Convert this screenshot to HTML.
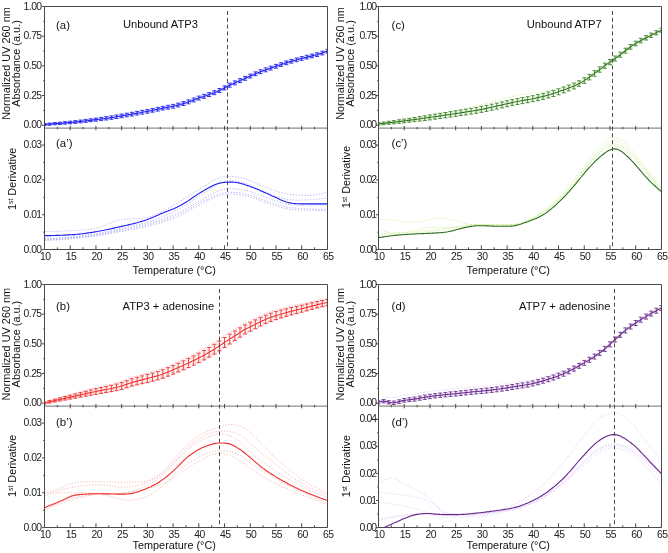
<!DOCTYPE html><html><head><meta charset="utf-8"><style>html,body{margin:0;padding:0;background:#fff;width:668px;height:553px;overflow:hidden}svg{display:block;will-change:transform}</style></head><body>
<svg width="668" height="553" viewBox="0 0 668 553" font-family='"Liberation Sans", sans-serif'>
<rect width="668" height="553" fill="#fff"/>
<clipPath id="cua"><rect x="44.50" y="6.50" width="283.00" height="121.60"/></clipPath>
<clipPath id="cla"><rect x="44.50" y="128.10" width="283.00" height="121.40"/></clipPath>
<g clip-path="url(#cua)"><path d="M44.5 123.7L45.8 123.6L47.1 123.5L48.4 123.4L49.6 123.3L50.9 123.2L52.2 123.1L53.5 123.0L54.8 122.8L56.1 122.7L57.4 122.6L58.6 122.5L59.9 122.4L61.2 122.3L62.5 122.2L63.8 122.1L65.1 122.0L66.4 121.8L67.6 121.7L68.9 121.6L70.2 121.5L71.5 121.3L72.8 121.2L74.1 121.1L75.4 120.9L76.7 120.8L77.9 120.6L79.2 120.5L80.5 120.3L81.8 120.2L83.1 120.0L84.4 119.9L85.7 119.7L86.9 119.6L88.2 119.4L89.5 119.2L90.8 119.1L92.1 118.9L93.4 118.7L94.7 118.6L95.9 118.4L97.2 118.2L98.5 118.1L99.8 117.9L101.1 117.7L102.4 117.6L103.7 117.4L104.9 117.2L106.2 117.0L107.5 116.8L108.8 116.6L110.1 116.4L111.4 116.2L112.7 116.0L113.9 115.8L115.2 115.6L116.5 115.3L117.8 115.1L119.1 114.9L120.4 114.6L121.7 114.4L122.9 114.2L124.2 114.0L125.5 113.8L126.8 113.6L128.1 113.4L129.4 113.1L130.7 112.9L131.9 112.7L133.2 112.5L134.5 112.2L135.8 112.0L137.1 111.7L138.4 111.5L139.7 111.3L140.9 111.0L142.2 110.8L143.5 110.5L144.8 110.3L146.1 110.1L147.4 109.8L148.7 109.6L150.0 109.3L151.2 109.1L152.5 108.8L153.8 108.6L155.1 108.3L156.4 108.0L157.7 107.7L159.0 107.4L160.2 107.2L161.5 106.9L162.8 106.6L164.1 106.4L165.4 106.1L166.7 105.9L168.0 105.7L169.2 105.5L170.5 105.2L171.8 105.0L173.1 104.7L174.4 104.5L175.7 104.2L177.0 103.8L178.2 103.5L179.5 103.2L180.8 102.8L182.1 102.4L183.4 102.0L184.7 101.6L186.0 101.2L187.2 100.7L188.5 100.3L189.8 99.8L191.1 99.4L192.4 98.9L193.7 98.4L195.0 97.9L196.2 97.4L197.5 97.0L198.8 96.5L200.1 96.0L201.4 95.6L202.7 95.2L204.0 94.7L205.2 94.3L206.5 93.9L207.8 93.4L209.1 93.0L210.4 92.5L211.7 92.1L213.0 91.6L214.3 91.1L215.5 90.6L216.8 90.1L218.1 89.5L219.4 88.9L220.7 88.3L222.0 87.7L223.3 87.0L224.5 86.3L225.8 85.6L227.1 84.9L228.4 84.2L229.7 83.6L231.0 83.0L232.3 82.4L233.5 81.8L234.8 81.3L236.1 80.7L237.4 80.2L238.7 79.6L240.0 79.1L241.3 78.5L242.5 77.9L243.8 77.3L245.1 76.8L246.4 76.2L247.7 75.6L249.0 75.0L250.3 74.5L251.5 73.9L252.8 73.3L254.1 72.8L255.4 72.3L256.7 71.7L258.0 71.2L259.3 70.7L260.5 70.2L261.8 69.7L263.1 69.2L264.4 68.8L265.7 68.3L267.0 67.9L268.3 67.4L269.6 67.0L270.8 66.5L272.1 66.1L273.4 65.7L274.7 65.2L276.0 64.8L277.3 64.4L278.6 63.9L279.8 63.5L281.1 63.0L282.4 62.6L283.7 62.2L285.0 61.8L286.3 61.3L287.6 60.9L288.8 60.5L290.1 60.1L291.4 59.8L292.7 59.4L294.0 59.0L295.3 58.7L296.6 58.3L297.8 58.0L299.1 57.7L300.4 57.3L301.7 57.0L303.0 56.7L304.3 56.3L305.6 56.0L306.8 55.7L308.1 55.4L309.4 55.1L310.7 54.8L312.0 54.5L313.3 54.2L314.6 53.9L315.8 53.5L317.1 53.2L318.4 52.8L319.7 52.4L321.0 52.0L322.3 51.6L323.6 51.1L324.8 50.7L326.1 50.2L327.4 49.7" fill="none" stroke="#9a9af5" stroke-width="0.7" stroke-dasharray="1.3 1.6"/><path d="M44.5 125.2L45.8 125.1L47.1 125.0L48.4 124.9L49.6 124.9L50.9 124.8L52.2 124.7L53.5 124.6L54.8 124.5L56.1 124.4L57.4 124.3L58.6 124.2L59.9 124.2L61.2 124.1L62.5 124.0L63.8 123.9L65.1 123.8L66.4 123.7L67.6 123.6L68.9 123.5L70.2 123.4L71.5 123.3L72.8 123.1L74.1 123.0L75.4 122.9L76.7 122.8L77.9 122.7L79.2 122.5L80.5 122.4L81.8 122.3L83.1 122.1L84.4 122.0L85.7 121.9L86.9 121.7L88.2 121.6L89.5 121.4L90.8 121.3L92.1 121.1L93.4 121.0L94.7 120.8L95.9 120.7L97.2 120.5L98.5 120.4L99.8 120.3L101.1 120.1L102.4 120.0L103.7 119.8L104.9 119.7L106.2 119.5L107.5 119.3L108.8 119.1L110.1 119.0L111.4 118.8L112.7 118.6L113.9 118.4L115.2 118.2L116.5 118.0L117.8 117.7L119.1 117.5L120.4 117.3L121.7 117.1L122.9 116.9L124.2 116.7L125.5 116.5L126.8 116.3L128.1 116.1L129.4 115.9L130.7 115.6L131.9 115.4L133.2 115.2L134.5 115.0L135.8 114.7L137.1 114.5L138.4 114.3L139.7 114.0L140.9 113.8L142.2 113.5L143.5 113.3L144.8 113.1L146.1 112.8L147.4 112.6L148.7 112.4L150.0 112.1L151.2 111.9L152.5 111.6L153.8 111.4L155.1 111.1L156.4 110.8L157.7 110.5L159.0 110.3L160.2 110.0L161.5 109.7L162.8 109.5L164.1 109.2L165.4 109.0L166.7 108.7L168.0 108.5L169.2 108.3L170.5 108.1L171.8 107.8L173.1 107.6L174.4 107.3L175.7 107.0L177.0 106.7L178.2 106.4L179.5 106.0L180.8 105.7L182.1 105.3L183.4 104.9L184.7 104.5L186.0 104.1L187.2 103.6L188.5 103.2L189.8 102.7L191.1 102.3L192.4 101.8L193.7 101.3L195.0 100.8L196.2 100.4L197.5 99.9L198.8 99.4L200.1 99.0L201.4 98.5L202.7 98.1L204.0 97.7L205.2 97.2L206.5 96.8L207.8 96.4L209.1 95.9L210.4 95.5L211.7 95.0L213.0 94.6L214.3 94.1L215.5 93.6L216.8 93.1L218.1 92.5L219.4 91.9L220.7 91.3L222.0 90.7L223.3 90.0L224.5 89.3L225.8 88.6L227.1 87.9L228.4 87.2L229.7 86.6L231.0 86.0L232.3 85.4L233.5 84.8L234.8 84.2L236.1 83.7L237.4 83.1L238.7 82.6L240.0 82.0L241.3 81.4L242.5 80.9L243.8 80.3L245.1 79.7L246.4 79.1L247.7 78.5L249.0 78.0L250.3 77.4L251.5 76.8L252.8 76.3L254.1 75.7L255.4 75.2L256.7 74.6L258.0 74.1L259.3 73.6L260.5 73.1L261.8 72.6L263.1 72.1L264.4 71.7L265.7 71.2L267.0 70.7L268.3 70.3L269.6 69.9L270.8 69.4L272.1 69.0L273.4 68.5L274.7 68.1L276.0 67.7L277.3 67.2L278.6 66.8L279.8 66.3L281.1 65.9L282.4 65.4L283.7 65.0L285.0 64.6L286.3 64.2L287.6 63.8L288.8 63.4L290.1 63.0L291.4 62.6L292.7 62.2L294.0 61.8L295.3 61.5L296.6 61.1L297.8 60.8L299.1 60.4L300.4 60.1L301.7 59.8L303.0 59.4L304.3 59.1L305.6 58.8L306.8 58.5L308.1 58.1L309.4 57.8L310.7 57.5L312.0 57.2L313.3 56.9L314.6 56.6L315.8 56.3L317.1 55.9L318.4 55.6L319.7 55.2L321.0 54.8L322.3 54.3L323.6 53.9L324.8 53.4L326.1 52.9L327.4 52.4" fill="none" stroke="#9a9af5" stroke-width="0.7" stroke-dasharray="1.3 1.6"/><path d="M44.5 124.9L45.8 124.8L47.1 124.7L48.4 124.6L49.6 124.5L50.9 124.4L52.2 124.4L53.5 124.3L54.8 124.2L56.1 124.1L57.4 124.0L58.6 123.9L59.9 123.8L61.2 123.7L62.5 123.6L63.8 123.5L65.1 123.4L66.4 123.3L67.6 123.2L68.9 123.1L70.2 123.0L71.5 122.9L72.8 122.8L74.1 122.6L75.4 122.5L76.7 122.4L77.9 122.3L79.2 122.1L80.5 122.0L81.8 121.9L83.1 121.7L84.4 121.6L85.7 121.4L86.9 121.3L88.2 121.1L89.5 121.0L90.8 120.8L92.1 120.7L93.4 120.5L94.7 120.4L95.9 120.2L97.2 120.1L98.5 119.9L99.8 119.8L101.1 119.6L102.4 119.5L103.7 119.3L104.9 119.2L106.2 119.0L107.5 118.8L108.8 118.6L110.1 118.5L111.4 118.3L112.7 118.1L113.9 117.9L115.2 117.6L116.5 117.4L117.8 117.2L119.1 117.0L120.4 116.8L121.7 116.6L122.9 116.4L124.2 116.2L125.5 116.0L126.8 115.7L128.1 115.5L129.4 115.3L130.7 115.1L131.9 114.9L133.2 114.6L134.5 114.4L135.8 114.2L137.1 113.9L138.4 113.7L139.7 113.5L140.9 113.2L142.2 113.0L143.5 112.7L144.8 112.5L146.1 112.3L147.4 112.0L148.7 111.8L150.0 111.6L151.2 111.3L152.5 111.1L153.8 110.8L155.1 110.5L156.4 110.3L157.7 110.0L159.0 109.7L160.2 109.4L161.5 109.1L162.8 108.9L164.1 108.6L165.4 108.4L166.7 108.2L168.0 108.0L169.2 107.7L170.5 107.5L171.8 107.3L173.1 107.0L174.4 106.7L175.7 106.4L177.0 106.1L178.2 105.8L179.5 105.5L180.8 105.1L182.1 104.7L183.4 104.3L184.7 103.9L186.0 103.5L187.2 103.0L188.5 102.6L189.8 102.1L191.1 101.7L192.4 101.2L193.7 100.7L195.0 100.3L196.2 99.8L197.5 99.3L198.8 98.8L200.1 98.4L201.4 97.9L202.7 97.5L204.0 97.1L205.2 96.6L206.5 96.2L207.8 95.8L209.1 95.3L210.4 94.9L211.7 94.4L213.0 94.0L214.3 93.5L215.5 93.0L216.8 92.5L218.1 91.9L219.4 91.3L220.7 90.7L222.0 90.1L223.3 89.4L224.5 88.7L225.8 88.0L227.1 87.3L228.4 86.6L229.7 86.0L231.0 85.4L232.3 84.8L233.5 84.2L234.8 83.6L236.1 83.1L237.4 82.5L238.7 82.0L240.0 81.4L241.3 80.9L242.5 80.3L243.8 79.7L245.1 79.1L246.4 78.5L247.7 78.0L249.0 77.4L250.3 76.8L251.5 76.2L252.8 75.7L254.1 75.1L255.4 74.6L256.7 74.0L258.0 73.5L259.3 73.0L260.5 72.5L261.8 72.0L263.1 71.5L264.4 71.1L265.7 70.6L267.0 70.2L268.3 69.7L269.6 69.3L270.8 68.8L272.1 68.4L273.4 68.0L274.7 67.5L276.0 67.1L277.3 66.6L278.6 66.2L279.8 65.8L281.1 65.3L282.4 64.9L283.7 64.4L285.0 64.0L286.3 63.6L287.6 63.2L288.8 62.8L290.1 62.4L291.4 62.0L292.7 61.6L294.0 61.3L295.3 60.9L296.6 60.6L297.8 60.2L299.1 59.9L300.4 59.5L301.7 59.2L303.0 58.9L304.3 58.5L305.6 58.2L306.8 57.9L308.1 57.6L309.4 57.3L310.7 57.0L312.0 56.7L313.3 56.4L314.6 56.1L315.8 55.7L317.1 55.4L318.4 55.0L319.7 54.6L321.0 54.2L322.3 53.8L323.6 53.3L324.8 52.8L326.1 52.3L327.4 51.8" fill="none" stroke="#9a9af5" stroke-width="0.7" stroke-dasharray="1.3 1.6"/><path d="M44.5 124.2L45.8 124.1L47.1 124.0L48.4 123.9L49.6 123.8L50.9 123.7L52.2 123.6L53.5 123.5L54.8 123.4L56.1 123.3L57.4 123.2L58.6 123.1L59.9 123.0L61.2 122.9L62.5 122.8L63.8 122.7L65.1 122.6L66.4 122.5L67.6 122.3L68.9 122.2L70.2 122.1L71.5 122.0L72.8 121.9L74.1 121.7L75.4 121.6L76.7 121.5L77.9 121.3L79.2 121.2L80.5 121.0L81.8 120.9L83.1 120.7L84.4 120.6L85.7 120.4L86.9 120.3L88.2 120.1L89.5 120.0L90.8 119.8L92.1 119.6L93.4 119.5L94.7 119.3L95.9 119.2L97.2 119.0L98.5 118.8L99.8 118.7L101.1 118.5L102.4 118.4L103.7 118.2L104.9 118.0L106.2 117.8L107.5 117.7L108.8 117.5L110.1 117.3L111.4 117.1L112.7 116.9L113.9 116.7L115.2 116.4L116.5 116.2L117.8 116.0L119.1 115.8L120.4 115.5L121.7 115.3L122.9 115.1L124.2 114.9L125.5 114.7L126.8 114.5L128.1 114.3L129.4 114.0L130.7 113.8L131.9 113.6L133.2 113.4L134.5 113.1L135.8 112.9L137.1 112.7L138.4 112.4L139.7 112.2L140.9 111.9L142.2 111.7L143.5 111.5L144.8 111.2L146.1 111.0L147.4 110.7L148.7 110.5L150.0 110.3L151.2 110.0L152.5 109.8L153.8 109.5L155.1 109.2L156.4 108.9L157.7 108.7L159.0 108.4L160.2 108.1L161.5 107.8L162.8 107.6L164.1 107.3L165.4 107.1L166.7 106.9L168.0 106.6L169.2 106.4L170.5 106.2L171.8 105.9L173.1 105.7L174.4 105.4L175.7 105.1L177.0 104.8L178.2 104.5L179.5 104.1L180.8 103.8L182.1 103.4L183.4 103.0L184.7 102.6L186.0 102.1L187.2 101.7L188.5 101.2L189.8 100.8L191.1 100.3L192.4 99.8L193.7 99.4L195.0 98.9L196.2 98.4L197.5 97.9L198.8 97.5L200.1 97.0L201.4 96.6L202.7 96.1L204.0 95.7L205.2 95.3L206.5 94.8L207.8 94.4L209.1 94.0L210.4 93.5L211.7 93.0L213.0 92.6L214.3 92.1L215.5 91.6L216.8 91.1L218.1 90.5L219.4 89.9L220.7 89.3L222.0 88.7L223.3 88.0L224.5 87.3L225.8 86.6L227.1 85.9L228.4 85.2L229.7 84.6L231.0 84.0L232.3 83.4L233.5 82.8L234.8 82.3L236.1 81.7L237.4 81.2L238.7 80.6L240.0 80.1L241.3 79.5L242.5 78.9L243.8 78.3L245.1 77.7L246.4 77.2L247.7 76.6L249.0 76.0L250.3 75.4L251.5 74.9L252.8 74.3L254.1 73.8L255.4 73.2L256.7 72.7L258.0 72.2L259.3 71.7L260.5 71.2L261.8 70.7L263.1 70.2L264.4 69.7L265.7 69.3L267.0 68.8L268.3 68.4L269.6 67.9L270.8 67.5L272.1 67.1L273.4 66.6L274.7 66.2L276.0 65.8L277.3 65.3L278.6 64.9L279.8 64.4L281.1 64.0L282.4 63.6L283.7 63.1L285.0 62.7L286.3 62.3L287.6 61.9L288.8 61.5L290.1 61.1L291.4 60.7L292.7 60.3L294.0 60.0L295.3 59.6L296.6 59.3L297.8 58.9L299.1 58.6L300.4 58.2L301.7 57.9L303.0 57.6L304.3 57.3L305.6 56.9L306.8 56.6L308.1 56.3L309.4 56.0L310.7 55.7L312.0 55.4L313.3 55.1L314.6 54.8L315.8 54.4L317.1 54.1L318.4 53.7L319.7 53.4L321.0 52.9L322.3 52.5L323.6 52.1L324.8 51.6L326.1 51.1L327.4 50.6" fill="none" stroke="#9a9af5" stroke-width="0.7" stroke-dasharray="1.3 1.6"/></g>
<g clip-path="url(#cua)">
<path d="M44.5 124.5L45.8 124.4L47.1 124.3L48.4 124.2L49.6 124.1L50.9 124.0L52.2 123.9L53.5 123.8L54.8 123.7L56.1 123.6L57.4 123.5L58.6 123.4L59.9 123.3L61.2 123.2L62.5 123.1L63.8 123.0L65.1 122.9L66.4 122.8L67.6 122.7L68.9 122.6L70.2 122.5L71.5 122.4L72.8 122.2L74.1 122.1L75.4 122.0L76.7 121.9L77.9 121.7L79.2 121.6L80.5 121.4L81.8 121.3L83.1 121.2L84.4 121.0L85.7 120.9L86.9 120.7L88.2 120.6L89.5 120.4L90.8 120.2L92.1 120.1L93.4 119.9L94.7 119.8L95.9 119.6L97.2 119.5L98.5 119.3L99.8 119.2L101.1 119.0L102.4 118.8L103.7 118.7L104.9 118.5L106.2 118.3L107.5 118.2L108.8 118.0L110.1 117.8L111.4 117.6L112.7 117.4L113.9 117.2L115.2 117.0L116.5 116.7L117.8 116.5L119.1 116.3L120.4 116.1L121.7 115.9L122.9 115.7L124.2 115.4L125.5 115.2L126.8 115.0L128.1 114.8L129.4 114.6L130.7 114.4L131.9 114.1L133.2 113.9L134.5 113.7L135.8 113.4L137.1 113.2L138.4 113.0L139.7 112.7L140.9 112.5L142.2 112.2L143.5 112.0L144.8 111.8L146.1 111.5L147.4 111.3L148.7 111.1L150.0 110.8L151.2 110.6L152.5 110.3L153.8 110.1L155.1 109.8L156.4 109.5L157.7 109.2L159.0 108.9L160.2 108.7L161.5 108.4L162.8 108.1L164.1 107.9L165.4 107.7L166.7 107.4L168.0 107.2L169.2 107.0L170.5 106.7L171.8 106.5L173.1 106.3L174.4 106.0L175.7 105.7L177.0 105.4L178.2 105.0L179.5 104.7L180.8 104.3L182.1 103.9L183.4 103.6L184.7 103.1L186.0 102.7L187.2 102.3L188.5 101.8L189.8 101.4L191.1 100.9L192.4 100.4L193.7 100.0L195.0 99.5L196.2 99.0L197.5 98.5L198.8 98.1L200.1 97.6L201.4 97.2L202.7 96.7L204.0 96.3L205.2 95.9L206.5 95.4L207.8 95.0L209.1 94.6L210.4 94.1L211.7 93.6L213.0 93.2L214.3 92.7L215.5 92.2L216.8 91.7L218.1 91.1L219.4 90.5L220.7 89.9L222.0 89.3L223.3 88.6L224.5 87.9L225.8 87.2L227.1 86.5L228.4 85.8L229.7 85.2L231.0 84.6L232.3 84.0L233.5 83.4L234.8 82.9L236.1 82.3L237.4 81.8L238.7 81.2L240.0 80.6L241.3 80.1L242.5 79.5L243.8 78.9L245.1 78.3L246.4 77.7L247.7 77.2L249.0 76.6L250.3 76.0L251.5 75.5L252.8 74.9L254.1 74.4L255.4 73.8L256.7 73.3L258.0 72.8L259.3 72.2L260.5 71.7L261.8 71.3L263.1 70.8L264.4 70.3L265.7 69.9L267.0 69.4L268.3 69.0L269.6 68.5L270.8 68.1L272.1 67.6L273.4 67.2L274.7 66.8L276.0 66.3L277.3 65.9L278.6 65.4L279.8 65.0L281.1 64.6L282.4 64.1L283.7 63.7L285.0 63.3L286.3 62.8L287.6 62.4L288.8 62.0L290.1 61.6L291.4 61.3L292.7 60.9L294.0 60.5L295.3 60.2L296.6 59.8L297.8 59.5L299.1 59.1L300.4 58.8L301.7 58.5L303.0 58.1L304.3 57.8L305.6 57.5L306.8 57.2L308.1 56.9L309.4 56.6L310.7 56.3L312.0 55.9L313.3 55.6L314.6 55.3L315.8 55.0L317.1 54.7L318.4 54.3L319.7 53.9L321.0 53.5L322.3 53.1L323.6 52.6L324.8 52.1L326.1 51.6L327.4 51.1" fill="none" stroke="#1c1cf4" stroke-width="1.1"/>
<path d="M44.5 123.5V125.5M42.5 123.5H46.5M42.5 125.5H46.5M49.6 123.1V125.2M47.6 123.1H51.6M47.6 125.2H51.6M54.8 122.6V124.8M52.8 122.6H56.8M52.8 124.8H56.8M59.9 122.2V124.5M57.9 122.2H61.9M57.9 124.5H61.9M65.1 121.7V124.1M63.1 121.7H67.1M63.1 124.1H67.1M70.2 121.2V123.8M68.2 121.2H72.2M68.2 123.8H72.2M75.4 120.7V123.3M73.4 120.7H77.4M73.4 123.3H77.4M80.5 120.1V122.8M78.5 120.1H82.5M78.5 122.8H82.5M85.7 119.4V122.3M83.7 119.4H87.7M83.7 122.3H87.7M90.8 118.8V121.7M88.8 118.8H92.8M88.8 121.7H92.8M95.9 118.1V121.2M93.9 118.1H97.9M93.9 121.2H97.9M101.1 117.4V120.6M99.1 117.4H103.1M99.1 120.6H103.1M106.2 116.7V120.0M104.2 116.7H108.2M104.2 120.0H108.2M111.4 115.9V119.3M109.4 115.9H113.4M109.4 119.3H113.4M116.5 115.0V118.5M114.5 115.0H118.5M114.5 118.5H118.5M121.7 114.1V117.7M119.7 114.1H123.7M119.7 117.7H123.7M126.8 113.2V116.8M124.8 113.2H128.8M124.8 116.8H128.8M131.9 112.3V116.0M129.9 112.3H133.9M129.9 116.0H133.9M137.1 111.4V115.0M135.1 111.4H139.1M135.1 115.0H139.1M142.2 110.4V114.1M140.2 110.4H144.2M140.2 114.1H144.2M147.4 109.5V113.2M145.4 109.5H149.4M145.4 113.2H149.4M152.5 108.5V112.2M150.5 108.5H154.5M150.5 112.2H154.5M157.7 107.4V111.1M155.7 107.4H159.7M155.7 111.1H159.7M162.8 106.3V110.0M160.8 106.3H164.8M160.8 110.0H164.8M168.0 105.3V109.1M166.0 105.3H170.0M166.0 109.1H170.0M173.1 104.4V108.2M171.1 104.4H175.1M171.1 108.2H175.1M178.2 103.1V106.9M176.2 103.1H180.2M176.2 106.9H180.2M183.4 101.6V105.5M181.4 101.6H185.4M181.4 105.5H185.4M188.5 99.9V103.8M186.5 99.9H190.5M186.5 103.8H190.5M193.7 98.0V101.9M191.7 98.0H195.7M191.7 101.9H195.7M198.8 96.1V100.0M196.8 96.1H200.8M196.8 100.0H200.8M204.0 94.3V98.3M202.0 94.3H206.0M202.0 98.3H206.0M209.1 92.6V96.5M207.1 92.6H211.1M207.1 96.5H211.1M214.3 90.7V94.7M212.3 90.7H216.3M212.3 94.7H216.3M219.4 88.5V92.5M217.4 88.5H221.4M217.4 92.5H221.4M224.5 85.9V89.9M222.5 85.9H226.5M222.5 89.9H226.5M229.7 83.2V87.2M227.7 83.2H231.7M227.7 87.2H231.7M234.8 80.9V84.8M232.8 80.9H236.8M232.8 84.8H236.8M240.0 78.7V82.6M238.0 78.7H242.0M238.0 82.6H242.0M245.1 76.4V80.3M243.1 76.4H247.1M243.1 80.3H247.1M250.3 74.1V78.0M248.3 74.1H252.3M248.3 78.0H252.3M255.4 71.9V75.7M253.4 71.9H257.4M253.4 75.7H257.4M260.5 69.8V73.7M258.5 69.8H262.5M258.5 73.7H262.5M265.7 67.9V71.8M263.7 67.9H267.7M263.7 71.8H267.7M270.8 66.2V70.0M268.8 66.2H272.8M268.8 70.0H272.8M276.0 64.4V68.2M274.0 64.4H278.0M274.0 68.2H278.0M281.1 62.7V66.4M279.1 62.7H283.1M279.1 66.4H283.1M286.3 61.0V64.7M284.3 61.0H288.3M284.3 64.7H288.3M291.4 59.4V63.1M289.4 59.4H293.4M289.4 63.1H293.4M296.6 58.0V61.7M294.6 58.0H298.6M294.6 61.7H298.6M301.7 56.6V60.3M299.7 56.6H303.7M299.7 60.3H303.7M306.8 55.3V59.0M304.8 55.3H308.8M304.8 59.0H308.8M312.0 54.1V57.8M310.0 54.1H314.0M310.0 57.8H314.0M317.1 52.8V56.5M315.1 52.8H319.1M315.1 56.5H319.1M322.3 51.2V54.9M320.3 51.2H324.3M320.3 54.9H324.3M327.4 49.3V52.9M325.4 49.3H329.4M325.4 52.9H329.4" fill="none" stroke="#2525f2" stroke-width="0.9"/>
</g>
<g clip-path="url(#cla)"><path d="M44.5 231.5L45.8 231.5L47.1 231.5L48.4 231.4L49.6 231.4L50.9 231.4L52.2 231.4L53.5 231.4L54.8 231.3L56.1 231.3L57.4 231.3L58.6 231.2L59.9 231.2L61.2 231.2L62.5 231.1L63.8 231.1L65.1 231.0L66.4 230.9L67.6 230.9L68.9 230.8L70.2 230.7L71.5 230.7L72.8 230.6L74.1 230.5L75.4 230.4L76.7 230.4L77.9 230.3L79.2 230.2L80.5 230.1L81.8 230.0L83.1 229.9L84.4 229.8L85.7 229.7L86.9 229.6L88.2 229.5L89.5 229.3L90.8 229.2L92.1 229.0L93.4 228.8L94.7 228.6L95.9 228.3L97.2 228.0L98.5 227.7L99.8 227.2L101.1 226.8L102.4 226.3L103.7 225.8L104.9 225.2L106.2 224.7L107.5 224.1L108.8 223.5L110.1 223.0L111.4 222.5L112.7 221.9L113.9 221.5L115.2 221.0L116.5 220.6L117.8 220.3L119.1 220.0L120.4 219.7L121.7 219.5L122.9 219.3L124.2 219.2L125.5 219.1L126.8 219.0L128.1 219.0L129.4 218.9L130.7 218.9L131.9 218.8L133.2 218.8L134.5 218.7L135.8 218.7L137.1 218.6L138.4 218.5L139.7 218.5L140.9 218.4L142.2 218.3L143.5 218.1L144.8 217.9L146.1 217.7L147.4 217.4L148.7 217.1L150.0 216.7L151.2 216.3L152.5 215.8L153.8 215.3L155.1 214.8L156.4 214.2L157.7 213.7L159.0 213.1L160.2 212.5L161.5 211.8L162.8 211.2L164.1 210.6L165.4 209.9L166.7 209.3L168.0 208.6L169.2 207.9L170.5 207.2L171.8 206.4L173.1 205.7L174.4 204.9L175.7 204.1L177.0 203.3L178.2 202.5L179.5 201.7L180.8 200.9L182.1 200.1L183.4 199.2L184.7 198.4L186.0 197.6L187.2 196.7L188.5 195.9L189.8 195.1L191.1 194.3L192.4 193.5L193.7 192.7L195.0 191.9L196.2 191.2L197.5 190.4L198.8 189.6L200.1 188.8L201.4 188.0L202.7 187.2L204.0 186.4L205.2 185.5L206.5 184.7L207.8 183.9L209.1 183.0L210.4 182.2L211.7 181.4L213.0 180.7L214.3 180.0L215.5 179.3L216.8 178.7L218.1 178.2L219.4 177.8L220.7 177.4L222.0 177.1L223.3 176.9L224.5 176.7L225.8 176.6L227.1 176.5L228.4 176.5L229.7 176.5L231.0 176.5L232.3 176.5L233.5 176.5L234.8 176.6L236.1 176.7L237.4 176.9L238.7 177.1L240.0 177.3L241.3 177.6L242.5 178.0L243.8 178.4L245.1 178.8L246.4 179.3L247.7 179.8L249.0 180.3L250.3 180.9L251.5 181.4L252.8 181.9L254.1 182.5L255.4 183.0L256.7 183.6L258.0 184.1L259.3 184.6L260.5 185.1L261.8 185.6L263.1 186.1L264.4 186.6L265.7 187.1L267.0 187.6L268.3 188.1L269.6 188.6L270.8 189.1L272.1 189.6L273.4 190.1L274.7 190.6L276.0 191.0L277.3 191.4L278.6 191.9L279.8 192.2L281.1 192.6L282.4 192.9L283.7 193.2L285.0 193.5L286.3 193.7L287.6 193.9L288.8 194.1L290.1 194.3L291.4 194.5L292.7 194.6L294.0 194.7L295.3 194.9L296.6 195.0L297.8 195.1L299.1 195.2L300.4 195.3L301.7 195.4L303.0 195.4L304.3 195.4L305.6 195.5L306.8 195.5L308.1 195.4L309.4 195.4L310.7 195.3L312.0 195.2L313.3 195.0L314.6 194.9L315.8 194.7L317.1 194.5L318.4 194.2L319.7 194.0L321.0 193.7L322.3 193.4L323.6 193.1L324.8 192.7L326.1 192.4L327.4 192.0" fill="none" stroke="#9a9af5" stroke-width="0.7" stroke-dasharray="1.3 1.6"/><path d="M44.5 238.4L45.8 238.4L47.1 238.4L48.4 238.4L49.6 238.3L50.9 238.3L52.2 238.3L53.5 238.2L54.8 238.2L56.1 238.1L57.4 238.0L58.6 237.9L59.9 237.9L61.2 237.8L62.5 237.7L63.8 237.6L65.1 237.5L66.4 237.4L67.6 237.2L68.9 237.1L70.2 237.0L71.5 236.9L72.8 236.7L74.1 236.6L75.4 236.5L76.7 236.3L77.9 236.2L79.2 236.0L80.5 235.9L81.8 235.7L83.1 235.6L84.4 235.4L85.7 235.2L86.9 235.1L88.2 234.9L89.5 234.7L90.8 234.6L92.1 234.4L93.4 234.2L94.7 234.0L95.9 233.8L97.2 233.6L98.5 233.4L99.8 233.1L101.1 232.9L102.4 232.6L103.7 232.3L104.9 232.0L106.2 231.7L107.5 231.4L108.8 231.1L110.1 230.8L111.4 230.5L112.7 230.2L113.9 229.9L115.2 229.6L116.5 229.3L117.8 229.0L119.1 228.7L120.4 228.4L121.7 228.2L122.9 227.9L124.2 227.6L125.5 227.4L126.8 227.1L128.1 226.8L129.4 226.6L130.7 226.3L131.9 226.0L133.2 225.7L134.5 225.5L135.8 225.2L137.1 224.9L138.4 224.6L139.7 224.3L140.9 223.9L142.2 223.6L143.5 223.3L144.8 222.9L146.1 222.5L147.4 222.1L148.7 221.7L150.0 221.3L151.2 220.9L152.5 220.5L153.8 220.0L155.1 219.6L156.4 219.1L157.7 218.6L159.0 218.1L160.2 217.6L161.5 217.1L162.8 216.5L164.1 216.0L165.4 215.5L166.7 214.9L168.0 214.3L169.2 213.8L170.5 213.2L171.8 212.6L173.1 212.0L174.4 211.4L175.7 210.7L177.0 210.1L178.2 209.4L179.5 208.7L180.8 208.0L182.1 207.3L183.4 206.5L184.7 205.8L186.0 205.0L187.2 204.1L188.5 203.3L189.8 202.5L191.1 201.6L192.4 200.7L193.7 199.9L195.0 199.0L196.2 198.2L197.5 197.3L198.8 196.4L200.1 195.6L201.4 194.8L202.7 193.9L204.0 193.1L205.2 192.2L206.5 191.4L207.8 190.5L209.1 189.6L210.4 188.7L211.7 187.8L213.0 186.9L214.3 186.0L215.5 185.2L216.8 184.4L218.1 183.7L219.4 183.0L220.7 182.4L222.0 181.9L223.3 181.4L224.5 181.1L225.8 180.8L227.1 180.7L228.4 180.6L229.7 180.6L231.0 180.6L232.3 180.7L233.5 180.8L234.8 181.0L236.1 181.1L237.4 181.3L238.7 181.6L240.0 181.8L241.3 182.1L242.5 182.4L243.8 182.8L245.1 183.2L246.4 183.6L247.7 184.1L249.0 184.6L250.3 185.2L251.5 185.7L252.8 186.3L254.1 186.9L255.4 187.5L256.7 188.1L258.0 188.7L259.3 189.3L260.5 189.9L261.8 190.4L263.1 191.0L264.4 191.5L265.7 192.1L267.0 192.6L268.3 193.1L269.6 193.6L270.8 194.1L272.1 194.6L273.4 195.2L274.7 195.7L276.0 196.2L277.3 196.7L278.6 197.1L279.8 197.6L281.1 198.0L282.4 198.4L283.7 198.7L285.0 199.0L286.3 199.3L287.6 199.5L288.8 199.7L290.1 199.8L291.4 199.9L292.7 200.0L294.0 200.0L295.3 200.1L296.6 200.1L297.8 200.1L299.1 200.1L300.4 200.1L301.7 200.0L303.0 200.0L304.3 200.0L305.6 200.0L306.8 199.9L308.1 199.9L309.4 199.8L310.7 199.7L312.0 199.7L313.3 199.6L314.6 199.5L315.8 199.4L317.1 199.3L318.4 199.2L319.7 199.0L321.0 198.9L322.3 198.7L323.6 198.6L324.8 198.4L326.1 198.2L327.4 197.9" fill="none" stroke="#9a9af5" stroke-width="0.7" stroke-dasharray="1.3 1.6"/><path d="M44.5 239.1L45.8 239.1L47.1 239.1L48.4 239.0L49.6 239.0L50.9 239.0L52.2 238.9L53.5 238.9L54.8 238.8L56.1 238.7L57.4 238.7L58.6 238.6L59.9 238.5L61.2 238.4L62.5 238.3L63.8 238.2L65.1 238.1L66.4 238.0L67.6 237.9L68.9 237.7L70.2 237.6L71.5 237.5L72.8 237.4L74.1 237.2L75.4 237.1L76.7 237.0L77.9 236.8L79.2 236.7L80.5 236.5L81.8 236.4L83.1 236.2L84.4 236.1L85.7 235.9L86.9 235.8L88.2 235.6L89.5 235.4L90.8 235.3L92.1 235.1L93.4 234.9L94.7 234.7L95.9 234.5L97.2 234.3L98.5 234.1L99.8 233.9L101.1 233.6L102.4 233.4L103.7 233.1L104.9 232.9L106.2 232.6L107.5 232.3L108.8 232.0L110.1 231.7L111.4 231.4L112.7 231.2L113.9 230.9L115.2 230.6L116.5 230.3L117.8 230.0L119.1 229.8L120.4 229.5L121.7 229.2L122.9 229.0L124.2 228.7L125.5 228.5L126.8 228.2L128.1 228.0L129.4 227.7L130.7 227.5L131.9 227.2L133.2 226.9L134.5 226.7L135.8 226.4L137.1 226.1L138.4 225.9L139.7 225.6L140.9 225.3L142.2 225.0L143.5 224.7L144.8 224.3L146.1 224.0L147.4 223.7L148.7 223.3L150.0 223.0L151.2 222.6L152.5 222.2L153.8 221.8L155.1 221.4L156.4 221.0L157.7 220.6L159.0 220.2L160.2 219.8L161.5 219.4L162.8 218.9L164.1 218.5L165.4 218.0L166.7 217.6L168.0 217.1L169.2 216.6L170.5 216.1L171.8 215.6L173.1 215.1L174.4 214.6L175.7 214.0L177.0 213.5L178.2 212.9L179.5 212.3L180.8 211.7L182.1 211.0L183.4 210.3L184.7 209.6L186.0 208.9L187.2 208.2L188.5 207.4L189.8 206.6L191.1 205.8L192.4 205.1L193.7 204.3L195.0 203.5L196.2 202.7L197.5 202.0L198.8 201.2L200.1 200.5L201.4 199.8L202.7 199.1L204.0 198.4L205.2 197.7L206.5 197.0L207.8 196.3L209.1 195.6L210.4 194.9L211.7 194.2L213.0 193.6L214.3 192.9L215.5 192.3L216.8 191.7L218.1 191.1L219.4 190.6L220.7 190.2L222.0 189.8L223.3 189.5L224.5 189.2L225.8 189.0L227.1 188.9L228.4 188.8L229.7 188.8L231.0 188.8L232.3 188.8L233.5 188.9L234.8 189.0L236.1 189.1L237.4 189.2L238.7 189.3L240.0 189.5L241.3 189.6L242.5 189.8L243.8 190.1L245.1 190.4L246.4 190.7L247.7 191.0L249.0 191.4L250.3 191.8L251.5 192.2L252.8 192.7L254.1 193.1L255.4 193.6L256.7 194.1L258.0 194.6L259.3 195.0L260.5 195.5L261.8 196.0L263.1 196.4L264.4 196.9L265.7 197.3L267.0 197.8L268.3 198.2L269.6 198.7L270.8 199.2L272.1 199.7L273.4 200.1L274.7 200.6L276.0 201.1L277.3 201.6L278.6 202.0L279.8 202.5L281.1 202.9L282.4 203.3L283.7 203.6L285.0 203.9L286.3 204.2L287.6 204.4L288.8 204.6L290.1 204.7L291.4 204.8L292.7 204.9L294.0 204.9L295.3 205.0L296.6 205.0L297.8 205.0L299.1 205.0L300.4 205.0L301.7 205.0L303.0 205.0L304.3 205.0L305.6 205.0L306.8 205.0L308.1 205.0L309.4 205.0L310.7 205.0L312.0 205.0L313.3 205.0L314.6 205.0L315.8 205.0L317.1 205.0L318.4 205.0L319.7 205.0L321.0 205.0L322.3 205.0L323.6 205.0L324.8 205.0L326.1 205.0L327.4 205.0" fill="none" stroke="#9a9af5" stroke-width="0.7" stroke-dasharray="1.3 1.6"/><path d="M44.5 239.8L45.8 239.8L47.1 239.8L48.4 239.7L49.6 239.7L50.9 239.6L52.2 239.6L53.5 239.5L54.8 239.4L56.1 239.4L57.4 239.3L58.6 239.2L59.9 239.1L61.2 239.0L62.5 238.9L63.8 238.8L65.1 238.7L66.4 238.6L67.6 238.5L68.9 238.4L70.2 238.3L71.5 238.1L72.8 238.0L74.1 237.9L75.4 237.7L76.7 237.6L77.9 237.5L79.2 237.3L80.5 237.2L81.8 237.0L83.1 236.9L84.4 236.7L85.7 236.6L86.9 236.4L88.2 236.3L89.5 236.1L90.8 236.0L92.1 235.8L93.4 235.6L94.7 235.4L95.9 235.3L97.2 235.1L98.5 234.8L99.8 234.6L101.1 234.4L102.4 234.2L103.7 233.9L104.9 233.7L106.2 233.4L107.5 233.2L108.8 232.9L110.1 232.6L111.4 232.4L112.7 232.1L113.9 231.8L115.2 231.6L116.5 231.3L117.8 231.1L119.1 230.8L120.4 230.6L121.7 230.3L122.9 230.1L124.2 229.8L125.5 229.6L126.8 229.4L128.1 229.1L129.4 228.9L130.7 228.7L131.9 228.4L133.2 228.2L134.5 227.9L135.8 227.7L137.1 227.4L138.4 227.2L139.7 226.9L140.9 226.6L142.2 226.3L143.5 226.0L144.8 225.7L146.1 225.4L147.4 225.1L148.7 224.8L150.0 224.4L151.2 224.1L152.5 223.7L153.8 223.3L155.1 223.0L156.4 222.6L157.7 222.2L159.0 221.8L160.2 221.4L161.5 220.9L162.8 220.5L164.1 220.1L165.4 219.6L166.7 219.2L168.0 218.7L169.2 218.2L170.5 217.8L171.8 217.3L173.1 216.8L174.4 216.3L175.7 215.7L177.0 215.2L178.2 214.6L179.5 214.1L180.8 213.4L182.1 212.8L183.4 212.2L184.7 211.5L186.0 210.8L187.2 210.1L188.5 209.4L189.8 208.6L191.1 207.9L192.4 207.1L193.7 206.4L195.0 205.6L196.2 204.9L197.5 204.2L198.8 203.5L200.1 202.8L201.4 202.1L202.7 201.5L204.0 200.8L205.2 200.2L206.5 199.6L207.8 198.9L209.1 198.3L210.4 197.7L211.7 197.1L213.0 196.5L214.3 195.9L215.5 195.3L216.8 194.8L218.1 194.3L219.4 193.9L220.7 193.5L222.0 193.1L223.3 192.9L224.5 192.6L225.8 192.5L227.1 192.4L228.4 192.3L229.7 192.3L231.0 192.3L232.3 192.3L233.5 192.4L234.8 192.5L236.1 192.5L237.4 192.7L238.7 192.8L240.0 192.9L241.3 193.1L242.5 193.3L243.8 193.6L245.1 193.9L246.4 194.2L247.7 194.5L249.0 194.9L250.3 195.3L251.5 195.8L252.8 196.2L254.1 196.7L255.4 197.1L256.7 197.6L258.0 198.1L259.3 198.6L260.5 199.0L261.8 199.5L263.1 199.9L264.4 200.4L265.7 200.8L267.0 201.2L268.3 201.6L269.6 202.0L270.8 202.4L272.1 202.9L273.4 203.3L274.7 203.7L276.0 204.1L277.3 204.5L278.6 204.9L279.8 205.3L281.1 205.6L282.4 206.0L283.7 206.3L285.0 206.6L286.3 206.9L287.6 207.1L288.8 207.3L290.1 207.5L291.4 207.7L292.7 207.8L294.0 207.9L295.3 208.1L296.6 208.2L297.8 208.3L299.1 208.4L300.4 208.5L301.7 208.6L303.0 208.6L304.3 208.7L305.6 208.8L306.8 208.9L308.1 208.9L309.4 209.0L310.7 209.1L312.0 209.1L313.3 209.2L314.6 209.2L315.8 209.3L317.1 209.3L318.4 209.4L319.7 209.4L321.0 209.4L322.3 209.5L323.6 209.5L324.8 209.5L326.1 209.5L327.4 209.5" fill="none" stroke="#9a9af5" stroke-width="0.7" stroke-dasharray="1.3 1.6"/><path d="M44.5 240.5L45.8 240.5L47.1 240.4L48.4 240.4L49.6 240.3L50.9 240.3L52.2 240.2L53.5 240.1L54.8 240.1L56.1 240.0L57.4 239.9L58.6 239.8L59.9 239.7L61.2 239.6L62.5 239.5L63.8 239.4L65.1 239.3L66.4 239.2L67.6 239.1L68.9 239.0L70.2 238.9L71.5 238.8L72.8 238.6L74.1 238.5L75.4 238.4L76.7 238.2L77.9 238.1L79.2 238.0L80.5 237.8L81.8 237.7L83.1 237.5L84.4 237.4L85.7 237.3L86.9 237.1L88.2 237.0L89.5 236.8L90.8 236.6L92.1 236.5L93.4 236.3L94.7 236.2L95.9 236.0L97.2 235.8L98.5 235.6L99.8 235.4L101.1 235.2L102.4 235.0L103.7 234.7L104.9 234.5L106.2 234.3L107.5 234.0L108.8 233.8L110.1 233.5L111.4 233.3L112.7 233.0L113.9 232.8L115.2 232.6L116.5 232.3L117.8 232.1L119.1 231.8L120.4 231.6L121.7 231.4L122.9 231.2L124.2 231.0L125.5 230.7L126.8 230.5L128.1 230.3L129.4 230.1L130.7 229.9L131.9 229.7L133.2 229.4L134.5 229.2L135.8 229.0L137.1 228.7L138.4 228.5L139.7 228.2L140.9 228.0L142.2 227.7L143.5 227.4L144.8 227.1L146.1 226.8L147.4 226.5L148.7 226.2L150.0 225.9L151.2 225.5L152.5 225.2L153.8 224.8L155.1 224.5L156.4 224.1L157.7 223.7L159.0 223.3L160.2 222.9L161.5 222.5L162.8 222.1L164.1 221.7L165.4 221.3L166.7 220.8L168.0 220.4L169.2 219.9L170.5 219.4L171.8 219.0L173.1 218.5L174.4 218.0L175.7 217.4L177.0 216.9L178.2 216.4L179.5 215.8L180.8 215.2L182.1 214.6L183.4 213.9L184.7 213.3L186.0 212.6L187.2 211.8L188.5 211.1L189.8 210.4L191.1 209.6L192.4 208.9L193.7 208.1L195.0 207.4L196.2 206.7L197.5 205.9L198.8 205.2L200.1 204.6L201.4 203.9L202.7 203.2L204.0 202.6L205.2 202.0L206.5 201.3L207.8 200.7L209.1 200.1L210.4 199.4L211.7 198.8L213.0 198.2L214.3 197.6L215.5 197.1L216.8 196.5L218.1 196.1L219.4 195.6L220.7 195.2L222.0 194.9L223.3 194.6L224.5 194.4L225.8 194.2L227.1 194.1L228.4 194.0L229.7 194.0L231.0 194.0L232.3 194.1L233.5 194.1L234.8 194.2L236.1 194.3L237.4 194.4L238.7 194.5L240.0 194.7L241.3 194.9L242.5 195.1L243.8 195.3L245.1 195.6L246.4 195.9L247.7 196.3L249.0 196.7L250.3 197.1L251.5 197.5L252.8 198.0L254.1 198.4L255.4 198.9L256.7 199.4L258.0 199.8L259.3 200.3L260.5 200.8L261.8 201.2L263.1 201.7L264.4 202.1L265.7 202.5L267.0 202.9L268.3 203.4L269.6 203.8L270.8 204.2L272.1 204.6L273.4 205.1L274.7 205.5L276.0 205.9L277.3 206.3L278.6 206.7L279.8 207.1L281.1 207.5L282.4 207.8L283.7 208.1L285.0 208.4L286.3 208.7L287.6 208.9L288.8 209.1L290.1 209.3L291.4 209.4L292.7 209.5L294.0 209.6L295.3 209.7L296.6 209.8L297.8 209.8L299.1 209.9L300.4 210.0L301.7 210.0L303.0 210.1L304.3 210.1L305.6 210.2L306.8 210.2L308.1 210.2L309.4 210.3L310.7 210.3L312.0 210.4L313.3 210.4L314.6 210.4L315.8 210.4L317.1 210.5L318.4 210.5L319.7 210.5L321.0 210.5L322.3 210.5L323.6 210.5L324.8 210.5L326.1 210.6L327.4 210.6" fill="none" stroke="#9a9af5" stroke-width="0.7" stroke-dasharray="1.3 1.6"/></g>
<g clip-path="url(#cla)"><path d="M44.5 235.6L45.8 235.6L47.1 235.6L48.4 235.6L49.6 235.6L50.9 235.6L52.2 235.5L53.5 235.5L54.8 235.5L56.1 235.4L57.4 235.4L58.6 235.4L59.9 235.3L61.2 235.2L62.5 235.2L63.8 235.1L65.1 235.1L66.4 235.0L67.6 234.9L68.9 234.9L70.2 234.8L71.5 234.7L72.8 234.6L74.1 234.6L75.4 234.5L76.7 234.3L77.9 234.2L79.2 234.1L80.5 234.0L81.8 233.8L83.1 233.7L84.4 233.5L85.7 233.3L86.9 233.1L88.2 232.9L89.5 232.8L90.8 232.6L92.1 232.4L93.4 232.2L94.7 231.9L95.9 231.7L97.2 231.5L98.5 231.3L99.8 231.0L101.1 230.8L102.4 230.5L103.7 230.3L104.9 230.0L106.2 229.8L107.5 229.5L108.8 229.2L110.1 228.9L111.4 228.7L112.7 228.4L113.9 228.1L115.2 227.8L116.5 227.5L117.8 227.2L119.1 226.9L120.4 226.7L121.7 226.4L122.9 226.1L124.2 225.8L125.5 225.5L126.8 225.2L128.1 224.9L129.4 224.6L130.7 224.3L131.9 224.0L133.2 223.7L134.5 223.4L135.8 223.0L137.1 222.7L138.4 222.3L139.7 222.0L140.9 221.6L142.2 221.2L143.5 220.8L144.8 220.4L146.1 220.0L147.4 219.5L148.7 219.0L150.0 218.5L151.2 218.0L152.5 217.5L153.8 216.9L155.1 216.4L156.4 215.8L157.7 215.2L159.0 214.7L160.2 214.1L161.5 213.6L162.8 213.1L164.1 212.5L165.4 212.0L166.7 211.5L168.0 211.0L169.2 210.5L170.5 210.0L171.8 209.5L173.1 208.9L174.4 208.4L175.7 207.8L177.0 207.2L178.2 206.6L179.5 206.0L180.8 205.3L182.1 204.6L183.4 203.8L184.7 203.1L186.0 202.2L187.2 201.4L188.5 200.6L189.8 199.7L191.1 198.8L192.4 197.9L193.7 197.0L195.0 196.1L196.2 195.3L197.5 194.4L198.8 193.6L200.1 192.8L201.4 192.0L202.7 191.2L204.0 190.5L205.2 189.7L206.5 189.0L207.8 188.3L209.1 187.6L210.4 186.9L211.7 186.2L213.0 185.6L214.3 185.0L215.5 184.5L216.8 184.0L218.1 183.6L219.4 183.2L220.7 182.9L222.0 182.7L223.3 182.5L224.5 182.4L225.8 182.3L227.1 182.2L228.4 182.2L229.7 182.1L231.0 182.1L232.3 182.1L233.5 182.2L234.8 182.3L236.1 182.5L237.4 182.7L238.7 182.9L240.0 183.2L241.3 183.5L242.5 183.9L243.8 184.3L245.1 184.7L246.4 185.2L247.7 185.6L249.0 186.1L250.3 186.5L251.5 187.0L252.8 187.5L254.1 188.0L255.4 188.5L256.7 189.0L258.0 189.6L259.3 190.1L260.5 190.7L261.8 191.2L263.1 191.8L264.4 192.4L265.7 193.0L267.0 193.6L268.3 194.1L269.6 194.7L270.8 195.3L272.1 195.9L273.4 196.4L274.7 197.0L276.0 197.6L277.3 198.2L278.6 198.8L279.8 199.4L281.1 200.0L282.4 200.5L283.7 201.1L285.0 201.5L286.3 202.0L287.6 202.3L288.8 202.7L290.1 202.9L291.4 203.2L292.7 203.3L294.0 203.5L295.3 203.6L296.6 203.7L297.8 203.8L299.1 203.8L300.4 203.9L301.7 203.9L303.0 203.9L304.3 203.9L305.6 203.9L306.8 203.9L308.1 203.9L309.4 203.9L310.7 203.9L312.0 203.9L313.3 203.9L314.6 203.9L315.8 203.9L317.1 203.9L318.4 203.9L319.7 203.9L321.0 203.9L322.3 203.9L323.6 203.9L324.8 203.9L326.1 203.9L327.4 203.9" fill="none" stroke="#1c1cf4" stroke-width="1.1"/></g>
<path d="M44.50 6.50H327.50V249.50H44.50Z" fill="none" stroke="#4a4a4a" stroke-width="1"/>
<path d="M44.50 128.10H327.50" fill="none" stroke="#8c8c8c" stroke-width="1.4"/>
<path d="M227.50 11.00V249.50" stroke="#4a4a4a" stroke-width="1.0" stroke-dasharray="4 2.8"/>
<path d="M44.50 249.50V245.30M44.50 125.90V130.30M57.36 249.50V247.30M57.36 126.90V129.30M70.22 249.50V245.30M70.22 125.90V130.30M83.08 249.50V247.30M83.08 126.90V129.30M95.94 249.50V245.30M95.94 125.90V130.30M108.80 249.50V247.30M108.80 126.90V129.30M121.66 249.50V245.30M121.66 125.90V130.30M134.52 249.50V247.30M134.52 126.90V129.30M147.38 249.50V245.30M147.38 125.90V130.30M160.24 249.50V247.30M160.24 126.90V129.30M173.10 249.50V245.30M173.10 125.90V130.30M185.96 249.50V247.30M185.96 126.90V129.30M198.82 249.50V245.30M198.82 125.90V130.30M211.68 249.50V247.30M211.68 126.90V129.30M224.54 249.50V245.30M224.54 125.90V130.30M237.40 249.50V247.30M237.40 126.90V129.30M250.26 249.50V245.30M250.26 125.90V130.30M263.12 249.50V247.30M263.12 126.90V129.30M275.98 249.50V245.30M275.98 125.90V130.30M288.84 249.50V247.30M288.84 126.90V129.30M301.70 249.50V245.30M301.70 125.90V130.30M314.56 249.50V247.30M314.56 126.90V129.30M327.42 249.50V245.30M327.42 125.90V130.30M44.50 125.20H42.00M44.50 110.36H43.20M44.50 95.53H42.00M44.50 80.69H43.20M44.50 65.85H42.00M44.50 51.01H43.20M44.50 36.17H42.00M44.50 21.34H43.20M44.50 6.50H42.00M44.50 249.60H42.00M44.50 232.17H43.20M44.50 214.75H42.00M44.50 197.32H43.20M44.50 179.90H42.00M44.50 162.47H43.20M44.50 145.05H42.00" stroke="#4a4a4a" stroke-width="1"/>
<text x="41.60" y="9.60" text-anchor="end" font-size="10.4" fill="#222" letter-spacing="-0.55">1.00</text>
<text x="41.60" y="39.27" text-anchor="end" font-size="10.4" fill="#222" letter-spacing="-0.55">0.75</text>
<text x="41.60" y="68.95" text-anchor="end" font-size="10.4" fill="#222" letter-spacing="-0.55">0.50</text>
<text x="41.60" y="98.62" text-anchor="end" font-size="10.4" fill="#222" letter-spacing="-0.55">0.25</text>
<text x="41.60" y="128.30" text-anchor="end" font-size="10.4" fill="#222" letter-spacing="-0.55">0.00</text>
<text x="41.60" y="148.15" text-anchor="end" font-size="10.4" fill="#222" letter-spacing="-0.55">0.03</text>
<text x="41.60" y="183.00" text-anchor="end" font-size="10.4" fill="#222" letter-spacing="-0.55">0.02</text>
<text x="41.60" y="217.85" text-anchor="end" font-size="10.4" fill="#222" letter-spacing="-0.55">0.01</text>
<text x="41.60" y="252.70" text-anchor="end" font-size="10.4" fill="#222" letter-spacing="-0.55">0.00</text>
<text x="45.30" y="259.90" text-anchor="middle" font-size="10.4" fill="#222" letter-spacing="-0.45">10</text>
<text x="71.02" y="259.90" text-anchor="middle" font-size="10.4" fill="#222" letter-spacing="-0.45">15</text>
<text x="96.74" y="259.90" text-anchor="middle" font-size="10.4" fill="#222" letter-spacing="-0.45">20</text>
<text x="122.46" y="259.90" text-anchor="middle" font-size="10.4" fill="#222" letter-spacing="-0.45">25</text>
<text x="148.18" y="259.90" text-anchor="middle" font-size="10.4" fill="#222" letter-spacing="-0.45">30</text>
<text x="173.90" y="259.90" text-anchor="middle" font-size="10.4" fill="#222" letter-spacing="-0.45">35</text>
<text x="199.62" y="259.90" text-anchor="middle" font-size="10.4" fill="#222" letter-spacing="-0.45">40</text>
<text x="225.34" y="259.90" text-anchor="middle" font-size="10.4" fill="#222" letter-spacing="-0.45">45</text>
<text x="251.06" y="259.90" text-anchor="middle" font-size="10.4" fill="#222" letter-spacing="-0.45">50</text>
<text x="276.78" y="259.90" text-anchor="middle" font-size="10.4" fill="#222" letter-spacing="-0.45">55</text>
<text x="302.50" y="259.90" text-anchor="middle" font-size="10.4" fill="#222" letter-spacing="-0.45">60</text>
<text x="328.22" y="259.90" text-anchor="middle" font-size="10.4" fill="#222" letter-spacing="-0.45">65</text>
<text x="56.00" y="28.60" font-size="11.4" fill="#111">(a)</text>
<text x="56.00" y="147.30" font-size="11.4" fill="#111">(a’)</text>
<text x="122.90" y="27.60" font-size="11.2" fill="#111">Unbound ATP3</text>
<text x="132.60" y="273.50" font-size="10.85" fill="#111">Temperature (°C)</text>
<text transform="translate(9.70 63.50) rotate(-90)" text-anchor="middle" font-size="10.9" fill="#111">Normalized UV 260 nm</text>
<text transform="translate(20.30 63.50) rotate(-90)" text-anchor="middle" font-size="10.9" fill="#111">Absorbance (a.u.)</text>
<text transform="translate(16.20 178.80) rotate(-90)" text-anchor="middle" font-size="10.8" fill="#111">1<tspan font-size="6.8" dy="-3.6">st</tspan><tspan dy="3.6"> Derivative</tspan></text>
<clipPath id="cuc"><rect x="378.50" y="6.50" width="283.00" height="121.60"/></clipPath>
<clipPath id="clc"><rect x="378.50" y="128.10" width="283.00" height="121.40"/></clipPath>
<g clip-path="url(#cuc)"><path d="M378.5 123.8L379.8 123.6L381.1 123.5L382.4 123.3L383.6 123.2L384.9 123.0L386.2 122.9L387.5 122.7L388.8 122.6L390.1 122.4L391.4 122.2L392.6 122.1L393.9 121.9L395.2 121.7L396.5 121.6L397.8 121.4L399.1 121.2L400.4 121.0L401.6 120.8L402.9 120.7L404.2 120.5L405.5 120.3L406.8 120.1L408.1 119.9L409.4 119.7L410.6 119.5L411.9 119.3L413.2 119.1L414.5 118.9L415.8 118.6L417.1 118.4L418.4 118.2L419.7 118.0L420.9 117.7L422.2 117.5L423.5 117.3L424.8 117.1L426.1 116.8L427.4 116.6L428.7 116.3L429.9 116.1L431.2 115.8L432.5 115.6L433.8 115.3L435.1 115.1L436.4 114.8L437.7 114.6L438.9 114.3L440.2 114.0L441.5 113.8L442.8 113.5L444.1 113.2L445.4 112.9L446.7 112.7L447.9 112.4L449.2 112.1L450.5 111.8L451.8 111.5L453.1 111.2L454.4 110.9L455.7 110.6L456.9 110.3L458.2 110.1L459.5 109.8L460.8 109.5L462.1 109.2L463.4 108.9L464.7 108.6L465.9 108.3L467.2 108.0L468.5 107.7L469.8 107.4L471.1 107.1L472.4 106.8L473.7 106.5L474.9 106.2L476.2 105.9L477.5 105.5L478.8 105.2L480.1 104.9L481.4 104.6L482.7 104.2L484.0 103.9L485.2 103.5L486.5 103.2L487.8 102.9L489.1 102.5L490.4 102.1L491.7 101.8L493.0 101.4L494.2 101.1L495.5 100.7L496.8 100.4L498.1 100.0L499.4 99.7L500.7 99.4L502.0 99.0L503.2 98.7L504.5 98.4L505.8 98.1L507.1 97.8L508.4 97.5L509.7 97.2L511.0 96.9L512.2 96.6L513.5 96.3L514.8 96.0L516.1 95.8L517.4 95.6L518.7 95.3L520.0 95.1L521.2 94.9L522.5 94.7L523.8 94.5L525.1 94.4L526.4 94.2L527.7 94.0L529.0 93.8L530.2 93.6L531.5 93.5L532.8 93.3L534.1 93.1L535.4 92.9L536.7 92.7L538.0 92.4L539.2 92.2L540.5 92.0L541.8 91.8L543.1 91.5L544.4 91.3L545.7 91.1L547.0 90.8L548.3 90.5L549.5 90.3L550.8 90.0L552.1 89.7L553.4 89.4L554.7 89.1L556.0 88.7L557.3 88.4L558.5 88.0L559.8 87.7L561.1 87.3L562.4 87.0L563.7 86.6L565.0 86.2L566.3 85.9L567.5 85.5L568.8 85.1L570.1 84.7L571.4 84.3L572.7 83.9L574.0 83.5L575.3 83.0L576.5 82.5L577.8 82.0L579.1 81.4L580.4 80.8L581.7 80.1L583.0 79.4L584.3 78.7L585.5 77.9L586.8 77.2L588.1 76.4L589.4 75.5L590.7 74.7L592.0 73.9L593.3 73.0L594.5 72.1L595.8 71.2L597.1 70.3L598.4 69.4L599.7 68.4L601.0 67.5L602.3 66.6L603.5 65.7L604.8 64.8L606.1 63.9L607.4 63.1L608.7 62.3L610.0 61.4L611.3 60.6L612.6 59.7L613.8 58.9L615.1 58.0L616.4 57.1L617.7 56.2L619.0 55.2L620.3 54.3L621.6 53.3L622.8 52.3L624.1 51.3L625.4 50.3L626.7 49.3L628.0 48.4L629.3 47.5L630.6 46.6L631.8 45.7L633.1 44.9L634.4 44.1L635.7 43.3L637.0 42.6L638.3 41.9L639.6 41.1L640.8 40.4L642.1 39.7L643.4 39.0L644.7 38.4L646.0 37.7L647.3 37.1L648.6 36.4L649.8 35.8L651.1 35.2L652.4 34.5L653.7 33.9L655.0 33.3L656.3 32.7L657.6 32.1L658.8 31.4L660.1 30.8L661.4 30.2" fill="none" stroke="#c5ea7e" stroke-width="0.7" stroke-dasharray="1.3 1.6"/><path d="M378.5 123.3L379.8 123.1L381.1 123.0L382.4 122.8L383.6 122.7L384.9 122.5L386.2 122.4L387.5 122.2L388.8 122.0L390.1 121.9L391.4 121.7L392.6 121.5L393.9 121.4L395.2 121.2L396.5 121.0L397.8 120.9L399.1 120.7L400.4 120.5L401.6 120.3L402.9 120.2L404.2 120.0L405.5 119.8L406.8 119.6L408.1 119.4L409.4 119.3L410.6 119.1L411.9 118.9L413.2 118.7L414.5 118.5L415.8 118.3L417.1 118.1L418.4 117.9L419.7 117.7L420.9 117.5L422.2 117.3L423.5 117.2L424.8 117.0L426.1 116.8L427.4 116.6L428.7 116.4L429.9 116.2L431.2 116.0L432.5 115.8L433.8 115.6L435.1 115.4L436.4 115.2L437.7 115.0L438.9 114.8L440.2 114.6L441.5 114.4L442.8 114.2L444.1 114.0L445.4 113.8L446.7 113.6L447.9 113.4L449.2 113.2L450.5 113.0L451.8 112.8L453.1 112.6L454.4 112.4L455.7 112.2L456.9 112.0L458.2 111.8L459.5 111.6L460.8 111.4L462.1 111.2L463.4 111.0L464.7 110.8L465.9 110.6L467.2 110.4L468.5 110.2L469.8 110.0L471.1 109.7L472.4 109.5L473.7 109.3L474.9 109.1L476.2 108.9L477.5 108.6L478.8 108.4L480.1 108.2L481.4 107.9L482.7 107.7L484.0 107.4L485.2 107.1L486.5 106.9L487.8 106.6L489.1 106.3L490.4 106.0L491.7 105.7L493.0 105.5L494.2 105.2L495.5 104.9L496.8 104.6L498.1 104.3L499.4 104.0L500.7 103.7L502.0 103.4L503.2 103.1L504.5 102.8L505.8 102.5L507.1 102.2L508.4 101.9L509.7 101.7L511.0 101.4L512.2 101.1L513.5 100.8L514.8 100.5L516.1 100.3L517.4 100.0L518.7 99.8L520.0 99.5L521.2 99.3L522.5 99.1L523.8 98.9L525.1 98.6L526.4 98.4L527.7 98.2L529.0 98.0L530.2 97.7L531.5 97.5L532.8 97.2L534.1 97.0L535.4 96.7L536.7 96.4L538.0 96.1L539.2 95.8L540.5 95.5L541.8 95.2L543.1 94.9L544.4 94.6L545.7 94.2L547.0 93.9L548.3 93.5L549.5 93.2L550.8 92.8L552.1 92.4L553.4 92.0L554.7 91.6L556.0 91.1L557.3 90.7L558.5 90.3L559.8 89.8L561.1 89.4L562.4 88.9L563.7 88.4L565.0 88.0L566.3 87.5L567.5 87.0L568.8 86.6L570.1 86.1L571.4 85.6L572.7 85.1L574.0 84.6L575.3 84.0L576.5 83.4L577.8 82.8L579.1 82.2L580.4 81.5L581.7 80.8L583.0 80.0L584.3 79.2L585.5 78.4L586.8 77.5L588.1 76.6L589.4 75.7L590.7 74.8L592.0 73.9L593.3 73.0L594.5 72.1L595.8 71.1L597.1 70.1L598.4 69.2L599.7 68.2L601.0 67.2L602.3 66.3L603.5 65.3L604.8 64.4L606.1 63.5L607.4 62.6L608.7 61.7L610.0 60.8L611.3 59.9L612.6 59.1L613.8 58.2L615.1 57.3L616.4 56.4L617.7 55.4L619.0 54.5L620.3 53.5L621.6 52.5L622.8 51.5L624.1 50.5L625.4 49.5L626.7 48.5L628.0 47.5L629.3 46.6L630.6 45.7L631.8 44.8L633.1 44.0L634.4 43.2L635.7 42.4L637.0 41.6L638.3 40.9L639.6 40.2L640.8 39.5L642.1 38.8L643.4 38.1L644.7 37.4L646.0 36.7L647.3 36.1L648.6 35.4L649.8 34.8L651.1 34.2L652.4 33.6L653.7 32.9L655.0 32.3L656.3 31.7L657.6 31.1L658.8 30.5L660.1 29.9L661.4 29.2" fill="none" stroke="#c5ea7e" stroke-width="0.7" stroke-dasharray="1.3 1.6"/><path d="M378.5 124.6L379.8 124.5L381.1 124.4L382.4 124.3L383.6 124.1L384.9 124.0L386.2 123.9L387.5 123.8L388.8 123.6L390.1 123.5L391.4 123.4L392.6 123.3L393.9 123.1L395.2 123.0L396.5 122.9L397.8 122.7L399.1 122.6L400.4 122.4L401.6 122.3L402.9 122.2L404.2 122.0L405.5 121.9L406.8 121.7L408.1 121.6L409.4 121.4L410.6 121.3L411.9 121.1L413.2 121.0L414.5 120.8L415.8 120.7L417.1 120.5L418.4 120.4L419.7 120.2L420.9 120.0L422.2 119.9L423.5 119.7L424.8 119.6L426.1 119.4L427.4 119.2L428.7 119.1L429.9 118.9L431.2 118.7L432.5 118.6L433.8 118.4L435.1 118.2L436.4 118.0L437.7 117.8L438.9 117.7L440.2 117.5L441.5 117.3L442.8 117.1L444.1 116.9L445.4 116.7L446.7 116.5L447.9 116.4L449.2 116.2L450.5 116.0L451.8 115.8L453.1 115.6L454.4 115.4L455.7 115.2L456.9 115.0L458.2 114.8L459.5 114.7L460.8 114.5L462.1 114.3L463.4 114.1L464.7 113.9L465.9 113.7L467.2 113.5L468.5 113.3L469.8 113.1L471.1 112.9L472.4 112.7L473.7 112.5L474.9 112.3L476.2 112.1L477.5 111.9L478.8 111.7L480.1 111.4L481.4 111.2L482.7 111.0L484.0 110.7L485.2 110.4L486.5 110.2L487.8 109.9L489.1 109.6L490.4 109.3L491.7 109.0L493.0 108.8L494.2 108.5L495.5 108.2L496.8 107.9L498.1 107.6L499.4 107.3L500.7 107.0L502.0 106.7L503.2 106.4L504.5 106.1L505.8 105.8L507.1 105.5L508.4 105.2L509.7 105.0L511.0 104.7L512.2 104.4L513.5 104.1L514.8 103.8L516.1 103.6L517.4 103.3L518.7 103.1L520.0 102.8L521.2 102.6L522.5 102.4L523.8 102.2L525.1 101.9L526.4 101.7L527.7 101.5L529.0 101.3L530.2 101.0L531.5 100.8L532.8 100.5L534.1 100.3L535.4 100.0L536.7 99.7L538.0 99.4L539.2 99.1L540.5 98.8L541.8 98.5L543.1 98.2L544.4 97.9L545.7 97.5L547.0 97.2L548.3 96.8L549.5 96.5L550.8 96.1L552.1 95.7L553.4 95.3L554.7 94.9L556.0 94.4L557.3 94.0L558.5 93.6L559.8 93.1L561.1 92.6L562.4 92.2L563.7 91.7L565.0 91.2L566.3 90.7L567.5 90.3L568.8 89.8L570.1 89.3L571.4 88.8L572.7 88.3L574.0 87.7L575.3 87.2L576.5 86.6L577.8 86.0L579.1 85.3L580.4 84.6L581.7 83.9L583.0 83.1L584.3 82.3L585.5 81.4L586.8 80.6L588.1 79.7L589.4 78.8L590.7 77.9L592.0 76.9L593.3 76.0L594.5 75.1L595.8 74.1L597.1 73.1L598.4 72.1L599.7 71.1L601.0 70.2L602.3 69.2L603.5 68.2L604.8 67.3L606.1 66.4L607.4 65.5L608.7 64.6L610.0 63.7L611.3 62.8L612.6 61.9L613.8 61.0L615.1 60.1L616.4 59.1L617.7 58.2L619.0 57.2L620.3 56.2L621.6 55.2L622.8 54.2L624.1 53.1L625.4 52.1L626.7 51.1L628.0 50.1L629.3 49.2L630.6 48.3L631.8 47.4L633.1 46.5L634.4 45.7L635.7 44.9L637.0 44.1L638.3 43.4L639.6 42.7L640.8 41.9L642.1 41.2L643.4 40.5L644.7 39.8L646.0 39.1L647.3 38.5L648.6 37.8L649.8 37.2L651.1 36.5L652.4 35.9L653.7 35.2L655.0 34.6L656.3 34.0L657.6 33.3L658.8 32.7L660.1 32.1L661.4 31.4" fill="none" stroke="#c5ea7e" stroke-width="0.7" stroke-dasharray="1.3 1.6"/></g>
<g clip-path="url(#cuc)">
<path d="M378.5 123.9L379.8 123.8L381.1 123.6L382.4 123.5L383.6 123.3L384.9 123.2L386.2 123.1L387.5 122.9L388.8 122.8L390.1 122.6L391.4 122.5L392.6 122.3L393.9 122.2L395.2 122.0L396.5 121.9L397.8 121.7L399.1 121.5L400.4 121.4L401.6 121.2L402.9 121.1L404.2 120.9L405.5 120.7L406.8 120.6L408.1 120.4L409.4 120.3L410.6 120.1L411.9 119.9L413.2 119.7L414.5 119.6L415.8 119.4L417.1 119.2L418.4 119.0L419.7 118.9L420.9 118.7L422.2 118.5L423.5 118.3L424.8 118.1L426.1 118.0L427.4 117.8L428.7 117.6L429.9 117.4L431.2 117.2L432.5 117.0L433.8 116.9L435.1 116.7L436.4 116.5L437.7 116.3L438.9 116.1L440.2 115.9L441.5 115.7L442.8 115.5L444.1 115.3L445.4 115.1L446.7 114.9L447.9 114.7L449.2 114.6L450.5 114.4L451.8 114.2L453.1 114.0L454.4 113.8L455.7 113.6L456.9 113.4L458.2 113.2L459.5 113.0L460.8 112.8L462.1 112.6L463.4 112.4L464.7 112.2L465.9 112.0L467.2 111.8L468.5 111.6L469.8 111.4L471.1 111.2L472.4 111.0L473.7 110.8L474.9 110.6L476.2 110.3L477.5 110.1L478.8 109.9L480.1 109.7L481.4 109.4L482.7 109.2L484.0 108.9L485.2 108.6L486.5 108.4L487.8 108.1L489.1 107.8L490.4 107.5L491.7 107.2L493.0 107.0L494.2 106.7L495.5 106.4L496.8 106.1L498.1 105.8L499.4 105.5L500.7 105.2L502.0 104.9L503.2 104.6L504.5 104.3L505.8 104.0L507.1 103.7L508.4 103.4L509.7 103.2L511.0 102.9L512.2 102.6L513.5 102.3L514.8 102.0L516.1 101.8L517.4 101.5L518.7 101.3L520.0 101.0L521.2 100.8L522.5 100.6L523.8 100.4L525.1 100.1L526.4 99.9L527.7 99.7L529.0 99.5L530.2 99.2L531.5 99.0L532.8 98.7L534.1 98.5L535.4 98.2L536.7 97.9L538.0 97.6L539.2 97.3L540.5 97.0L541.8 96.7L543.1 96.4L544.4 96.1L545.7 95.7L547.0 95.4L548.3 95.0L549.5 94.7L550.8 94.3L552.1 93.9L553.4 93.5L554.7 93.1L556.0 92.6L557.3 92.2L558.5 91.8L559.8 91.3L561.1 90.8L562.4 90.4L563.7 89.9L565.0 89.4L566.3 89.0L567.5 88.5L568.8 88.0L570.1 87.5L571.4 87.1L572.7 86.5L574.0 86.0L575.3 85.5L576.5 84.9L577.8 84.3L579.1 83.6L580.4 82.9L581.7 82.2L583.0 81.4L584.3 80.6L585.5 79.7L586.8 78.9L588.1 78.0L589.4 77.1L590.7 76.2L592.0 75.3L593.3 74.4L594.5 73.4L595.8 72.5L597.1 71.5L598.4 70.5L599.7 69.5L601.0 68.6L602.3 67.6L603.5 66.6L604.8 65.7L606.1 64.8L607.4 63.9L608.7 63.0L610.0 62.1L611.3 61.2L612.6 60.4L613.8 59.5L615.1 58.5L616.4 57.6L617.7 56.7L619.0 55.7L620.3 54.7L621.6 53.7L622.8 52.7L624.1 51.7L625.4 50.7L626.7 49.7L628.0 48.7L629.3 47.8L630.6 46.9L631.8 46.0L633.1 45.1L634.4 44.3L635.7 43.5L637.0 42.8L638.3 42.0L639.6 41.3L640.8 40.6L642.1 39.9L643.4 39.2L644.7 38.5L646.0 37.8L647.3 37.2L648.6 36.5L649.8 35.9L651.1 35.2L652.4 34.6L653.7 34.0L655.0 33.4L656.3 32.7L657.6 32.1L658.8 31.5L660.1 30.9L661.4 30.2" fill="none" stroke="#2b6f1f" stroke-width="1.1"/>
<path d="M378.5 122.7V125.1M376.5 122.7H380.5M376.5 125.1H380.5M383.6 122.0V124.7M381.6 122.0H385.6M381.6 124.7H385.6M388.8 121.3V124.2M386.8 121.3H390.8M386.8 124.2H390.8M393.9 120.6V123.8M391.9 120.6H395.9M391.9 123.8H395.9M399.1 119.8V123.3M397.1 119.8H401.1M397.1 123.3H401.1M404.2 119.1V122.8M402.2 119.1H406.2M402.2 122.8H406.2M409.4 118.3V122.2M407.4 118.3H411.4M407.4 122.2H411.4M414.5 117.5V121.7M412.5 117.5H416.5M412.5 121.7H416.5M419.7 116.6V121.1M417.7 116.6H421.7M417.7 121.1H421.7M424.8 115.8V120.5M422.8 115.8H426.8M422.8 120.5H426.8M429.9 114.9V119.9M427.9 114.9H431.9M427.9 119.9H431.9M435.1 114.1V119.2M433.1 114.1H437.1M433.1 119.2H437.1M440.2 113.3V118.5M438.2 113.3H442.2M438.2 118.5H442.2M445.4 112.5V117.8M443.4 112.5H447.4M443.4 117.8H447.4M450.5 111.7V117.1M448.5 111.7H452.5M448.5 117.1H452.5M455.7 110.8V116.3M453.7 110.8H457.7M453.7 116.3H457.7M460.8 110.0V115.6M458.8 110.0H462.8M458.8 115.6H462.8M465.9 109.2V114.9M463.9 109.2H467.9M463.9 114.9H467.9M471.1 108.3V114.1M469.1 108.3H473.1M469.1 114.1H473.1M476.2 107.4V113.3M474.2 107.4H478.2M474.2 113.3H478.2M481.4 106.4V112.4M479.4 106.4H483.4M479.4 112.4H483.4M486.5 105.4V111.4M484.5 105.4H488.5M484.5 111.4H488.5M491.7 104.2V110.2M489.7 104.2H493.7M489.7 110.2H493.7M496.8 103.1V109.1M494.8 103.1H498.8M494.8 109.1H498.8M502.0 101.9V107.9M500.0 101.9H504.0M500.0 107.9H504.0M507.1 100.7V106.7M505.1 100.7H509.1M505.1 106.7H509.1M512.2 99.6V105.6M510.2 99.6H514.2M510.2 105.6H514.2M517.4 98.5V104.5M515.4 98.5H519.4M515.4 104.5H519.4M522.5 97.6V103.6M520.5 97.6H524.5M520.5 103.6H524.5M527.7 96.7V102.7M525.7 96.7H529.7M525.7 102.7H529.7M532.8 95.7V101.7M530.8 95.7H534.8M530.8 101.7H534.8M538.0 94.6V100.6M536.0 94.6H540.0M536.0 100.6H540.0M543.1 93.4V99.4M541.1 93.4H545.1M541.1 99.4H545.1M548.3 92.0V98.0M546.3 92.0H550.3M546.3 98.0H550.3M553.4 90.5V96.5M551.4 90.5H555.4M551.4 96.5H555.4M558.5 88.8V94.8M556.5 88.8H560.5M556.5 94.8H560.5M563.7 87.0V92.9M561.7 87.0H565.7M561.7 92.9H565.7M568.8 85.1V90.9M566.8 85.1H570.8M566.8 90.9H570.8M574.0 83.1V88.9M572.0 83.1H576.0M572.0 88.9H576.0M579.1 80.8V86.4M577.1 80.8H581.1M577.1 86.4H581.1M584.3 77.8V83.4M582.3 77.8H586.3M582.3 83.4H586.3M589.4 74.4V79.9M587.4 74.4H591.4M587.4 79.9H591.4M594.5 70.7V76.2M592.5 70.7H596.5M592.5 76.2H596.5M599.7 66.9V72.2M597.7 66.9H601.7M597.7 72.2H601.7M604.8 63.1V68.3M602.8 63.1H606.8M602.8 68.3H606.8M610.0 59.5V64.7M608.0 59.5H612.0M608.0 64.7H612.0M615.1 56.0V61.1M613.1 56.0H617.1M613.1 61.1H617.1M620.3 52.2V57.2M618.3 52.2H622.3M618.3 57.2H622.3M625.4 48.2V53.1M623.4 48.2H627.4M623.4 53.1H627.4M630.6 44.5V49.2M628.6 44.5H632.6M628.6 49.2H632.6M635.7 41.2V45.8M633.7 41.2H637.7M633.7 45.8H637.7M640.8 38.3V42.8M638.8 38.3H642.8M638.8 42.8H642.8M646.0 35.6V40.0M644.0 35.6H648.0M644.0 40.0H648.0M651.1 33.1V37.4M649.1 33.1H653.1M649.1 37.4H653.1M656.3 30.7V34.8M654.3 30.7H658.3M654.3 34.8H658.3M661.4 28.2V32.2M659.4 28.2H663.4M659.4 32.2H663.4" fill="none" stroke="#3d8530" stroke-width="0.9"/>
</g>
<g clip-path="url(#clc)"><path d="M378.5 219.4L379.8 219.4L381.1 219.4L382.4 219.4L383.6 219.4L384.9 219.5L386.2 219.6L387.5 219.6L388.8 219.7L390.1 219.8L391.4 219.9L392.6 220.0L393.9 220.2L395.2 220.3L396.5 220.5L397.8 220.7L399.1 221.0L400.4 221.2L401.6 221.4L402.9 221.6L404.2 221.8L405.5 222.0L406.8 222.1L408.1 222.2L409.4 222.2L410.6 222.3L411.9 222.2L413.2 222.2L414.5 222.1L415.8 222.1L417.1 221.9L418.4 221.8L419.7 221.6L420.9 221.4L422.2 221.1L423.5 220.8L424.8 220.5L426.1 220.2L427.4 219.9L428.7 219.6L429.9 219.3L431.2 219.1L432.5 218.9L433.8 218.7L435.1 218.5L436.4 218.4L437.7 218.4L438.9 218.4L440.2 218.4L441.5 218.4L442.8 218.5L444.1 218.5L445.4 218.6L446.7 218.8L447.9 218.9L449.2 219.1L450.5 219.4L451.8 219.6L453.1 220.0L454.4 220.3L455.7 220.6L456.9 221.0L458.2 221.4L459.5 221.8L460.8 222.2L462.1 222.5L463.4 222.9L464.7 223.2L465.9 223.5L467.2 223.8L468.5 224.0L469.8 224.2L471.1 224.4L472.4 224.5L473.7 224.6L474.9 224.7L476.2 224.7L477.5 224.8L478.8 224.8L480.1 224.8L481.4 224.8L482.7 224.8L484.0 224.9L485.2 224.9L486.5 224.9L487.8 224.9L489.1 224.9L490.4 224.9L491.7 224.9L493.0 224.9L494.2 224.9L495.5 224.8L496.8 224.8L498.1 224.8L499.4 224.8L500.7 224.8L502.0 224.8L503.2 224.8L504.5 224.8L505.8 224.7L507.1 224.7L508.4 224.7L509.7 224.6L511.0 224.5L512.2 224.4L513.5 224.3L514.8 224.2L516.1 224.0L517.4 223.7L518.7 223.4L520.0 223.1L521.2 222.6L522.5 222.2L523.8 221.7L525.1 221.2L526.4 220.6L527.7 220.0L529.0 219.4L530.2 218.8L531.5 218.1L532.8 217.4L534.1 216.7L535.4 216.0L536.7 215.2L538.0 214.4L539.2 213.5L540.5 212.7L541.8 211.7L543.1 210.8L544.4 209.8L545.7 208.8L547.0 207.7L548.3 206.6L549.5 205.5L550.8 204.4L552.1 203.2L553.4 202.1L554.7 200.9L556.0 199.7L557.3 198.4L558.5 197.1L559.8 195.8L561.1 194.5L562.4 193.1L563.7 191.7L565.0 190.2L566.3 188.7L567.5 187.2L568.8 185.6L570.1 184.0L571.4 182.5L572.7 180.9L574.0 179.2L575.3 177.6L576.5 176.0L577.8 174.3L579.1 172.7L580.4 171.0L581.7 169.3L583.0 167.6L584.3 165.8L585.5 164.1L586.8 162.3L588.1 160.5L589.4 158.8L590.7 157.0L592.0 155.3L593.3 153.6L594.5 151.9L595.8 150.3L597.1 148.8L598.4 147.4L599.7 146.0L601.0 144.7L602.3 143.4L603.5 142.2L604.8 141.1L606.1 140.1L607.4 139.2L608.7 138.5L610.0 138.0L611.3 137.6L612.6 137.4L613.8 137.4L615.1 137.5L616.4 137.9L617.7 138.3L619.0 138.9L620.3 139.6L621.6 140.4L622.8 141.3L624.1 142.2L625.4 143.2L626.7 144.3L628.0 145.5L629.3 146.7L630.6 148.0L631.8 149.4L633.1 151.0L634.4 152.5L635.7 154.2L637.0 155.9L638.3 157.7L639.6 159.5L640.8 161.2L642.1 163.0L643.4 164.8L644.7 166.5L646.0 168.2L647.3 169.8L648.6 171.4L649.8 173.0L651.1 174.6L652.4 176.2L653.7 177.7L655.0 179.3L656.3 180.8L657.6 182.3L658.8 183.8L660.1 185.3L661.4 186.8" fill="none" stroke="#c5ea7e" stroke-width="0.7" stroke-dasharray="1.3 1.6"/><path d="M378.5 229.3L379.8 229.8L381.1 230.3L382.4 230.8L383.6 231.2L384.9 231.6L386.2 231.9L387.5 232.2L388.8 232.5L390.1 232.7L391.4 232.8L392.6 233.0L393.9 233.0L395.2 233.0L396.5 233.0L397.8 233.0L399.1 232.9L400.4 232.9L401.6 232.8L402.9 232.7L404.2 232.5L405.5 232.4L406.8 232.2L408.1 232.0L409.4 231.8L410.6 231.6L411.9 231.3L413.2 230.9L414.5 230.6L415.8 230.2L417.1 229.8L418.4 229.4L419.7 229.1L420.9 228.7L422.2 228.4L423.5 228.1L424.8 227.9L426.1 227.7L427.4 227.6L428.7 227.5L429.9 227.4L431.2 227.4L432.5 227.4L433.8 227.4L435.1 227.4L436.4 227.5L437.7 227.5L438.9 227.5L440.2 227.5L441.5 227.6L442.8 227.6L444.1 227.6L445.4 227.6L446.7 227.6L447.9 227.6L449.2 227.5L450.5 227.5L451.8 227.4L453.1 227.4L454.4 227.3L455.7 227.2L456.9 227.1L458.2 227.1L459.5 227.0L460.8 226.9L462.1 226.8L463.4 226.6L464.7 226.5L465.9 226.4L467.2 226.2L468.5 226.1L469.8 225.9L471.1 225.8L472.4 225.6L473.7 225.4L474.9 225.3L476.2 225.2L477.5 225.1L478.8 225.0L480.1 225.0L481.4 225.0L482.7 225.0L484.0 225.0L485.2 225.0L486.5 225.0L487.8 225.0L489.1 225.1L490.4 225.1L491.7 225.1L493.0 225.1L494.2 225.2L495.5 225.2L496.8 225.2L498.1 225.2L499.4 225.2L500.7 225.2L502.0 225.2L503.2 225.2L504.5 225.2L505.8 225.2L507.1 225.2L508.4 225.2L509.7 225.2L511.0 225.1L512.2 225.1L513.5 225.0L514.8 224.9L516.1 224.7L517.4 224.5L518.7 224.2L520.0 223.8L521.2 223.4L522.5 223.0L523.8 222.4L525.1 221.9L526.4 221.3L527.7 220.7L529.0 220.1L530.2 219.5L531.5 218.8L532.8 218.1L534.1 217.4L535.4 216.7L536.7 216.0L538.0 215.2L539.2 214.4L540.5 213.6L541.8 212.7L543.1 211.8L544.4 210.8L545.7 209.9L547.0 208.9L548.3 207.8L549.5 206.8L550.8 205.7L552.1 204.6L553.4 203.5L554.7 202.4L556.0 201.3L557.3 200.1L558.5 198.9L559.8 197.7L561.1 196.4L562.4 195.1L563.7 193.8L565.0 192.4L566.3 191.0L567.5 189.6L568.8 188.1L570.1 186.6L571.4 185.1L572.7 183.6L574.0 182.0L575.3 180.4L576.5 178.8L577.8 177.1L579.1 175.5L580.4 173.8L581.7 172.1L583.0 170.4L584.3 168.7L585.5 167.0L586.8 165.2L588.1 163.5L589.4 161.8L590.7 160.1L592.0 158.4L593.3 156.8L594.5 155.2L595.8 153.7L597.1 152.2L598.4 150.8L599.7 149.4L601.0 148.1L602.3 146.9L603.5 145.7L604.8 144.6L606.1 143.6L607.4 142.7L608.7 142.0L610.0 141.4L611.3 141.1L612.6 140.8L613.8 140.8L615.1 140.9L616.4 141.2L617.7 141.7L619.0 142.2L620.3 142.8L621.6 143.6L622.8 144.4L624.1 145.2L625.4 146.2L626.7 147.2L628.0 148.3L629.3 149.5L630.6 150.7L631.8 152.1L633.1 153.6L634.4 155.1L635.7 156.8L637.0 158.5L638.3 160.2L639.6 161.9L640.8 163.7L642.1 165.5L643.4 167.2L644.7 168.9L646.0 170.6L647.3 172.3L648.6 173.9L649.8 175.5L651.1 177.1L652.4 178.7L653.7 180.3L655.0 181.9L656.3 183.4L657.6 185.0L658.8 186.5L660.1 188.1L661.4 189.6" fill="none" stroke="#c5ea7e" stroke-width="0.7" stroke-dasharray="1.3 1.6"/><path d="M378.5 235.3L379.8 235.2L381.1 235.2L382.4 235.1L383.6 235.1L384.9 235.0L386.2 234.9L387.5 234.9L388.8 234.8L390.1 234.7L391.4 234.7L392.6 234.6L393.9 234.5L395.2 234.4L396.5 234.4L397.8 234.3L399.1 234.2L400.4 234.1L401.6 234.0L402.9 233.9L404.2 233.9L405.5 233.8L406.8 233.7L408.1 233.6L409.4 233.5L410.6 233.4L411.9 233.3L413.2 233.2L414.5 233.1L415.8 233.0L417.1 232.9L418.4 232.8L419.7 232.6L420.9 232.5L422.2 232.4L423.5 232.3L424.8 232.2L426.1 232.0L427.4 231.9L428.7 231.8L429.9 231.6L431.2 231.5L432.5 231.4L433.8 231.2L435.1 231.1L436.4 230.9L437.7 230.7L438.9 230.6L440.2 230.4L441.5 230.2L442.8 230.0L444.1 229.7L445.4 229.5L446.7 229.3L447.9 229.0L449.2 228.7L450.5 228.5L451.8 228.2L453.1 227.9L454.4 227.7L455.7 227.4L456.9 227.1L458.2 226.8L459.5 226.6L460.8 226.3L462.1 226.1L463.4 225.8L464.7 225.6L465.9 225.4L467.2 225.2L468.5 225.0L469.8 224.8L471.1 224.7L472.4 224.6L473.7 224.5L474.9 224.4L476.2 224.3L477.5 224.3L478.8 224.3L480.1 224.3L481.4 224.3L482.7 224.4L484.0 224.4L485.2 224.5L486.5 224.6L487.8 224.6L489.1 224.7L490.4 224.8L491.7 224.9L493.0 225.0L494.2 225.0L495.5 225.1L496.8 225.2L498.1 225.2L499.4 225.3L500.7 225.3L502.0 225.3L503.2 225.4L504.5 225.4L505.8 225.4L507.1 225.5L508.4 225.5L509.7 225.5L511.0 225.5L512.2 225.4L513.5 225.3L514.8 225.2L516.1 225.1L517.4 224.8L518.7 224.6L520.0 224.2L521.2 223.9L522.5 223.4L523.8 222.9L525.1 222.4L526.4 221.9L527.7 221.3L529.0 220.7L530.2 220.1L531.5 219.5L532.8 218.8L534.1 218.2L535.4 217.5L536.7 216.7L538.0 216.0L539.2 215.2L540.5 214.4L541.8 213.5L543.1 212.6L544.4 211.7L545.7 210.7L547.0 209.8L548.3 208.7L549.5 207.7L550.8 206.7L552.1 205.6L553.4 204.5L554.7 203.4L556.0 202.3L557.3 201.1L558.5 200.0L559.8 198.8L561.1 197.5L562.4 196.3L563.7 195.0L565.0 193.6L566.3 192.2L567.5 190.8L568.8 189.4L570.1 187.9L571.4 186.4L572.7 184.9L574.0 183.3L575.3 181.8L576.5 180.1L577.8 178.5L579.1 176.8L580.4 175.2L581.7 173.5L583.0 171.8L584.3 170.2L585.5 168.5L586.8 166.8L588.1 165.2L589.4 163.5L590.7 161.9L592.0 160.3L593.3 158.8L594.5 157.3L595.8 155.9L597.1 154.5L598.4 153.2L599.7 152.0L601.0 150.8L602.3 149.7L603.5 148.6L604.8 147.6L606.1 146.7L607.4 145.9L608.7 145.3L610.0 144.7L611.3 144.4L612.6 144.2L613.8 144.2L615.1 144.3L616.4 144.5L617.7 144.9L619.0 145.3L620.3 145.9L621.6 146.5L622.8 147.2L624.1 148.0L625.4 148.9L626.7 149.8L628.0 150.8L629.3 151.9L630.6 153.1L631.8 154.4L633.1 155.8L634.4 157.4L635.7 159.0L637.0 160.6L638.3 162.4L639.6 164.1L640.8 165.9L642.1 167.6L643.4 169.3L644.7 171.0L646.0 172.7L647.3 174.3L648.6 175.9L649.8 177.4L651.1 179.0L652.4 180.5L653.7 182.0L655.0 183.6L656.3 185.1L657.6 186.6L658.8 188.1L660.1 189.5L661.4 191.0" fill="none" stroke="#c5ea7e" stroke-width="0.7" stroke-dasharray="1.3 1.6"/><path d="M378.5 233.9L379.8 233.9L381.1 233.8L382.4 233.7L383.6 233.7L384.9 233.6L386.2 233.6L387.5 233.5L388.8 233.4L390.1 233.4L391.4 233.3L392.6 233.2L393.9 233.1L395.2 233.0L396.5 233.0L397.8 232.9L399.1 232.8L400.4 232.7L401.6 232.6L402.9 232.5L404.2 232.5L405.5 232.4L406.8 232.3L408.1 232.2L409.4 232.1L410.6 232.0L411.9 231.9L413.2 231.8L414.5 231.7L415.8 231.6L417.1 231.4L418.4 231.3L419.7 231.2L420.9 231.1L422.2 231.0L423.5 230.8L424.8 230.7L426.1 230.6L427.4 230.5L428.7 230.3L429.9 230.2L431.2 230.1L432.5 229.9L433.8 229.8L435.1 229.6L436.4 229.5L437.7 229.4L438.9 229.2L440.2 229.1L441.5 228.9L442.8 228.7L444.1 228.5L445.4 228.4L446.7 228.2L447.9 228.0L449.2 227.8L450.5 227.6L451.8 227.4L453.1 227.2L454.4 227.0L455.7 226.8L456.9 226.6L458.2 226.4L459.5 226.2L460.8 226.0L462.1 225.8L463.4 225.7L464.7 225.5L465.9 225.4L467.2 225.2L468.5 225.1L469.8 225.0L471.1 224.9L472.4 224.8L473.7 224.7L474.9 224.7L476.2 224.6L477.5 224.6L478.8 224.6L480.1 224.6L481.4 224.6L482.7 224.6L484.0 224.6L485.2 224.6L486.5 224.7L487.8 224.7L489.1 224.7L490.4 224.7L491.7 224.8L493.0 224.8L494.2 224.8L495.5 224.8L496.8 224.8L498.1 224.8L499.4 224.8L500.7 224.9L502.0 224.9L503.2 224.9L504.5 224.9L505.8 224.9L507.1 224.8L508.4 224.8L509.7 224.8L511.0 224.8L512.2 224.7L513.5 224.7L514.8 224.6L516.1 224.4L517.4 224.2L518.7 223.9L520.0 223.6L521.2 223.2L522.5 222.8L523.8 222.4L525.1 221.9L526.4 221.4L527.7 220.8L529.0 220.3L530.2 219.7L531.5 219.1L532.8 218.5L534.1 217.9L535.4 217.2L536.7 216.5L538.0 215.8L539.2 215.1L540.5 214.3L541.8 213.5L543.1 212.7L544.4 211.8L545.7 210.9L547.0 210.0L548.3 209.0L549.5 208.1L550.8 207.1L552.1 206.1L553.4 205.0L554.7 204.0L556.0 202.9L557.3 201.8L558.5 200.6L559.8 199.4L561.1 198.2L562.4 197.0L563.7 195.7L565.0 194.3L566.3 193.0L567.5 191.6L568.8 190.1L570.1 188.6L571.4 187.1L572.7 185.6L574.0 184.0L575.3 182.5L576.5 180.8L577.8 179.2L579.1 177.5L580.4 175.9L581.7 174.2L583.0 172.5L584.3 170.9L585.5 169.2L586.8 167.6L588.1 165.9L589.4 164.3L590.7 162.7L592.0 161.2L593.3 159.7L594.5 158.2L595.8 156.9L597.1 155.5L598.4 154.3L599.7 153.1L601.0 152.0L602.3 150.9L603.5 149.9L604.8 149.0L606.1 148.2L607.4 147.4L608.7 146.8L610.0 146.4L611.3 146.1L612.6 145.9L613.8 145.9L615.1 146.0L616.4 146.3L617.7 146.6L619.0 147.1L620.3 147.7L621.6 148.3L622.8 149.0L624.1 149.8L625.4 150.6L626.7 151.4L628.0 152.4L629.3 153.4L630.6 154.5L631.8 155.6L633.1 156.8L634.4 158.1L635.7 159.5L637.0 160.9L638.3 162.4L639.6 163.9L640.8 165.4L642.1 166.9L643.4 168.4L644.7 169.8L646.0 171.3L647.3 172.8L648.6 174.2L649.8 175.7L651.1 177.1L652.4 178.5L653.7 180.0L655.0 181.4L656.3 182.8L657.6 184.3L658.8 185.7L660.1 187.2L661.4 188.6" fill="none" stroke="#c5ea7e" stroke-width="0.7" stroke-dasharray="1.3 1.6"/></g>
<g clip-path="url(#clc)"><path d="M378.5 237.6L379.8 237.4L381.1 237.2L382.4 237.1L383.6 236.9L384.9 236.7L386.2 236.5L387.5 236.3L388.8 236.2L390.1 236.0L391.4 235.8L392.6 235.7L393.9 235.5L395.2 235.4L396.5 235.3L397.8 235.1L399.1 235.0L400.4 234.9L401.6 234.8L402.9 234.7L404.2 234.6L405.5 234.5L406.8 234.4L408.1 234.3L409.4 234.2L410.6 234.2L411.9 234.1L413.2 234.0L414.5 234.0L415.8 233.9L417.1 233.8L418.4 233.8L419.7 233.7L420.9 233.7L422.2 233.6L423.5 233.6L424.8 233.5L426.1 233.5L427.4 233.4L428.7 233.3L429.9 233.3L431.2 233.2L432.5 233.1L433.8 233.1L435.1 233.0L436.4 232.9L437.7 232.9L438.9 232.8L440.2 232.7L441.5 232.6L442.8 232.5L444.1 232.3L445.4 232.2L446.7 232.0L447.9 231.8L449.2 231.5L450.5 231.2L451.8 230.9L453.1 230.6L454.4 230.2L455.7 229.9L456.9 229.5L458.2 229.2L459.5 228.9L460.8 228.6L462.1 228.2L463.4 227.9L464.7 227.6L465.9 227.4L467.2 227.1L468.5 226.8L469.8 226.6L471.1 226.4L472.4 226.2L473.7 226.0L474.9 225.9L476.2 225.8L477.5 225.7L478.8 225.7L480.1 225.7L481.4 225.7L482.7 225.7L484.0 225.8L485.2 225.8L486.5 225.9L487.8 225.9L489.1 226.0L490.4 226.0L491.7 226.1L493.0 226.1L494.2 226.2L495.5 226.2L496.8 226.2L498.1 226.2L499.4 226.2L500.7 226.2L502.0 226.2L503.2 226.2L504.5 226.2L505.8 226.2L507.1 226.2L508.4 226.2L509.7 226.2L511.0 226.1L512.2 226.0L513.5 225.9L514.8 225.7L516.1 225.4L517.4 225.1L518.7 224.7L520.0 224.3L521.2 223.9L522.5 223.4L523.8 223.0L525.1 222.5L526.4 222.1L527.7 221.7L529.0 221.2L530.2 220.8L531.5 220.3L532.8 219.8L534.1 219.3L535.4 218.8L536.7 218.2L538.0 217.6L539.2 216.9L540.5 216.2L541.8 215.5L543.1 214.8L544.4 214.0L545.7 213.1L547.0 212.2L548.3 211.3L549.5 210.3L550.8 209.3L552.1 208.2L553.4 207.1L554.7 206.0L556.0 204.8L557.3 203.6L558.5 202.4L559.8 201.2L561.1 199.9L562.4 198.6L563.7 197.3L565.0 196.0L566.3 194.6L567.5 193.2L568.8 191.8L570.1 190.3L571.4 188.9L572.7 187.4L574.0 185.9L575.3 184.3L576.5 182.8L577.8 181.2L579.1 179.6L580.4 178.0L581.7 176.5L583.0 174.9L584.3 173.4L585.5 171.9L586.8 170.4L588.1 168.9L589.4 167.4L590.7 166.0L592.0 164.6L593.3 163.3L594.5 162.0L595.8 160.7L597.1 159.5L598.4 158.3L599.7 157.2L601.0 156.1L602.3 155.0L603.5 154.0L604.8 153.0L606.1 152.1L607.4 151.2L608.7 150.5L610.0 149.9L611.3 149.4L612.6 149.0L613.8 148.9L615.1 148.9L616.4 149.1L617.7 149.4L619.0 150.0L620.3 150.7L621.6 151.5L622.8 152.4L624.1 153.5L625.4 154.6L626.7 155.8L628.0 157.0L629.3 158.2L630.6 159.5L631.8 160.9L633.1 162.2L634.4 163.6L635.7 165.1L637.0 166.6L638.3 168.1L639.6 169.6L640.8 171.2L642.1 172.7L643.4 174.2L644.7 175.6L646.0 177.1L647.3 178.4L648.6 179.8L649.8 181.1L651.1 182.4L652.4 183.6L653.7 184.8L655.0 186.0L656.3 187.2L657.6 188.3L658.8 189.5L660.1 190.5L661.4 191.6" fill="none" stroke="#2b6f1f" stroke-width="1.1"/></g>
<path d="M378.50 6.50H661.50V249.50H378.50Z" fill="none" stroke="#4a4a4a" stroke-width="1"/>
<path d="M378.50 128.10H661.50" fill="none" stroke="#8c8c8c" stroke-width="1.4"/>
<path d="M612.50 11.00V249.50" stroke="#4a4a4a" stroke-width="1.0" stroke-dasharray="4 2.8"/>
<path d="M378.50 249.50V245.30M378.50 125.90V130.30M391.36 249.50V247.30M391.36 126.90V129.30M404.22 249.50V245.30M404.22 125.90V130.30M417.08 249.50V247.30M417.08 126.90V129.30M429.94 249.50V245.30M429.94 125.90V130.30M442.80 249.50V247.30M442.80 126.90V129.30M455.66 249.50V245.30M455.66 125.90V130.30M468.52 249.50V247.30M468.52 126.90V129.30M481.38 249.50V245.30M481.38 125.90V130.30M494.24 249.50V247.30M494.24 126.90V129.30M507.10 249.50V245.30M507.10 125.90V130.30M519.96 249.50V247.30M519.96 126.90V129.30M532.82 249.50V245.30M532.82 125.90V130.30M545.68 249.50V247.30M545.68 126.90V129.30M558.54 249.50V245.30M558.54 125.90V130.30M571.40 249.50V247.30M571.40 126.90V129.30M584.26 249.50V245.30M584.26 125.90V130.30M597.12 249.50V247.30M597.12 126.90V129.30M609.98 249.50V245.30M609.98 125.90V130.30M622.84 249.50V247.30M622.84 126.90V129.30M635.70 249.50V245.30M635.70 125.90V130.30M648.56 249.50V247.30M648.56 126.90V129.30M661.42 249.50V245.30M661.42 125.90V130.30M378.50 125.20H376.00M378.50 110.36H377.20M378.50 95.53H376.00M378.50 80.69H377.20M378.50 65.85H376.00M378.50 51.01H377.20M378.50 36.17H376.00M378.50 21.34H377.20M378.50 6.50H376.00M378.50 249.60H376.00M378.50 232.17H377.20M378.50 214.75H376.00M378.50 197.32H377.20M378.50 179.90H376.00M378.50 162.47H377.20M378.50 145.05H376.00" stroke="#4a4a4a" stroke-width="1"/>
<text x="376.30" y="9.60" text-anchor="end" font-size="10.4" fill="#222" letter-spacing="-0.85">1.00</text>
<text x="376.30" y="39.27" text-anchor="end" font-size="10.4" fill="#222" letter-spacing="-0.85">0.75</text>
<text x="376.30" y="68.95" text-anchor="end" font-size="10.4" fill="#222" letter-spacing="-0.85">0.50</text>
<text x="376.30" y="98.62" text-anchor="end" font-size="10.4" fill="#222" letter-spacing="-0.85">0.25</text>
<text x="376.30" y="128.30" text-anchor="end" font-size="10.4" fill="#222" letter-spacing="-0.85">0.00</text>
<text x="376.30" y="148.15" text-anchor="end" font-size="10.4" fill="#222" letter-spacing="-0.85">0.03</text>
<text x="376.30" y="183.00" text-anchor="end" font-size="10.4" fill="#222" letter-spacing="-0.85">0.02</text>
<text x="376.30" y="217.85" text-anchor="end" font-size="10.4" fill="#222" letter-spacing="-0.85">0.01</text>
<text x="376.30" y="252.70" text-anchor="end" font-size="10.4" fill="#222" letter-spacing="-0.85">0.00</text>
<text x="379.30" y="259.90" text-anchor="middle" font-size="10.4" fill="#222" letter-spacing="-0.45">10</text>
<text x="405.02" y="259.90" text-anchor="middle" font-size="10.4" fill="#222" letter-spacing="-0.45">15</text>
<text x="430.74" y="259.90" text-anchor="middle" font-size="10.4" fill="#222" letter-spacing="-0.45">20</text>
<text x="456.46" y="259.90" text-anchor="middle" font-size="10.4" fill="#222" letter-spacing="-0.45">25</text>
<text x="482.18" y="259.90" text-anchor="middle" font-size="10.4" fill="#222" letter-spacing="-0.45">30</text>
<text x="507.90" y="259.90" text-anchor="middle" font-size="10.4" fill="#222" letter-spacing="-0.45">35</text>
<text x="533.62" y="259.90" text-anchor="middle" font-size="10.4" fill="#222" letter-spacing="-0.45">40</text>
<text x="559.34" y="259.90" text-anchor="middle" font-size="10.4" fill="#222" letter-spacing="-0.45">45</text>
<text x="585.06" y="259.90" text-anchor="middle" font-size="10.4" fill="#222" letter-spacing="-0.45">50</text>
<text x="610.78" y="259.90" text-anchor="middle" font-size="10.4" fill="#222" letter-spacing="-0.45">55</text>
<text x="636.50" y="259.90" text-anchor="middle" font-size="10.4" fill="#222" letter-spacing="-0.45">60</text>
<text x="662.22" y="259.90" text-anchor="middle" font-size="10.4" fill="#222" letter-spacing="-0.45">65</text>
<text x="391.60" y="28.60" font-size="11.4" fill="#111">(c)</text>
<text x="391.60" y="147.30" font-size="11.4" fill="#111">(c’)</text>
<text x="526.70" y="27.60" font-size="11.2" fill="#111">Unbound ATP7</text>
<text x="466.60" y="273.50" font-size="10.85" fill="#111">Temperature (°C)</text>
<text transform="translate(343.70 63.50) rotate(-90)" text-anchor="middle" font-size="10.9" fill="#111">Normalized UV 260 nm</text>
<text transform="translate(354.30 63.50) rotate(-90)" text-anchor="middle" font-size="10.9" fill="#111">Absorbance (a.u.)</text>
<text transform="translate(350.20 177.00) rotate(-90)" text-anchor="middle" font-size="10.8" fill="#111">1<tspan font-size="6.8" dy="-3.6">st</tspan><tspan dy="3.6"> Derivative</tspan></text>
<clipPath id="cub"><rect x="44.50" y="284.50" width="283.00" height="121.60"/></clipPath>
<clipPath id="clb"><rect x="44.50" y="406.10" width="283.00" height="121.40"/></clipPath>
<g clip-path="url(#cub)"><path d="M44.5 402.0L45.8 401.6L47.1 401.3L48.4 400.9L49.6 400.5L50.9 400.2L52.2 399.8L53.5 399.5L54.8 399.1L56.1 398.8L57.4 398.4L58.6 398.1L59.9 397.7L61.2 397.4L62.5 397.1L63.8 396.7L65.1 396.4L66.4 396.1L67.6 395.7L68.9 395.4L70.2 395.1L71.5 394.7L72.8 394.4L74.1 394.0L75.4 393.7L76.7 393.4L77.9 393.0L79.2 392.7L80.5 392.4L81.8 392.0L83.1 391.7L84.4 391.4L85.7 391.0L86.9 390.7L88.2 390.3L89.5 390.0L90.8 389.7L92.1 389.4L93.4 389.0L94.7 388.7L95.9 388.4L97.2 388.1L98.5 387.8L99.8 387.5L101.1 387.2L102.4 386.9L103.7 386.7L104.9 386.4L106.2 386.1L107.5 385.8L108.8 385.6L110.1 385.3L111.4 385.0L112.7 384.7L113.9 384.4L115.2 384.1L116.5 383.7L117.8 383.4L119.1 383.0L120.4 382.6L121.7 382.2L122.9 381.8L124.2 381.3L125.5 380.8L126.8 380.3L128.1 379.8L129.4 379.3L130.7 378.9L131.9 378.5L133.2 378.1L134.5 377.7L135.8 377.3L137.1 376.9L138.4 376.6L139.7 376.2L140.9 375.8L142.2 375.5L143.5 375.1L144.8 374.8L146.1 374.4L147.4 374.0L148.7 373.7L150.0 373.3L151.2 373.0L152.5 372.6L153.8 372.3L155.1 371.9L156.4 371.5L157.7 371.1L159.0 370.7L160.2 370.3L161.5 369.8L162.8 369.4L164.1 368.9L165.4 368.4L166.7 367.8L168.0 367.3L169.2 366.7L170.5 366.2L171.8 365.6L173.1 365.0L174.4 364.4L175.7 363.9L177.0 363.3L178.2 362.7L179.5 362.1L180.8 361.6L182.1 361.0L183.4 360.4L184.7 359.8L186.0 359.2L187.2 358.6L188.5 358.0L189.8 357.3L191.1 356.7L192.4 356.1L193.7 355.4L195.0 354.8L196.2 354.1L197.5 353.5L198.8 352.8L200.1 352.1L201.4 351.4L202.7 350.7L204.0 350.0L205.2 349.3L206.5 348.5L207.8 347.8L209.1 347.0L210.4 346.2L211.7 345.4L213.0 344.6L214.3 343.8L215.5 343.0L216.8 342.2L218.1 341.3L219.4 340.5L220.7 339.6L222.0 338.7L223.3 337.8L224.5 337.0L225.8 336.1L227.1 335.3L228.4 334.5L229.7 333.7L231.0 332.9L232.3 332.1L233.5 331.4L234.8 330.6L236.1 329.8L237.4 329.0L238.7 328.2L240.0 327.4L241.3 326.6L242.5 325.8L243.8 325.1L245.1 324.3L246.4 323.7L247.7 323.0L249.0 322.4L250.3 321.8L251.5 321.2L252.8 320.6L254.1 320.0L255.4 319.4L256.7 318.8L258.0 318.2L259.3 317.6L260.5 317.0L261.8 316.4L263.1 315.8L264.4 315.3L265.7 314.7L267.0 314.2L268.3 313.7L269.6 313.3L270.8 312.8L272.1 312.4L273.4 312.0L274.7 311.6L276.0 311.2L277.3 310.8L278.6 310.5L279.8 310.1L281.1 309.7L282.4 309.4L283.7 309.1L285.0 308.7L286.3 308.4L287.6 308.1L288.8 307.8L290.1 307.5L291.4 307.2L292.7 306.9L294.0 306.6L295.3 306.3L296.6 306.0L297.8 305.7L299.1 305.4L300.4 305.1L301.7 304.8L303.0 304.5L304.3 304.3L305.6 304.0L306.8 303.7L308.1 303.4L309.4 303.1L310.7 302.8L312.0 302.5L313.3 302.1L314.6 301.8L315.8 301.5L317.1 301.2L318.4 300.9L319.7 300.7L321.0 300.4L322.3 300.2L323.6 299.9L324.8 299.7L326.1 299.5L327.4 299.3" fill="none" stroke="#f7a0a0" stroke-width="0.7" stroke-dasharray="1.3 1.6"/><path d="M44.5 404.0L45.8 403.7L47.1 403.4L48.4 403.2L49.6 402.9L50.9 402.6L52.2 402.4L53.5 402.1L54.8 401.8L56.1 401.6L57.4 401.3L58.6 401.1L59.9 400.8L61.2 400.6L62.5 400.3L63.8 400.1L65.1 399.8L66.4 399.6L67.6 399.3L68.9 399.1L70.2 398.9L71.5 398.6L72.8 398.4L74.1 398.1L75.4 397.9L76.7 397.6L77.9 397.4L79.2 397.1L80.5 396.9L81.8 396.6L83.1 396.4L84.4 396.1L85.7 395.9L86.9 395.7L88.2 395.4L89.5 395.2L90.8 394.9L92.1 394.7L93.4 394.4L94.7 394.2L95.9 394.0L97.2 393.7L98.5 393.5L99.8 393.3L101.1 393.1L102.4 392.8L103.7 392.6L104.9 392.4L106.2 392.2L107.5 392.0L108.8 391.8L110.1 391.5L111.4 391.3L112.7 391.1L113.9 390.8L115.2 390.6L116.5 390.3L117.8 390.0L119.1 389.7L120.4 389.4L121.7 389.0L122.9 388.6L124.2 388.2L125.5 387.8L126.8 387.3L128.1 386.9L129.4 386.5L130.7 386.1L131.9 385.7L133.2 385.4L134.5 385.1L135.8 384.8L137.1 384.4L138.4 384.1L139.7 383.8L140.9 383.5L142.2 383.2L143.5 382.9L144.8 382.6L146.1 382.3L147.4 382.0L148.7 381.7L150.0 381.4L151.2 381.1L152.5 380.8L153.8 380.5L155.1 380.1L156.4 379.8L157.7 379.4L159.0 379.0L160.2 378.6L161.5 378.2L162.8 377.8L164.1 377.3L165.4 376.8L166.7 376.3L168.0 375.8L169.2 375.3L170.5 374.8L171.8 374.2L173.1 373.7L174.4 373.1L175.7 372.6L177.0 372.1L178.2 371.5L179.5 371.0L180.8 370.4L182.1 369.9L183.4 369.3L184.7 368.8L186.0 368.2L187.2 367.6L188.5 367.0L189.8 366.4L191.1 365.8L192.4 365.2L193.7 364.6L195.0 364.0L196.2 363.4L197.5 362.8L198.8 362.1L200.1 361.5L201.4 360.8L202.7 360.1L204.0 359.4L205.2 358.8L206.5 358.0L207.8 357.3L209.1 356.6L210.4 355.9L211.7 355.1L213.0 354.3L214.3 353.6L215.5 352.8L216.8 352.0L218.1 351.2L219.4 350.4L220.7 349.5L222.0 348.7L223.3 347.8L224.5 347.0L225.8 346.1L227.1 345.2L228.4 344.4L229.7 343.5L231.0 342.7L232.3 341.8L233.5 341.0L234.8 340.2L236.1 339.3L237.4 338.5L238.7 337.6L240.0 336.8L241.3 335.9L242.5 335.1L243.8 334.3L245.1 333.5L246.4 332.8L247.7 332.1L249.0 331.4L250.3 330.8L251.5 330.1L252.8 329.5L254.1 328.8L255.4 328.2L256.7 327.6L258.0 326.9L259.3 326.3L260.5 325.6L261.8 325.0L263.1 324.3L264.4 323.7L265.7 323.1L267.0 322.6L268.3 322.0L269.6 321.5L270.8 321.0L272.1 320.5L273.4 320.1L274.7 319.6L276.0 319.2L277.3 318.8L278.6 318.4L279.8 317.9L281.1 317.5L282.4 317.2L283.7 316.8L285.0 316.4L286.3 316.0L287.6 315.7L288.8 315.3L290.1 314.9L291.4 314.6L292.7 314.2L294.0 313.9L295.3 313.5L296.6 313.2L297.8 312.8L299.1 312.5L300.4 312.2L301.7 311.8L303.0 311.5L304.3 311.2L305.6 310.8L306.8 310.5L308.1 310.1L309.4 309.8L310.7 309.4L312.0 309.1L313.3 308.7L314.6 308.3L315.8 308.0L317.1 307.6L318.4 307.3L319.7 307.0L321.0 306.7L322.3 306.4L323.6 306.1L324.8 305.8L326.1 305.5L327.4 305.3" fill="none" stroke="#f7a0a0" stroke-width="0.7" stroke-dasharray="1.3 1.6"/><path d="M44.5 402.5L45.8 402.1L47.1 401.8L48.4 401.5L49.6 401.1L50.9 400.8L52.2 400.4L53.5 400.1L54.8 399.8L56.1 399.5L57.4 399.1L58.6 398.8L59.9 398.5L61.2 398.2L62.5 397.9L63.8 397.6L65.1 397.2L66.4 396.9L67.6 396.6L68.9 396.3L70.2 396.0L71.5 395.7L72.8 395.4L74.1 395.1L75.4 394.8L76.7 394.4L77.9 394.1L79.2 393.8L80.5 393.5L81.8 393.2L83.1 392.9L84.4 392.6L85.7 392.2L86.9 391.9L88.2 391.6L89.5 391.3L90.8 391.0L92.1 390.7L93.4 390.4L94.7 390.1L95.9 389.8L97.2 389.5L98.5 389.2L99.8 388.9L101.1 388.7L102.4 388.4L103.7 388.2L104.9 387.9L106.2 387.6L107.5 387.4L108.8 387.1L110.1 386.8L111.4 386.6L112.7 386.3L113.9 386.0L115.2 385.7L116.5 385.4L117.8 385.1L119.1 384.7L120.4 384.3L121.7 383.9L122.9 383.5L124.2 383.0L125.5 382.5L126.8 382.1L128.1 381.6L129.4 381.1L130.7 380.7L131.9 380.3L133.2 379.9L134.5 379.5L135.8 379.2L137.1 378.8L138.4 378.5L139.7 378.1L140.9 377.8L142.2 377.4L143.5 377.1L144.8 376.7L146.1 376.4L147.4 376.0L148.7 375.7L150.0 375.4L151.2 375.0L152.5 374.7L153.8 374.3L155.1 374.0L156.4 373.6L157.7 373.2L159.0 372.8L160.2 372.4L161.5 371.9L162.8 371.5L164.1 371.0L165.4 370.5L166.7 369.9L168.0 369.4L169.2 368.9L170.5 368.3L171.8 367.7L173.1 367.2L174.4 366.6L175.7 366.1L177.0 365.5L178.2 364.9L179.5 364.4L180.8 363.8L182.1 363.2L183.4 362.6L184.7 362.0L186.0 361.4L187.2 360.8L188.5 360.2L189.8 359.6L191.1 359.0L192.4 358.4L193.7 357.7L195.0 357.1L196.2 356.4L197.5 355.8L198.8 355.1L200.1 354.4L201.4 353.7L202.7 353.1L204.0 352.3L205.2 351.6L206.5 350.9L207.8 350.2L209.1 349.4L210.4 348.6L211.7 347.9L213.0 347.1L214.3 346.3L215.5 345.5L216.8 344.6L218.1 343.8L219.4 343.0L220.7 342.1L222.0 341.2L223.3 340.3L224.5 339.5L225.8 338.6L227.1 337.8L228.4 337.0L229.7 336.2L231.0 335.4L232.3 334.6L233.5 333.8L234.8 333.0L236.1 332.2L237.4 331.3L238.7 330.5L240.0 329.7L241.3 328.9L242.5 328.1L243.8 327.4L245.1 326.6L246.4 325.9L247.7 325.3L249.0 324.6L250.3 324.0L251.5 323.4L252.8 322.8L254.1 322.2L255.4 321.6L256.7 321.0L258.0 320.4L259.3 319.8L260.5 319.2L261.8 318.5L263.1 318.0L264.4 317.4L265.7 316.8L267.0 316.3L268.3 315.8L269.6 315.3L270.8 314.9L272.1 314.4L273.4 314.0L274.7 313.6L276.0 313.2L277.3 312.8L278.6 312.4L279.8 312.1L281.1 311.7L282.4 311.3L283.7 311.0L285.0 310.7L286.3 310.3L287.6 310.0L288.8 309.7L290.1 309.3L291.4 309.0L292.7 308.7L294.0 308.4L295.3 308.1L296.6 307.8L297.8 307.5L299.1 307.2L300.4 306.9L301.7 306.6L303.0 306.3L304.3 306.0L305.6 305.7L306.8 305.4L308.1 305.1L309.4 304.8L310.7 304.4L312.0 304.1L313.3 303.8L314.6 303.5L315.8 303.1L317.1 302.8L318.4 302.5L319.7 302.2L321.0 302.0L322.3 301.7L323.6 301.5L324.8 301.2L326.1 301.0L327.4 300.8" fill="none" stroke="#f7a0a0" stroke-width="0.7" stroke-dasharray="1.3 1.6"/><path d="M44.5 403.6L45.8 403.3L47.1 403.0L48.4 402.7L49.6 402.4L50.9 402.1L52.2 401.8L53.5 401.6L54.8 401.3L56.1 401.0L57.4 400.7L58.6 400.5L59.9 400.2L61.2 399.9L62.5 399.7L63.8 399.4L65.1 399.1L66.4 398.9L67.6 398.6L68.9 398.4L70.2 398.1L71.5 397.8L72.8 397.6L74.1 397.3L75.4 397.0L76.7 396.8L77.9 396.5L79.2 396.2L80.5 396.0L81.8 395.7L83.1 395.4L84.4 395.2L85.7 394.9L86.9 394.7L88.2 394.4L89.5 394.1L90.8 393.9L92.1 393.6L93.4 393.4L94.7 393.1L95.9 392.9L97.2 392.6L98.5 392.4L99.8 392.1L101.1 391.9L102.4 391.7L103.7 391.4L104.9 391.2L106.2 391.0L107.5 390.8L108.8 390.5L110.1 390.3L111.4 390.0L112.7 389.8L113.9 389.5L115.2 389.3L116.5 389.0L117.8 388.7L119.1 388.4L120.4 388.0L121.7 387.7L122.9 387.3L124.2 386.8L125.5 386.4L126.8 385.9L128.1 385.5L129.4 385.1L130.7 384.7L131.9 384.3L133.2 383.9L134.5 383.6L135.8 383.3L137.1 382.9L138.4 382.6L139.7 382.3L140.9 382.0L142.2 381.7L143.5 381.4L144.8 381.1L146.1 380.8L147.4 380.4L148.7 380.1L150.0 379.8L151.2 379.5L152.5 379.2L153.8 378.8L155.1 378.5L156.4 378.1L157.7 377.8L159.0 377.4L160.2 377.0L161.5 376.5L162.8 376.1L164.1 375.6L165.4 375.1L166.7 374.6L168.0 374.1L169.2 373.6L170.5 373.0L171.8 372.5L173.1 372.0L174.4 371.4L175.7 370.9L177.0 370.3L178.2 369.8L179.5 369.2L180.8 368.7L182.1 368.1L183.4 367.5L184.7 367.0L186.0 366.4L187.2 365.8L188.5 365.2L189.8 364.6L191.1 364.0L192.4 363.4L193.7 362.8L195.0 362.2L196.2 361.5L197.5 360.9L198.8 360.2L200.1 359.6L201.4 358.9L202.7 358.2L204.0 357.6L205.2 356.9L206.5 356.1L207.8 355.4L209.1 354.7L210.4 353.9L211.7 353.2L213.0 352.4L214.3 351.6L215.5 350.8L216.8 350.0L218.1 349.2L219.4 348.4L220.7 347.5L222.0 346.7L223.3 345.8L224.5 345.0L225.8 344.1L227.1 343.2L228.4 342.4L229.7 341.6L231.0 340.7L232.3 339.9L233.5 339.1L234.8 338.2L236.1 337.4L237.4 336.6L238.7 335.7L240.0 334.9L241.3 334.1L242.5 333.2L243.8 332.5L245.1 331.7L246.4 331.0L247.7 330.3L249.0 329.6L250.3 329.0L251.5 328.3L252.8 327.7L254.1 327.1L255.4 326.5L256.7 325.8L258.0 325.2L259.3 324.5L260.5 323.9L261.8 323.2L263.1 322.6L264.4 322.0L265.7 321.4L267.0 320.9L268.3 320.4L269.6 319.9L270.8 319.4L272.1 318.9L273.4 318.5L274.7 318.0L276.0 317.6L277.3 317.2L278.6 316.8L279.8 316.4L281.1 316.0L282.4 315.6L283.7 315.2L285.0 314.9L286.3 314.5L287.6 314.1L288.8 313.8L290.1 313.4L291.4 313.1L292.7 312.7L294.0 312.4L295.3 312.1L296.6 311.7L297.8 311.4L299.1 311.1L300.4 310.7L301.7 310.4L303.0 310.1L304.3 309.8L305.6 309.4L306.8 309.1L308.1 308.8L309.4 308.4L310.7 308.1L312.0 307.7L313.3 307.4L314.6 307.0L315.8 306.7L317.1 306.3L318.4 306.0L319.7 305.7L321.0 305.4L322.3 305.1L323.6 304.8L324.8 304.6L326.1 304.3L327.4 304.1" fill="none" stroke="#f7a0a0" stroke-width="0.7" stroke-dasharray="1.3 1.6"/><path d="M44.5 401.6L45.8 401.3L47.1 400.9L48.4 400.5L49.6 400.1L50.9 399.7L52.2 399.4L53.5 399.0L54.8 398.6L56.1 398.3L57.4 397.9L58.6 397.5L59.9 397.2L61.2 396.8L62.5 396.5L63.8 396.1L65.1 395.8L66.4 395.4L67.6 395.1L68.9 394.7L70.2 394.4L71.5 394.0L72.8 393.7L74.1 393.3L75.4 393.0L76.7 392.6L77.9 392.3L79.2 391.9L80.5 391.6L81.8 391.2L83.1 390.9L84.4 390.5L85.7 390.2L86.9 389.8L88.2 389.5L89.5 389.1L90.8 388.8L92.1 388.4L93.4 388.1L94.7 387.7L95.9 387.4L97.2 387.1L98.5 386.8L99.8 386.5L101.1 386.2L102.4 385.9L103.7 385.6L104.9 385.3L106.2 385.1L107.5 384.8L108.8 384.5L110.1 384.2L111.4 383.9L112.7 383.6L113.9 383.3L115.2 382.9L116.5 382.6L117.8 382.2L119.1 381.9L120.4 381.5L121.7 381.0L122.9 380.6L124.2 380.1L125.5 379.6L126.8 379.1L128.1 378.6L129.4 378.1L130.7 377.6L131.9 377.2L133.2 376.8L134.5 376.4L135.8 376.0L137.1 375.6L138.4 375.2L139.7 374.9L140.9 374.5L142.2 374.1L143.5 373.8L144.8 373.4L146.1 373.0L147.4 372.6L148.7 372.3L150.0 371.9L151.2 371.6L152.5 371.2L153.8 370.9L155.1 370.5L156.4 370.1L157.7 369.7L159.0 369.3L160.2 368.8L161.5 368.4L162.8 367.9L164.1 367.4L165.4 366.9L166.7 366.3L168.0 365.8L169.2 365.2L170.5 364.7L171.8 364.1L173.1 363.5L174.4 362.9L175.7 362.3L177.0 361.8L178.2 361.2L179.5 360.6L180.8 360.0L182.1 359.4L183.4 358.8L184.7 358.2L186.0 357.6L187.2 357.0L188.5 356.4L189.8 355.8L191.1 355.1L192.4 354.5L193.7 353.8L195.0 353.2L196.2 352.5L197.5 351.8L198.8 351.1L200.1 350.5L201.4 349.8L202.7 349.0L204.0 348.3L205.2 347.6L206.5 346.8L207.8 346.1L209.1 345.3L210.4 344.5L211.7 343.8L213.0 343.0L214.3 342.1L215.5 341.3L216.8 340.5L218.1 339.6L219.4 338.8L220.7 337.9L222.0 337.0L223.3 336.1L224.5 335.2L225.8 334.4L227.1 333.6L228.4 332.8L229.7 332.0L231.0 331.2L232.3 330.4L233.5 329.7L234.8 328.9L236.1 328.1L237.4 327.3L238.7 326.5L240.0 325.7L241.3 324.9L242.5 324.2L243.8 323.4L245.1 322.7L246.4 322.1L247.7 321.4L249.0 320.8L250.3 320.2L251.5 319.6L252.8 319.0L254.1 318.5L255.4 317.9L256.7 317.3L258.0 316.7L259.3 316.1L260.5 315.5L261.8 314.9L263.1 314.3L264.4 313.8L265.7 313.3L267.0 312.8L268.3 312.3L269.6 311.8L270.8 311.4L272.1 311.0L273.4 310.6L274.7 310.2L276.0 309.8L277.3 309.4L278.6 309.1L279.8 308.7L281.1 308.4L282.4 308.0L283.7 307.7L285.0 307.4L286.3 307.1L287.6 306.8L288.8 306.5L290.1 306.2L291.4 305.9L292.7 305.6L294.0 305.3L295.3 305.0L296.6 304.7L297.8 304.4L299.1 304.1L300.4 303.9L301.7 303.6L303.0 303.3L304.3 303.0L305.6 302.8L306.8 302.5L308.1 302.2L309.4 301.9L310.7 301.6L312.0 301.3L313.3 301.0L314.6 300.7L315.8 300.4L317.1 300.1L318.4 299.8L319.7 299.6L321.0 299.3L322.3 299.1L323.6 298.8L324.8 298.6L326.1 298.4L327.4 298.2" fill="none" stroke="#f7a0a0" stroke-width="0.7" stroke-dasharray="1.3 1.6"/><path d="M44.5 404.2L45.8 403.9L47.1 403.7L48.4 403.4L49.6 403.1L50.9 402.9L52.2 402.6L53.5 402.3L54.8 402.1L56.1 401.8L57.4 401.6L58.6 401.4L59.9 401.1L61.2 400.9L62.5 400.6L63.8 400.4L65.1 400.2L66.4 399.9L67.6 399.7L68.9 399.5L70.2 399.2L71.5 399.0L72.8 398.8L74.1 398.5L75.4 398.3L76.7 398.0L77.9 397.8L79.2 397.6L80.5 397.3L81.8 397.1L83.1 396.9L84.4 396.6L85.7 396.4L86.9 396.2L88.2 395.9L89.5 395.7L90.8 395.4L92.1 395.2L93.4 395.0L94.7 394.8L95.9 394.5L97.2 394.3L98.5 394.1L99.8 393.9L101.1 393.6L102.4 393.4L103.7 393.2L104.9 393.0L106.2 392.8L107.5 392.6L108.8 392.4L110.1 392.2L111.4 391.9L112.7 391.7L113.9 391.5L115.2 391.2L116.5 391.0L117.8 390.7L119.1 390.4L120.4 390.1L121.7 389.7L122.9 389.3L124.2 388.9L125.5 388.5L126.8 388.1L128.1 387.6L129.4 387.2L130.7 386.8L131.9 386.5L133.2 386.1L134.5 385.8L135.8 385.5L137.1 385.2L138.4 384.9L139.7 384.6L140.9 384.3L142.2 384.0L143.5 383.7L144.8 383.4L146.1 383.1L147.4 382.8L148.7 382.5L150.0 382.2L151.2 381.9L152.5 381.6L153.8 381.3L155.1 380.9L156.4 380.6L157.7 380.2L159.0 379.9L160.2 379.5L161.5 379.0L162.8 378.6L164.1 378.2L165.4 377.7L166.7 377.2L168.0 376.7L169.2 376.1L170.5 375.6L171.8 375.1L173.1 374.6L174.4 374.0L175.7 373.5L177.0 372.9L178.2 372.4L179.5 371.9L180.8 371.3L182.1 370.8L183.4 370.2L184.7 369.7L186.0 369.1L187.2 368.5L188.5 367.9L189.8 367.4L191.1 366.8L192.4 366.2L193.7 365.6L195.0 364.9L196.2 364.3L197.5 363.7L198.8 363.0L200.1 362.4L201.4 361.7L202.7 361.1L204.0 360.4L205.2 359.7L206.5 359.0L207.8 358.3L209.1 357.6L210.4 356.8L211.7 356.1L213.0 355.3L214.3 354.5L215.5 353.8L216.8 353.0L218.1 352.2L219.4 351.3L220.7 350.5L222.0 349.7L223.3 348.8L224.5 348.0L225.8 347.1L227.1 346.2L228.4 345.3L229.7 344.5L231.0 343.7L232.3 342.8L233.5 342.0L234.8 341.1L236.1 340.3L237.4 339.4L238.7 338.6L240.0 337.7L241.3 336.9L242.5 336.0L243.8 335.2L245.1 334.5L246.4 333.7L247.7 333.0L249.0 332.3L250.3 331.7L251.5 331.0L252.8 330.4L254.1 329.7L255.4 329.1L256.7 328.4L258.0 327.8L259.3 327.1L260.5 326.5L261.8 325.8L263.1 325.2L264.4 324.6L265.7 324.0L267.0 323.4L268.3 322.9L269.6 322.3L270.8 321.8L272.1 321.4L273.4 320.9L274.7 320.4L276.0 320.0L277.3 319.6L278.6 319.1L279.8 318.7L281.1 318.3L282.4 317.9L283.7 317.5L285.0 317.2L286.3 316.8L287.6 316.4L288.8 316.0L290.1 315.7L291.4 315.3L292.7 314.9L294.0 314.6L295.3 314.2L296.6 313.9L297.8 313.5L299.1 313.2L300.4 312.9L301.7 312.5L303.0 312.2L304.3 311.8L305.6 311.5L306.8 311.2L308.1 310.8L309.4 310.4L310.7 310.1L312.0 309.7L313.3 309.3L314.6 309.0L315.8 308.6L317.1 308.3L318.4 307.9L319.7 307.6L321.0 307.3L322.3 307.0L323.6 306.7L324.8 306.4L326.1 306.1L327.4 305.9" fill="none" stroke="#f7a0a0" stroke-width="0.7" stroke-dasharray="1.3 1.6"/></g>
<g clip-path="url(#cub)">
<path d="M44.5 403.1L45.8 402.8L47.1 402.5L48.4 402.1L49.6 401.8L50.9 401.5L52.2 401.2L53.5 400.9L54.8 400.6L56.1 400.3L57.4 400.0L58.6 399.7L59.9 399.4L61.2 399.1L62.5 398.8L63.8 398.6L65.1 398.3L66.4 398.0L67.6 397.7L68.9 397.4L70.2 397.1L71.5 396.9L72.8 396.6L74.1 396.3L75.4 396.0L76.7 395.7L77.9 395.4L79.2 395.1L80.5 394.8L81.8 394.6L83.1 394.3L84.4 394.0L85.7 393.7L86.9 393.4L88.2 393.1L89.5 392.8L90.8 392.6L92.1 392.3L93.4 392.0L94.7 391.7L95.9 391.5L97.2 391.2L98.5 390.9L99.8 390.7L101.1 390.4L102.4 390.2L103.7 389.9L104.9 389.7L106.2 389.5L107.5 389.2L108.8 389.0L110.1 388.7L111.4 388.5L112.7 388.2L113.9 387.9L115.2 387.7L116.5 387.4L117.8 387.0L119.1 386.7L120.4 386.3L121.7 386.0L122.9 385.5L124.2 385.1L125.5 384.6L126.8 384.2L128.1 383.7L129.4 383.3L130.7 382.9L131.9 382.5L133.2 382.1L134.5 381.7L135.8 381.4L137.1 381.1L138.4 380.7L139.7 380.4L140.9 380.1L142.2 379.8L143.5 379.4L144.8 379.1L146.1 378.8L147.4 378.4L148.7 378.1L150.0 377.8L151.2 377.5L152.5 377.1L153.8 376.8L155.1 376.4L156.4 376.1L157.7 375.7L159.0 375.3L160.2 374.9L161.5 374.4L162.8 374.0L164.1 373.5L165.4 373.0L166.7 372.5L168.0 372.0L169.2 371.4L170.5 370.9L171.8 370.3L173.1 369.8L174.4 369.2L175.7 368.7L177.0 368.1L178.2 367.6L179.5 367.0L180.8 366.4L182.1 365.9L183.4 365.3L184.7 364.7L186.0 364.1L187.2 363.6L188.5 363.0L189.8 362.4L191.1 361.7L192.4 361.1L193.7 360.5L195.0 359.9L196.2 359.2L197.5 358.6L198.8 357.9L200.1 357.2L201.4 356.6L202.7 355.9L204.0 355.2L205.2 354.5L206.5 353.8L207.8 353.0L209.1 352.3L210.4 351.5L211.7 350.8L213.0 350.0L214.3 349.2L215.5 348.4L216.8 347.6L218.1 346.8L219.4 345.9L220.7 345.1L222.0 344.2L223.3 343.3L224.5 342.5L225.8 341.6L227.1 340.8L228.4 339.9L229.7 339.1L231.0 338.3L232.3 337.5L233.5 336.7L234.8 335.8L236.1 335.0L237.4 334.2L238.7 333.4L240.0 332.5L241.3 331.7L242.5 330.9L243.8 330.1L245.1 329.4L246.4 328.7L247.7 328.0L249.0 327.4L250.3 326.7L251.5 326.1L252.8 325.5L254.1 324.9L255.4 324.3L256.7 323.6L258.0 323.0L259.3 322.4L260.5 321.7L261.8 321.1L263.1 320.5L264.4 319.9L265.7 319.3L267.0 318.8L268.3 318.3L269.6 317.8L270.8 317.3L272.1 316.9L273.4 316.4L274.7 316.0L276.0 315.6L277.3 315.2L278.6 314.8L279.8 314.4L281.1 314.0L282.4 313.7L283.7 313.3L285.0 313.0L286.3 312.6L287.6 312.3L288.8 311.9L290.1 311.6L291.4 311.2L292.7 310.9L294.0 310.6L295.3 310.3L296.6 309.9L297.8 309.6L299.1 309.3L300.4 309.0L301.7 308.7L303.0 308.4L304.3 308.0L305.6 307.7L306.8 307.4L308.1 307.1L309.4 306.8L310.7 306.4L312.0 306.1L313.3 305.7L314.6 305.4L315.8 305.1L317.1 304.7L318.4 304.4L319.7 304.1L321.0 303.8L322.3 303.6L323.6 303.3L324.8 303.0L326.1 302.8L327.4 302.6" fill="none" stroke="#f22a2a" stroke-width="1.1"/>
<path d="M44.5 402.1V404.1M42.5 402.1H46.5M42.5 404.1H46.5M49.6 400.6V403.0M47.6 400.6H51.6M47.6 403.0H51.6M54.8 399.2V402.0M52.8 399.2H56.8M52.8 402.0H56.8M59.9 397.9V401.0M57.9 397.9H61.9M57.9 401.0H61.9M65.1 396.6V400.0M63.1 396.6H67.1M63.1 400.0H67.1M70.2 395.2V399.0M68.2 395.2H72.2M68.2 399.0H72.2M75.4 393.9V398.1M73.4 393.9H77.4M73.4 398.1H77.4M80.5 392.6V397.1M78.5 392.6H82.5M78.5 397.1H82.5M85.7 391.3V396.1M83.7 391.3H87.7M83.7 396.1H87.7M90.8 389.9V395.2M88.8 389.9H92.8M88.8 395.2H92.8M95.9 388.7V394.3M93.9 388.7H97.9M93.9 394.3H97.9M101.1 387.5V393.4M99.1 387.5H103.1M99.1 393.4H103.1M106.2 386.4V392.5M104.2 386.4H108.2M104.2 392.5H108.2M111.4 385.3V391.6M109.4 385.3H113.4M109.4 391.6H113.4M116.5 384.1V390.6M114.5 384.1H118.5M114.5 390.6H118.5M121.7 382.6V389.4M119.7 382.6H123.7M119.7 389.4H123.7M126.8 380.7V387.7M124.8 380.7H128.8M124.8 387.7H128.8M131.9 378.8V386.1M129.9 378.8H133.9M129.9 386.1H133.9M137.1 377.3V384.8M135.1 377.3H139.1M135.1 384.8H139.1M142.2 375.9V383.6M140.2 375.9H144.2M140.2 383.6H144.2M147.4 374.4V382.4M145.4 374.4H149.4M145.4 382.4H149.4M152.5 373.1V381.2M150.5 373.1H154.5M150.5 381.2H154.5M157.7 371.6V379.8M155.7 371.6H159.7M155.7 379.8H159.7M162.8 369.8V378.2M160.8 369.8H164.8M160.8 378.2H164.8M168.0 367.7V376.2M166.0 367.7H170.0M166.0 376.2H170.0M173.1 365.5V374.1M171.1 365.5H175.1M171.1 374.1H175.1M178.2 363.2V372.0M176.2 363.2H180.2M176.2 372.0H180.2M183.4 360.8V369.8M181.4 360.8H185.4M181.4 369.8H185.4M188.5 358.4V367.5M186.5 358.4H190.5M186.5 367.5H190.5M193.7 355.9V365.1M191.7 355.9H195.7M191.7 365.1H195.7M198.8 353.2V362.6M196.8 353.2H200.8M196.8 362.6H200.8M204.0 350.5V359.9M202.0 350.5H206.0M202.0 359.9H206.0M209.1 347.5V357.1M207.1 347.5H211.1M207.1 357.1H211.1M214.3 344.3V354.1M212.3 344.3H216.3M212.3 354.1H216.3M219.4 341.0V350.8M217.4 341.0H221.4M217.4 350.8H221.4M224.5 337.5V347.5M222.5 337.5H226.5M222.5 347.5H226.5M229.7 334.2V344.0M227.7 334.2H231.7M227.7 344.0H231.7M234.8 331.0V340.6M232.8 331.0H236.8M232.8 340.6H236.8M240.0 327.8V337.2M238.0 327.8H242.0M238.0 337.2H242.0M245.1 324.8V334.0M243.1 324.8H247.1M243.1 334.0H247.1M250.3 322.2V331.2M248.3 322.2H252.3M248.3 331.2H252.3M255.4 319.9V328.7M253.4 319.9H257.4M253.4 328.7H257.4M260.5 317.4V326.0M258.5 317.4H262.5M258.5 326.0H262.5M265.7 315.1V323.5M263.7 315.1H267.7M263.7 323.5H267.7M270.8 313.2V321.4M268.8 313.2H272.8M268.8 321.4H272.8M276.0 311.6V319.6M274.0 311.6H278.0M274.0 319.6H278.0M281.1 310.1V317.9M279.1 310.1H283.1M279.1 317.9H283.1M286.3 308.8V316.4M284.3 308.8H288.3M284.3 316.4H288.3M291.4 307.5V314.9M289.4 307.5H293.4M289.4 314.9H293.4M296.6 306.3V313.5M294.6 306.3H298.6M294.6 313.5H298.6M301.7 305.2V312.2M299.7 305.2H303.7M299.7 312.2H303.7M306.8 304.0V310.8M304.8 304.0H308.8M304.8 310.8H308.8M312.0 302.8V309.4M310.0 302.8H314.0M310.0 309.4H314.0M317.1 301.5V307.9M315.1 301.5H319.1M315.1 307.9H319.1M322.3 300.5V306.7M320.3 300.5H324.3M320.3 306.7H324.3M327.4 299.6V305.6M325.4 299.6H329.4M325.4 305.6H329.4" fill="none" stroke="#f03535" stroke-width="0.9"/>
</g>
<g clip-path="url(#clb)"><path d="M44.5 493.8L45.8 493.3L47.1 492.8L48.4 492.3L49.6 491.9L50.9 491.4L52.2 490.9L53.5 490.4L54.8 489.9L56.1 489.5L57.4 489.0L58.6 488.5L59.9 488.0L61.2 487.5L62.5 487.0L63.8 486.4L65.1 485.9L66.4 485.3L67.6 484.8L68.9 484.3L70.2 483.8L71.5 483.4L72.8 483.0L74.1 482.6L75.4 482.3L76.7 482.1L77.9 481.9L79.2 481.8L80.5 481.7L81.8 481.7L83.1 481.6L84.4 481.6L85.7 481.6L86.9 481.6L88.2 481.6L89.5 481.6L90.8 481.6L92.1 481.6L93.4 481.6L94.7 481.6L95.9 481.6L97.2 481.6L98.5 481.6L99.8 481.7L101.1 481.7L102.4 481.7L103.7 481.8L104.9 481.8L106.2 481.8L107.5 481.9L108.8 482.0L110.1 482.0L111.4 482.1L112.7 482.1L113.9 482.2L115.2 482.2L116.5 482.2L117.8 482.2L119.1 482.3L120.4 482.3L121.7 482.3L122.9 482.3L124.2 482.3L125.5 482.3L126.8 482.2L128.1 482.2L129.4 482.2L130.7 482.2L131.9 482.2L133.2 482.2L134.5 482.1L135.8 482.1L137.1 482.1L138.4 482.0L139.7 482.0L140.9 481.9L142.2 481.8L143.5 481.7L144.8 481.5L146.1 481.2L147.4 480.8L148.7 480.4L150.0 479.9L151.2 479.3L152.5 478.7L153.8 478.0L155.1 477.2L156.4 476.3L157.7 475.5L159.0 474.5L160.2 473.6L161.5 472.5L162.8 471.5L164.1 470.3L165.4 469.1L166.7 467.8L168.0 466.4L169.2 464.9L170.5 463.4L171.8 461.9L173.1 460.3L174.4 458.7L175.7 457.2L177.0 455.6L178.2 454.2L179.5 452.7L180.8 451.3L182.1 450.0L183.4 448.7L184.7 447.4L186.0 446.2L187.2 445.0L188.5 443.8L189.8 442.6L191.1 441.5L192.4 440.4L193.7 439.4L195.0 438.4L196.2 437.5L197.5 436.6L198.8 435.8L200.1 435.0L201.4 434.3L202.7 433.6L204.0 433.0L205.2 432.3L206.5 431.8L207.8 431.2L209.1 430.6L210.4 430.1L211.7 429.6L213.0 429.1L214.3 428.7L215.5 428.2L216.8 427.8L218.1 427.3L219.4 426.9L220.7 426.5L222.0 426.1L223.3 425.7L224.5 425.4L225.8 425.1L227.1 424.9L228.4 424.7L229.7 424.6L231.0 424.5L232.3 424.6L233.5 424.7L234.8 424.8L236.1 425.1L237.4 425.4L238.7 425.8L240.0 426.2L241.3 426.7L242.5 427.2L243.8 427.9L245.1 428.6L246.4 429.4L247.7 430.4L249.0 431.4L250.3 432.5L251.5 433.7L252.8 434.9L254.1 436.2L255.4 437.5L256.7 438.8L258.0 440.1L259.3 441.5L260.5 442.8L261.8 444.2L263.1 445.5L264.4 446.8L265.7 448.2L267.0 449.5L268.3 450.8L269.6 452.1L270.8 453.4L272.1 454.6L273.4 455.8L274.7 457.1L276.0 458.3L277.3 459.4L278.6 460.6L279.8 461.8L281.1 462.9L282.4 464.0L283.7 465.1L285.0 466.2L286.3 467.3L287.6 468.4L288.8 469.4L290.1 470.5L291.4 471.5L292.7 472.5L294.0 473.5L295.3 474.5L296.6 475.5L297.8 476.5L299.1 477.4L300.4 478.3L301.7 479.2L303.0 480.1L304.3 480.9L305.6 481.8L306.8 482.6L308.1 483.3L309.4 484.1L310.7 484.8L312.0 485.5L313.3 486.2L314.6 486.8L315.8 487.5L317.1 488.1L318.4 488.7L319.7 489.3L321.0 489.8L322.3 490.4L323.6 490.9L324.8 491.4L326.1 491.8L327.4 492.3" fill="none" stroke="#f7a0a0" stroke-width="0.7" stroke-dasharray="1.3 1.6"/><path d="M44.5 496.3L45.8 495.7L47.1 495.2L48.4 494.6L49.6 494.1L50.9 493.6L52.2 493.1L53.5 492.6L54.8 492.1L56.1 491.6L57.4 491.2L58.6 490.8L59.9 490.3L61.2 489.9L62.5 489.5L63.8 489.2L65.1 488.8L66.4 488.5L67.6 488.2L68.9 487.9L70.2 487.6L71.5 487.3L72.8 487.1L74.1 486.9L75.4 486.7L76.7 486.5L77.9 486.3L79.2 486.2L80.5 486.0L81.8 485.9L83.1 485.7L84.4 485.6L85.7 485.5L86.9 485.4L88.2 485.3L89.5 485.2L90.8 485.1L92.1 485.0L93.4 484.9L94.7 484.9L95.9 484.9L97.2 484.8L98.5 484.9L99.8 484.9L101.1 484.9L102.4 485.0L103.7 485.1L104.9 485.2L106.2 485.4L107.5 485.5L108.8 485.7L110.1 485.9L111.4 486.1L112.7 486.2L113.9 486.4L115.2 486.6L116.5 486.8L117.8 486.9L119.1 487.0L120.4 487.1L121.7 487.2L122.9 487.3L124.2 487.3L125.5 487.3L126.8 487.3L128.1 487.2L129.4 487.0L130.7 486.9L131.9 486.7L133.2 486.4L134.5 486.2L135.8 485.9L137.1 485.5L138.4 485.2L139.7 484.8L140.9 484.5L142.2 484.1L143.5 483.7L144.8 483.2L146.1 482.7L147.4 482.2L148.7 481.7L150.0 481.1L151.2 480.5L152.5 479.9L153.8 479.2L155.1 478.4L156.4 477.7L157.7 476.9L159.0 476.0L160.2 475.1L161.5 474.2L162.8 473.2L164.1 472.1L165.4 471.0L166.7 469.8L168.0 468.5L169.2 467.1L170.5 465.7L171.8 464.3L173.1 462.8L174.4 461.4L175.7 459.9L177.0 458.5L178.2 457.1L179.5 455.7L180.8 454.4L182.1 453.1L183.4 451.8L184.7 450.6L186.0 449.3L187.2 448.1L188.5 446.9L189.8 445.7L191.1 444.6L192.4 443.5L193.7 442.5L195.0 441.5L196.2 440.6L197.5 439.7L198.8 438.9L200.1 438.1L201.4 437.4L202.7 436.7L204.0 436.0L205.2 435.3L206.5 434.7L207.8 434.1L209.1 433.6L210.4 433.1L211.7 432.7L213.0 432.3L214.3 431.9L215.5 431.7L216.8 431.5L218.1 431.3L219.4 431.3L220.7 431.2L222.0 431.2L223.3 431.2L224.5 431.2L225.8 431.3L227.1 431.3L228.4 431.4L229.7 431.6L231.0 431.7L232.3 432.0L233.5 432.3L234.8 432.6L236.1 433.1L237.4 433.6L238.7 434.2L240.0 434.9L241.3 435.7L242.5 436.6L243.8 437.6L245.1 438.7L246.4 439.9L247.7 441.1L249.0 442.3L250.3 443.6L251.5 444.8L252.8 446.0L254.1 447.1L255.4 448.2L256.7 449.3L258.0 450.3L259.3 451.3L260.5 452.3L261.8 453.3L263.1 454.3L264.4 455.3L265.7 456.2L267.0 457.2L268.3 458.2L269.6 459.2L270.8 460.3L272.1 461.3L273.4 462.3L274.7 463.4L276.0 464.4L277.3 465.5L278.6 466.5L279.8 467.6L281.1 468.6L282.4 469.7L283.7 470.7L285.0 471.7L286.3 472.7L287.6 473.6L288.8 474.6L290.1 475.6L291.4 476.5L292.7 477.4L294.0 478.3L295.3 479.3L296.6 480.1L297.8 481.0L299.1 481.9L300.4 482.7L301.7 483.5L303.0 484.3L304.3 485.0L305.6 485.7L306.8 486.4L308.1 487.1L309.4 487.7L310.7 488.3L312.0 488.9L313.3 489.5L314.6 490.0L315.8 490.6L317.1 491.1L318.4 491.6L319.7 492.0L321.0 492.5L322.3 492.9L323.6 493.3L324.8 493.7L326.1 494.0L327.4 494.3" fill="none" stroke="#f7a0a0" stroke-width="0.7" stroke-dasharray="1.3 1.6"/><path d="M44.5 493.1L45.8 493.1L47.1 493.0L48.4 493.0L49.6 493.0L50.9 493.0L52.2 492.9L53.5 492.9L54.8 492.9L56.1 492.9L57.4 492.9L58.6 492.8L59.9 492.8L61.2 492.8L62.5 492.8L63.8 492.8L65.1 492.8L66.4 492.8L67.6 492.8L68.9 492.8L70.2 492.8L71.5 492.8L72.8 492.8L74.1 492.8L75.4 492.8L76.7 492.8L77.9 492.8L79.2 492.8L80.5 492.8L81.8 492.8L83.1 492.8L84.4 492.8L85.7 492.8L86.9 492.9L88.2 492.9L89.5 492.9L90.8 492.9L92.1 493.0L93.4 493.0L94.7 493.0L95.9 493.0L97.2 493.1L98.5 493.1L99.8 493.2L101.1 493.2L102.4 493.2L103.7 493.3L104.9 493.3L106.2 493.4L107.5 493.4L108.8 493.5L110.1 493.6L111.4 493.6L112.7 493.6L113.9 493.7L115.2 493.7L116.5 493.7L117.8 493.7L119.1 493.6L120.4 493.5L121.7 493.4L122.9 493.3L124.2 493.1L125.5 492.8L126.8 492.6L128.1 492.3L129.4 491.9L130.7 491.6L131.9 491.2L133.2 490.7L134.5 490.3L135.8 489.8L137.1 489.4L138.4 488.9L139.7 488.4L140.9 487.9L142.2 487.4L143.5 486.8L144.8 486.3L146.1 485.7L147.4 485.1L148.7 484.4L150.0 483.7L151.2 483.0L152.5 482.3L153.8 481.5L155.1 480.7L156.4 479.8L157.7 479.0L159.0 478.0L160.2 477.1L161.5 476.1L162.8 475.0L164.1 473.9L165.4 472.7L166.7 471.5L168.0 470.2L169.2 468.9L170.5 467.5L171.8 466.1L173.1 464.7L174.4 463.2L175.7 461.8L177.0 460.5L178.2 459.1L179.5 457.8L180.8 456.5L182.1 455.3L183.4 454.0L184.7 452.8L186.0 451.6L187.2 450.5L188.5 449.3L189.8 448.2L191.1 447.2L192.4 446.1L193.7 445.1L195.0 444.2L196.2 443.3L197.5 442.5L198.8 441.7L200.1 440.9L201.4 440.2L202.7 439.5L204.0 438.8L205.2 438.1L206.5 437.5L207.8 436.9L209.1 436.4L210.4 435.8L211.7 435.4L213.0 435.0L214.3 434.6L215.5 434.3L216.8 434.1L218.1 434.0L219.4 433.9L220.7 433.9L222.0 434.0L223.3 434.2L224.5 434.4L225.8 434.7L227.1 435.0L228.4 435.4L229.7 435.9L231.0 436.4L232.3 436.9L233.5 437.5L234.8 438.2L236.1 438.9L237.4 439.7L238.7 440.7L240.0 441.7L241.3 442.9L242.5 444.2L243.8 445.5L245.1 446.9L246.4 448.3L247.7 449.6L249.0 451.0L250.3 452.2L251.5 453.4L252.8 454.6L254.1 455.7L255.4 456.7L256.7 457.7L258.0 458.7L259.3 459.6L260.5 460.6L261.8 461.5L263.1 462.4L264.4 463.3L265.7 464.2L267.0 465.0L268.3 465.9L269.6 466.8L270.8 467.6L272.1 468.5L273.4 469.4L274.7 470.2L276.0 471.1L277.3 471.9L278.6 472.7L279.8 473.5L281.1 474.4L282.4 475.2L283.7 476.0L285.0 476.8L286.3 477.5L287.6 478.3L288.8 479.1L290.1 479.9L291.4 480.6L292.7 481.4L294.0 482.1L295.3 482.8L296.6 483.6L297.8 484.3L299.1 485.0L300.4 485.7L301.7 486.4L303.0 487.0L304.3 487.7L305.6 488.3L306.8 488.9L308.1 489.6L309.4 490.1L310.7 490.7L312.0 491.3L313.3 491.9L314.6 492.4L315.8 492.9L317.1 493.5L318.4 494.0L319.7 494.5L321.0 495.0L322.3 495.4L323.6 495.9L324.8 496.3L326.1 496.8L327.4 497.2" fill="none" stroke="#f7a0a0" stroke-width="0.7" stroke-dasharray="1.3 1.6"/><path d="M44.5 509.5L45.8 509.0L47.1 508.5L48.4 507.9L49.6 507.4L50.9 506.9L52.2 506.4L53.5 505.9L54.8 505.5L56.1 505.0L57.4 504.5L58.6 504.1L59.9 503.6L61.2 503.2L62.5 502.8L63.8 502.3L65.1 501.9L66.4 501.5L67.6 501.1L68.9 500.8L70.2 500.4L71.5 500.0L72.8 499.7L74.1 499.3L75.4 499.0L76.7 498.6L77.9 498.3L79.2 497.9L80.5 497.6L81.8 497.2L83.1 496.9L84.4 496.6L85.7 496.2L86.9 495.9L88.2 495.6L89.5 495.4L90.8 495.1L92.1 494.9L93.4 494.7L94.7 494.6L95.9 494.5L97.2 494.4L98.5 494.4L99.8 494.4L101.1 494.5L102.4 494.6L103.7 494.8L104.9 495.0L106.2 495.2L107.5 495.5L108.8 495.8L110.1 496.1L111.4 496.4L112.7 496.8L113.9 497.2L115.2 497.6L116.5 498.0L117.8 498.4L119.1 498.8L120.4 499.2L121.7 499.5L122.9 499.7L124.2 499.9L125.5 500.1L126.8 500.1L128.1 500.1L129.4 500.1L130.7 500.0L131.9 499.9L133.2 499.8L134.5 499.6L135.8 499.4L137.1 499.2L138.4 499.0L139.7 498.7L140.9 498.4L142.2 498.1L143.5 497.8L144.8 497.3L146.1 496.9L147.4 496.3L148.7 495.7L150.0 495.0L151.2 494.3L152.5 493.4L153.8 492.6L155.1 491.7L156.4 490.7L157.7 489.8L159.0 488.8L160.2 487.7L161.5 486.7L162.8 485.6L164.1 484.5L165.4 483.4L166.7 482.2L168.0 481.1L169.2 479.8L170.5 478.6L171.8 477.4L173.1 476.1L174.4 474.9L175.7 473.7L177.0 472.5L178.2 471.4L179.5 470.2L180.8 469.2L182.1 468.1L183.4 467.1L184.7 466.1L186.0 465.2L187.2 464.3L188.5 463.4L189.8 462.5L191.1 461.6L192.4 460.8L193.7 460.0L195.0 459.3L196.2 458.6L197.5 457.9L198.8 457.2L200.1 456.6L201.4 456.0L202.7 455.4L204.0 454.8L205.2 454.3L206.5 453.7L207.8 453.2L209.1 452.8L210.4 452.3L211.7 452.0L213.0 451.6L214.3 451.3L215.5 451.1L216.8 450.9L218.1 450.8L219.4 450.7L220.7 450.7L222.0 450.7L223.3 450.7L224.5 450.8L225.8 450.9L227.1 451.0L228.4 451.2L229.7 451.5L231.0 451.8L232.3 452.1L233.5 452.5L234.8 453.0L236.1 453.5L237.4 454.0L238.7 454.6L240.0 455.3L241.3 456.0L242.5 456.8L243.8 457.7L245.1 458.7L246.4 459.8L247.7 460.8L249.0 461.9L250.3 463.0L251.5 464.0L252.8 465.0L254.1 465.9L255.4 466.8L256.7 467.6L258.0 468.4L259.3 469.1L260.5 469.8L261.8 470.6L263.1 471.3L264.4 472.0L265.7 472.7L267.0 473.4L268.3 474.1L269.6 474.8L270.8 475.6L272.1 476.4L273.4 477.1L274.7 477.9L276.0 478.7L277.3 479.4L278.6 480.2L279.8 481.0L281.1 481.7L282.4 482.4L283.7 483.2L285.0 483.9L286.3 484.6L287.6 485.3L288.8 486.0L290.1 486.6L291.4 487.2L292.7 487.9L294.0 488.5L295.3 489.1L296.6 489.7L297.8 490.3L299.1 490.8L300.4 491.4L301.7 492.0L303.0 492.6L304.3 493.1L305.6 493.7L306.8 494.3L308.1 494.8L309.4 495.4L310.7 496.0L312.0 496.5L313.3 497.1L314.6 497.7L315.8 498.2L317.1 498.8L318.4 499.3L319.7 499.9L321.0 500.5L322.3 501.0L323.6 501.6L324.8 502.1L326.1 502.7L327.4 503.2" fill="none" stroke="#f7a0a0" stroke-width="0.7" stroke-dasharray="1.3 1.6"/><path d="M44.5 510.2L45.8 509.5L47.1 508.8L48.4 508.0L49.6 507.3L50.9 506.6L52.2 506.0L53.5 505.3L54.8 504.7L56.1 504.1L57.4 503.4L58.6 502.9L59.9 502.3L61.2 501.7L62.5 501.2L63.8 500.7L65.1 500.2L66.4 499.8L67.6 499.3L68.9 498.9L70.2 498.5L71.5 498.2L72.8 497.9L74.1 497.5L75.4 497.2L76.7 497.0L77.9 496.7L79.2 496.5L80.5 496.3L81.8 496.1L83.1 495.9L84.4 495.7L85.7 495.5L86.9 495.3L88.2 495.2L89.5 495.0L90.8 494.9L92.1 494.7L93.4 494.6L94.7 494.5L95.9 494.4L97.2 494.3L98.5 494.2L99.8 494.1L101.1 494.0L102.4 493.9L103.7 493.9L104.9 493.8L106.2 493.7L107.5 493.7L108.8 493.6L110.1 493.6L111.4 493.5L112.7 493.4L113.9 493.4L115.2 493.3L116.5 493.3L117.8 493.2L119.1 493.1L120.4 493.1L121.7 493.0L122.9 492.9L124.2 492.8L125.5 492.6L126.8 492.5L128.1 492.3L129.4 492.2L130.7 492.0L131.9 491.7L133.2 491.5L134.5 491.3L135.8 491.0L137.1 490.7L138.4 490.5L139.7 490.2L140.9 489.9L142.2 489.6L143.5 489.3L144.8 489.0L146.1 488.7L147.4 488.4L148.7 488.1L150.0 487.8L151.2 487.5L152.5 487.2L153.8 486.8L155.1 486.5L156.4 486.1L157.7 485.7L159.0 485.3L160.2 484.8L161.5 484.3L162.8 483.8L164.1 483.2L165.4 482.6L166.7 482.0L168.0 481.2L169.2 480.5L170.5 479.7L171.8 478.9L173.1 478.1L174.4 477.2L175.7 476.4L177.0 475.5L178.2 474.6L179.5 473.7L180.8 472.9L182.1 472.0L183.4 471.1L184.7 470.2L186.0 469.3L187.2 468.4L188.5 467.5L189.8 466.7L191.1 465.8L192.4 464.9L193.7 464.1L195.0 463.3L196.2 462.5L197.5 461.8L198.8 461.1L200.1 460.4L201.4 459.7L202.7 459.0L204.0 458.4L205.2 457.7L206.5 457.1L207.8 456.5L209.1 456.0L210.4 455.4L211.7 455.0L213.0 454.5L214.3 454.2L215.5 453.9L216.8 453.7L218.1 453.5L219.4 453.5L220.7 453.5L222.0 453.6L223.3 453.8L224.5 454.0L225.8 454.4L227.1 454.7L228.4 455.2L229.7 455.6L231.0 456.1L232.3 456.7L233.5 457.3L234.8 457.9L236.1 458.5L237.4 459.2L238.7 460.0L240.0 460.8L241.3 461.6L242.5 462.5L243.8 463.4L245.1 464.4L246.4 465.4L247.7 466.3L249.0 467.3L250.3 468.2L251.5 469.1L252.8 470.1L254.1 471.0L255.4 471.8L256.7 472.7L258.0 473.6L259.3 474.4L260.5 475.2L261.8 476.1L263.1 476.9L264.4 477.6L265.7 478.4L267.0 479.2L268.3 479.9L269.6 480.6L270.8 481.3L272.1 481.9L273.4 482.6L274.7 483.2L276.0 483.8L277.3 484.4L278.6 485.0L279.8 485.6L281.1 486.1L282.4 486.7L283.7 487.3L285.0 487.8L286.3 488.4L287.6 488.9L288.8 489.5L290.1 490.0L291.4 490.5L292.7 491.1L294.0 491.6L295.3 492.1L296.6 492.7L297.8 493.2L299.1 493.7L300.4 494.2L301.7 494.7L303.0 495.2L304.3 495.7L305.6 496.2L306.8 496.7L308.1 497.2L309.4 497.7L310.7 498.2L312.0 498.7L313.3 499.2L314.6 499.7L315.8 500.2L317.1 500.7L318.4 501.2L319.7 501.7L321.0 502.2L322.3 502.7L323.6 503.1L324.8 503.6L326.1 504.1L327.4 504.6" fill="none" stroke="#f7a0a0" stroke-width="0.7" stroke-dasharray="1.3 1.6"/></g>
<g clip-path="url(#clb)"><path d="M44.5 507.7L45.8 507.2L47.1 506.6L48.4 506.1L49.6 505.6L50.9 505.0L52.2 504.5L53.5 504.0L54.8 503.4L56.1 502.9L57.4 502.4L58.6 501.8L59.9 501.3L61.2 500.8L62.5 500.2L63.8 499.6L65.1 499.0L66.4 498.4L67.6 497.8L68.9 497.2L70.2 496.6L71.5 496.1L72.8 495.7L74.1 495.3L75.4 495.1L76.7 494.9L77.9 494.7L79.2 494.6L80.5 494.5L81.8 494.4L83.1 494.3L84.4 494.2L85.7 494.1L86.9 494.0L88.2 494.0L89.5 493.9L90.8 493.9L92.1 493.9L93.4 493.8L94.7 493.8L95.9 493.8L97.2 493.8L98.5 493.8L99.8 493.8L101.1 493.8L102.4 493.8L103.7 493.9L104.9 493.9L106.2 493.9L107.5 493.9L108.8 493.9L110.1 494.0L111.4 494.0L112.7 494.0L113.9 494.0L115.2 494.0L116.5 494.1L117.8 494.1L119.1 494.1L120.4 494.1L121.7 494.1L122.9 494.1L124.2 494.1L125.5 494.1L126.8 494.0L128.1 493.9L129.4 493.8L130.7 493.6L131.9 493.4L133.2 493.1L134.5 492.8L135.8 492.5L137.1 492.1L138.4 491.7L139.7 491.2L140.9 490.7L142.2 490.2L143.5 489.7L144.8 489.2L146.1 488.7L147.4 488.1L148.7 487.6L150.0 487.0L151.2 486.4L152.5 485.7L153.8 485.1L155.1 484.4L156.4 483.7L157.7 482.9L159.0 482.2L160.2 481.3L161.5 480.4L162.8 479.5L164.1 478.6L165.4 477.6L166.7 476.5L168.0 475.5L169.2 474.4L170.5 473.3L171.8 472.2L173.1 471.1L174.4 469.9L175.7 468.7L177.0 467.4L178.2 466.1L179.5 464.8L180.8 463.5L182.1 462.1L183.4 460.8L184.7 459.6L186.0 458.4L187.2 457.3L188.5 456.3L189.8 455.3L191.1 454.4L192.4 453.5L193.7 452.7L195.0 451.8L196.2 451.0L197.5 450.2L198.8 449.5L200.1 448.8L201.4 448.1L202.7 447.5L204.0 446.9L205.2 446.4L206.5 445.9L207.8 445.5L209.1 445.1L210.4 444.7L211.7 444.3L213.0 443.9L214.3 443.6L215.5 443.4L216.8 443.2L218.1 443.0L219.4 443.0L220.7 443.0L222.0 443.0L223.3 443.0L224.5 443.1L225.8 443.2L227.1 443.4L228.4 443.6L229.7 443.9L231.0 444.4L232.3 445.0L233.5 445.6L234.8 446.4L236.1 447.1L237.4 447.9L238.7 448.7L240.0 449.5L241.3 450.4L242.5 451.3L243.8 452.3L245.1 453.3L246.4 454.4L247.7 455.4L249.0 456.5L250.3 457.6L251.5 458.6L252.8 459.7L254.1 460.9L255.4 462.0L256.7 463.1L258.0 464.2L259.3 465.3L260.5 466.4L261.8 467.4L263.1 468.4L264.4 469.3L265.7 470.3L267.0 471.2L268.3 472.0L269.6 472.9L270.8 473.7L272.1 474.5L273.4 475.3L274.7 476.1L276.0 476.9L277.3 477.7L278.6 478.4L279.8 479.2L281.1 479.9L282.4 480.7L283.7 481.4L285.0 482.1L286.3 482.8L287.6 483.5L288.8 484.2L290.1 484.9L291.4 485.6L292.7 486.2L294.0 486.8L295.3 487.5L296.6 488.1L297.8 488.7L299.1 489.3L300.4 489.9L301.7 490.4L303.0 491.0L304.3 491.6L305.6 492.1L306.8 492.7L308.1 493.2L309.4 493.8L310.7 494.3L312.0 494.8L313.3 495.3L314.6 495.8L315.8 496.3L317.1 496.8L318.4 497.3L319.7 497.8L321.0 498.3L322.3 498.7L323.6 499.1L324.8 499.6L326.1 500.0L327.4 500.4" fill="none" stroke="#f22a2a" stroke-width="1.1"/></g>
<path d="M44.50 284.50H327.50V527.50H44.50Z" fill="none" stroke="#4a4a4a" stroke-width="1"/>
<path d="M44.50 406.10H327.50" fill="none" stroke="#8c8c8c" stroke-width="1.4"/>
<path d="M219.50 289.00V527.50" stroke="#4a4a4a" stroke-width="1.0" stroke-dasharray="4 2.8"/>
<path d="M44.50 527.50V523.30M44.50 403.90V408.30M57.36 527.50V525.30M57.36 404.90V407.30M70.22 527.50V523.30M70.22 403.90V408.30M83.08 527.50V525.30M83.08 404.90V407.30M95.94 527.50V523.30M95.94 403.90V408.30M108.80 527.50V525.30M108.80 404.90V407.30M121.66 527.50V523.30M121.66 403.90V408.30M134.52 527.50V525.30M134.52 404.90V407.30M147.38 527.50V523.30M147.38 403.90V408.30M160.24 527.50V525.30M160.24 404.90V407.30M173.10 527.50V523.30M173.10 403.90V408.30M185.96 527.50V525.30M185.96 404.90V407.30M198.82 527.50V523.30M198.82 403.90V408.30M211.68 527.50V525.30M211.68 404.90V407.30M224.54 527.50V523.30M224.54 403.90V408.30M237.40 527.50V525.30M237.40 404.90V407.30M250.26 527.50V523.30M250.26 403.90V408.30M263.12 527.50V525.30M263.12 404.90V407.30M275.98 527.50V523.30M275.98 403.90V408.30M288.84 527.50V525.30M288.84 404.90V407.30M301.70 527.50V523.30M301.70 403.90V408.30M314.56 527.50V525.30M314.56 404.90V407.30M327.42 527.50V523.30M327.42 403.90V408.30M44.50 403.20H42.00M44.50 388.36H43.20M44.50 373.52H42.00M44.50 358.69H43.20M44.50 343.85H42.00M44.50 329.01H43.20M44.50 314.17H42.00M44.50 299.34H43.20M44.50 284.50H42.00M44.50 527.60H42.00M44.50 510.18H43.20M44.50 492.75H42.00M44.50 475.33H43.20M44.50 457.90H42.00M44.50 440.48H43.20M44.50 423.05H42.00" stroke="#4a4a4a" stroke-width="1"/>
<text x="41.60" y="287.60" text-anchor="end" font-size="10.4" fill="#222" letter-spacing="-0.55">1.00</text>
<text x="41.60" y="317.27" text-anchor="end" font-size="10.4" fill="#222" letter-spacing="-0.55">0.75</text>
<text x="41.60" y="346.95" text-anchor="end" font-size="10.4" fill="#222" letter-spacing="-0.55">0.50</text>
<text x="41.60" y="376.62" text-anchor="end" font-size="10.4" fill="#222" letter-spacing="-0.55">0.25</text>
<text x="41.60" y="406.30" text-anchor="end" font-size="10.4" fill="#222" letter-spacing="-0.55">0.00</text>
<text x="41.60" y="426.15" text-anchor="end" font-size="10.4" fill="#222" letter-spacing="-0.55">0.03</text>
<text x="41.60" y="461.00" text-anchor="end" font-size="10.4" fill="#222" letter-spacing="-0.55">0.02</text>
<text x="41.60" y="495.85" text-anchor="end" font-size="10.4" fill="#222" letter-spacing="-0.55">0.01</text>
<text x="41.60" y="530.70" text-anchor="end" font-size="10.4" fill="#222" letter-spacing="-0.55">0.00</text>
<text x="45.30" y="537.90" text-anchor="middle" font-size="10.4" fill="#222" letter-spacing="-0.45">10</text>
<text x="71.02" y="537.90" text-anchor="middle" font-size="10.4" fill="#222" letter-spacing="-0.45">15</text>
<text x="96.74" y="537.90" text-anchor="middle" font-size="10.4" fill="#222" letter-spacing="-0.45">20</text>
<text x="122.46" y="537.90" text-anchor="middle" font-size="10.4" fill="#222" letter-spacing="-0.45">25</text>
<text x="148.18" y="537.90" text-anchor="middle" font-size="10.4" fill="#222" letter-spacing="-0.45">30</text>
<text x="173.90" y="537.90" text-anchor="middle" font-size="10.4" fill="#222" letter-spacing="-0.45">35</text>
<text x="199.62" y="537.90" text-anchor="middle" font-size="10.4" fill="#222" letter-spacing="-0.45">40</text>
<text x="225.34" y="537.90" text-anchor="middle" font-size="10.4" fill="#222" letter-spacing="-0.45">45</text>
<text x="251.06" y="537.90" text-anchor="middle" font-size="10.4" fill="#222" letter-spacing="-0.45">50</text>
<text x="276.78" y="537.90" text-anchor="middle" font-size="10.4" fill="#222" letter-spacing="-0.45">55</text>
<text x="302.50" y="537.90" text-anchor="middle" font-size="10.4" fill="#222" letter-spacing="-0.45">60</text>
<text x="328.22" y="537.90" text-anchor="middle" font-size="10.4" fill="#222" letter-spacing="-0.45">65</text>
<text x="56.00" y="310.10" font-size="11.4" fill="#111">(b)</text>
<text x="56.00" y="426.30" font-size="11.4" fill="#111">(b’)</text>
<text x="122.60" y="309.50" font-size="11.2" fill="#111">ATP3 + adenosine</text>
<text x="132.60" y="548.80" font-size="10.85" fill="#111">Temperature (°C)</text>
<text transform="translate(9.70 344.10) rotate(-90)" text-anchor="middle" font-size="10.9" fill="#111">Normalized UV 260 nm</text>
<text transform="translate(20.30 344.10) rotate(-90)" text-anchor="middle" font-size="10.9" fill="#111">Absorbance (a.u.)</text>
<text transform="translate(16.20 465.80) rotate(-90)" text-anchor="middle" font-size="10.8" fill="#111">1<tspan font-size="6.8" dy="-3.6">st</tspan><tspan dy="3.6"> Derivative</tspan></text>
<clipPath id="cud"><rect x="378.50" y="284.50" width="283.00" height="121.60"/></clipPath>
<clipPath id="cld"><rect x="378.50" y="406.10" width="283.00" height="121.40"/></clipPath>
<g clip-path="url(#cud)"><path d="M378.5 400.9L379.8 400.0L381.1 399.2L382.4 398.5L383.6 398.0L384.9 397.7L386.2 397.6L387.5 397.5L388.8 397.5L390.1 397.6L391.4 397.8L392.6 397.8L393.9 397.7L395.2 397.5L396.5 397.3L397.8 396.9L399.1 396.6L400.4 396.3L401.6 395.9L402.9 395.6L404.2 395.4L405.5 395.2L406.8 395.0L408.1 394.9L409.4 394.7L410.6 394.6L411.9 394.4L413.2 394.3L414.5 394.1L415.8 393.9L417.1 393.7L418.4 393.4L419.7 393.2L420.9 392.9L422.2 392.7L423.5 392.5L424.8 392.3L426.1 392.1L427.4 391.9L428.7 391.7L429.9 391.5L431.2 391.3L432.5 391.2L433.8 391.0L435.1 390.8L436.4 390.7L437.7 390.5L438.9 390.4L440.2 390.2L441.5 390.1L442.8 389.9L444.1 389.8L445.4 389.7L446.7 389.6L447.9 389.5L449.2 389.3L450.5 389.2L451.8 389.1L453.1 389.0L454.4 388.9L455.7 388.7L456.9 388.6L458.2 388.5L459.5 388.3L460.8 388.2L462.1 388.1L463.4 387.9L464.7 387.8L465.9 387.6L467.2 387.5L468.5 387.4L469.8 387.2L471.1 387.1L472.4 387.0L473.7 386.9L474.9 386.8L476.2 386.6L477.5 386.5L478.8 386.4L480.1 386.3L481.4 386.2L482.7 386.1L484.0 385.9L485.2 385.8L486.5 385.7L487.8 385.6L489.1 385.4L490.4 385.3L491.7 385.2L493.0 385.0L494.2 384.9L495.5 384.7L496.8 384.6L498.1 384.4L499.4 384.2L500.7 384.1L502.0 383.9L503.2 383.8L504.5 383.6L505.8 383.4L507.1 383.2L508.4 383.0L509.7 382.9L511.0 382.7L512.2 382.5L513.5 382.3L514.8 382.1L516.1 381.9L517.4 381.8L518.7 381.6L520.0 381.4L521.2 381.3L522.5 381.1L523.8 381.0L525.1 380.8L526.4 380.7L527.7 380.5L529.0 380.3L530.2 380.1L531.5 379.9L532.8 379.6L534.1 379.4L535.4 379.1L536.7 378.9L538.0 378.6L539.2 378.3L540.5 378.0L541.8 377.7L543.1 377.3L544.4 377.0L545.7 376.7L547.0 376.4L548.3 376.1L549.5 375.7L550.8 375.4L552.1 375.1L553.4 374.7L554.7 374.4L556.0 374.0L557.3 373.6L558.5 373.2L559.8 372.8L561.1 372.4L562.4 371.9L563.7 371.5L565.0 371.0L566.3 370.5L567.5 369.9L568.8 369.4L570.1 368.8L571.4 368.2L572.7 367.6L574.0 367.0L575.3 366.3L576.5 365.7L577.8 365.1L579.1 364.4L580.4 363.8L581.7 363.1L583.0 362.4L584.3 361.8L585.5 361.1L586.8 360.3L588.1 359.6L589.4 358.9L590.7 358.1L592.0 357.4L593.3 356.6L594.5 355.8L595.8 355.0L597.1 354.1L598.4 353.2L599.7 352.3L601.0 351.4L602.3 350.5L603.5 349.5L604.8 348.4L606.1 347.4L607.4 346.3L608.7 345.1L610.0 343.9L611.3 342.7L612.6 341.5L613.8 340.3L615.1 339.2L616.4 338.0L617.7 336.9L619.0 335.7L620.3 334.6L621.6 333.4L622.8 332.3L624.1 331.2L625.4 330.2L626.7 329.2L628.0 328.2L629.3 327.3L630.6 326.3L631.8 325.5L633.1 324.6L634.4 323.7L635.7 322.9L637.0 322.1L638.3 321.2L639.6 320.4L640.8 319.6L642.1 318.8L643.4 318.1L644.7 317.3L646.0 316.5L647.3 315.7L648.6 315.0L649.8 314.2L651.1 313.5L652.4 312.8L653.7 312.1L655.0 311.4L656.3 310.7L657.6 310.0L658.8 309.3L660.1 308.6L661.4 308.0" fill="none" stroke="#dab8f5" stroke-width="0.7" stroke-dasharray="1.3 1.6"/><path d="M378.5 401.8L379.8 401.3L381.1 400.9L382.4 400.7L383.6 400.6L384.9 400.7L386.2 400.9L387.5 401.3L388.8 401.7L390.1 402.0L391.4 402.1L392.6 402.2L393.9 402.1L395.2 401.9L396.5 401.6L397.8 401.2L399.1 400.9L400.4 400.5L401.6 400.2L402.9 399.9L404.2 399.6L405.5 399.4L406.8 399.3L408.1 399.1L409.4 399.0L410.6 398.8L411.9 398.6L413.2 398.5L414.5 398.3L415.8 398.1L417.1 397.8L418.4 397.6L419.7 397.4L420.9 397.1L422.2 396.9L423.5 396.6L424.8 396.4L426.1 396.2L427.4 396.0L428.7 395.8L429.9 395.6L431.2 395.4L432.5 395.3L433.8 395.1L435.1 394.9L436.4 394.8L437.7 394.6L438.9 394.4L440.2 394.3L441.5 394.2L442.8 394.0L444.1 393.9L445.4 393.8L446.7 393.6L447.9 393.5L449.2 393.4L450.5 393.3L451.8 393.2L453.1 393.0L454.4 392.9L455.7 392.8L456.9 392.6L458.2 392.5L459.5 392.4L460.8 392.2L462.1 392.1L463.4 391.9L464.7 391.8L465.9 391.7L467.2 391.5L468.5 391.4L469.8 391.2L471.1 391.1L472.4 391.0L473.7 390.8L474.9 390.7L476.2 390.6L477.5 390.5L478.8 390.4L480.1 390.2L481.4 390.1L482.7 390.0L484.0 389.9L485.2 389.7L486.5 389.6L487.8 389.4L489.1 389.3L490.4 389.1L491.7 389.0L493.0 388.8L494.2 388.7L495.5 388.5L496.8 388.3L498.1 388.2L499.4 388.0L500.7 387.8L502.0 387.6L503.2 387.4L504.5 387.3L505.8 387.1L507.1 386.9L508.4 386.6L509.7 386.4L511.0 386.2L512.2 386.0L513.5 385.8L514.8 385.6L516.1 385.4L517.4 385.2L518.7 385.0L520.0 384.8L521.2 384.6L522.5 384.4L523.8 384.2L525.1 384.0L526.4 383.8L527.7 383.6L529.0 383.3L530.2 383.1L531.5 382.8L532.8 382.5L534.1 382.2L535.4 381.9L536.7 381.6L538.0 381.2L539.2 380.9L540.5 380.5L541.8 380.1L543.1 379.7L544.4 379.4L545.7 379.0L547.0 378.6L548.3 378.2L549.5 377.8L550.8 377.4L552.1 377.0L553.4 376.5L554.7 376.1L556.0 375.7L557.3 375.2L558.5 374.7L559.8 374.2L561.1 373.7L562.4 373.2L563.7 372.7L565.0 372.1L566.3 371.5L567.5 370.9L568.8 370.3L570.1 369.6L571.4 368.9L572.7 368.3L574.0 367.6L575.3 366.9L576.5 366.2L577.8 365.5L579.1 364.8L580.4 364.0L581.7 363.3L583.0 362.6L584.3 361.9L585.5 361.1L586.8 360.4L588.1 359.6L589.4 358.8L590.7 358.0L592.0 357.2L593.3 356.4L594.5 355.5L595.8 354.7L597.1 353.8L598.4 352.9L599.7 351.9L601.0 351.0L602.3 350.0L603.5 349.0L604.8 347.9L606.1 346.8L607.4 345.7L608.7 344.5L610.0 343.3L611.3 342.1L612.6 340.9L613.8 339.7L615.1 338.5L616.4 337.3L617.7 336.1L619.0 335.0L620.3 333.8L621.6 332.7L622.8 331.5L624.1 330.4L625.4 329.4L626.7 328.4L628.0 327.4L629.3 326.4L630.6 325.5L631.8 324.6L633.1 323.7L634.4 322.8L635.7 322.0L637.0 321.2L638.3 320.3L639.6 319.5L640.8 318.7L642.1 317.9L643.4 317.1L644.7 316.4L646.0 315.6L647.3 314.8L648.6 314.1L649.8 313.3L651.1 312.6L652.4 311.8L653.7 311.1L655.0 310.4L656.3 309.7L657.6 309.0L658.8 308.3L660.1 307.7L661.4 307.0" fill="none" stroke="#dab8f5" stroke-width="0.7" stroke-dasharray="1.3 1.6"/><path d="M378.5 403.2L379.8 402.7L381.1 402.3L382.4 402.1L383.6 402.0L384.9 402.1L386.2 402.4L387.5 402.7L388.8 403.1L390.1 403.5L391.4 403.6L392.6 403.7L393.9 403.6L395.2 403.4L396.5 403.1L397.8 402.8L399.1 402.5L400.4 402.1L401.6 401.8L402.9 401.5L404.2 401.3L405.5 401.1L406.8 401.0L408.1 400.8L409.4 400.7L410.6 400.5L411.9 400.4L413.2 400.2L414.5 400.1L415.8 399.9L417.1 399.7L418.4 399.4L419.7 399.2L420.9 399.0L422.2 398.8L423.5 398.5L424.8 398.3L426.1 398.1L427.4 398.0L428.7 397.8L429.9 397.6L431.2 397.4L432.5 397.3L433.8 397.1L435.1 396.9L436.4 396.8L437.7 396.6L438.9 396.5L440.2 396.3L441.5 396.2L442.8 396.0L444.1 395.9L445.4 395.8L446.7 395.7L447.9 395.6L449.2 395.5L450.5 395.3L451.8 395.2L453.1 395.1L454.4 395.0L455.7 394.9L456.9 394.7L458.2 394.6L459.5 394.5L460.8 394.3L462.1 394.2L463.4 394.0L464.7 393.9L465.9 393.8L467.2 393.6L468.5 393.5L469.8 393.4L471.1 393.2L472.4 393.1L473.7 393.0L474.9 392.9L476.2 392.7L477.5 392.6L478.8 392.5L480.1 392.4L481.4 392.3L482.7 392.1L484.0 392.0L485.2 391.9L486.5 391.8L487.8 391.6L489.1 391.5L490.4 391.3L491.7 391.2L493.0 391.0L494.2 390.9L495.5 390.7L496.8 390.6L498.1 390.4L499.4 390.2L500.7 390.0L502.0 389.9L503.2 389.7L504.5 389.5L505.8 389.3L507.1 389.1L508.4 388.9L509.7 388.7L511.0 388.5L512.2 388.3L513.5 388.0L514.8 387.8L516.1 387.6L517.4 387.4L518.7 387.2L520.0 387.0L521.2 386.8L522.5 386.6L523.8 386.4L525.1 386.2L526.4 386.0L527.7 385.8L529.0 385.6L530.2 385.3L531.5 385.1L532.8 384.8L534.1 384.5L535.4 384.2L536.7 383.8L538.0 383.5L539.2 383.1L540.5 382.7L541.8 382.4L543.1 382.0L544.4 381.6L545.7 381.2L547.0 380.8L548.3 380.4L549.5 380.0L550.8 379.6L552.1 379.2L553.4 378.8L554.7 378.3L556.0 377.9L557.3 377.4L558.5 377.0L559.8 376.5L561.1 376.0L562.4 375.5L563.7 374.9L565.0 374.4L566.3 373.8L567.5 373.1L568.8 372.5L570.1 371.9L571.4 371.2L572.7 370.5L574.0 369.8L575.3 369.1L576.5 368.4L577.8 367.7L579.1 367.0L580.4 366.3L581.7 365.6L583.0 364.9L584.3 364.1L585.5 363.4L586.8 362.6L588.1 361.8L589.4 361.1L590.7 360.3L592.0 359.4L593.3 358.6L594.5 357.8L595.8 356.9L597.1 356.0L598.4 355.1L599.7 354.2L601.0 353.2L602.3 352.2L603.5 351.2L604.8 350.2L606.1 349.1L607.4 347.9L608.7 346.7L610.0 345.5L611.3 344.3L612.6 343.1L613.8 341.9L615.1 340.7L616.4 339.5L617.7 338.4L619.0 337.2L620.3 336.0L621.6 334.9L622.8 333.8L624.1 332.7L625.4 331.6L626.7 330.6L628.0 329.6L629.3 328.7L630.6 327.7L631.8 326.8L633.1 326.0L634.4 325.1L635.7 324.2L637.0 323.4L638.3 322.6L639.6 321.8L640.8 321.0L642.1 320.2L643.4 319.4L644.7 318.6L646.0 317.8L647.3 317.1L648.6 316.3L649.8 315.6L651.1 314.8L652.4 314.1L653.7 313.4L655.0 312.7L656.3 312.0L657.6 311.3L658.8 310.6L660.1 309.9L661.4 309.3" fill="none" stroke="#dab8f5" stroke-width="0.7" stroke-dasharray="1.3 1.6"/></g>
<g clip-path="url(#cud)">
<path d="M378.5 402.4L379.8 401.9L381.1 401.5L382.4 401.3L383.6 401.2L384.9 401.3L386.2 401.6L387.5 401.9L388.8 402.3L390.1 402.6L391.4 402.8L392.6 402.8L393.9 402.7L395.2 402.5L396.5 402.3L397.8 401.9L399.1 401.6L400.4 401.2L401.6 400.9L402.9 400.6L404.2 400.4L405.5 400.2L406.8 400.0L408.1 399.9L409.4 399.7L410.6 399.6L411.9 399.4L413.2 399.3L414.5 399.1L415.8 398.9L417.1 398.7L418.4 398.4L419.7 398.2L420.9 397.9L422.2 397.7L423.5 397.5L424.8 397.3L426.1 397.1L427.4 396.9L428.7 396.7L429.9 396.5L431.2 396.3L432.5 396.1L433.8 396.0L435.1 395.8L436.4 395.6L437.7 395.5L438.9 395.3L440.2 395.2L441.5 395.1L442.8 394.9L444.1 394.8L445.4 394.7L446.7 394.5L447.9 394.4L449.2 394.3L450.5 394.2L451.8 394.1L453.1 394.0L454.4 393.8L455.7 393.7L456.9 393.6L458.2 393.4L459.5 393.3L460.8 393.2L462.1 393.0L463.4 392.9L464.7 392.7L465.9 392.6L467.2 392.5L468.5 392.3L469.8 392.2L471.1 392.0L472.4 391.9L473.7 391.8L474.9 391.7L476.2 391.5L477.5 391.4L478.8 391.3L480.1 391.2L481.4 391.1L482.7 390.9L484.0 390.8L485.2 390.7L486.5 390.6L487.8 390.4L489.1 390.3L490.4 390.1L491.7 390.0L493.0 389.8L494.2 389.6L495.5 389.5L496.8 389.3L498.1 389.2L499.4 389.0L500.7 388.8L502.0 388.6L503.2 388.4L504.5 388.3L505.8 388.1L507.1 387.9L508.4 387.6L509.7 387.4L511.0 387.2L512.2 387.0L513.5 386.8L514.8 386.6L516.1 386.4L517.4 386.2L518.7 386.0L520.0 385.8L521.2 385.6L522.5 385.4L523.8 385.2L525.1 385.0L526.4 384.8L527.7 384.6L529.0 384.3L530.2 384.1L531.5 383.8L532.8 383.5L534.1 383.2L535.4 382.9L536.7 382.6L538.0 382.2L539.2 381.9L540.5 381.5L541.8 381.1L543.1 380.7L544.4 380.4L545.7 380.0L547.0 379.6L548.3 379.2L549.5 378.8L550.8 378.4L552.1 378.0L553.4 377.5L554.7 377.1L556.0 376.7L557.3 376.2L558.5 375.7L559.8 375.2L561.1 374.7L562.4 374.2L563.7 373.7L565.0 373.1L566.3 372.5L567.5 371.9L568.8 371.3L570.1 370.6L571.4 369.9L572.7 369.3L574.0 368.6L575.3 367.9L576.5 367.2L577.8 366.5L579.1 365.8L580.4 365.0L581.7 364.3L583.0 363.6L584.3 362.9L585.5 362.1L586.8 361.4L588.1 360.6L589.4 359.8L590.7 359.0L592.0 358.2L593.3 357.4L594.5 356.5L595.8 355.7L597.1 354.8L598.4 353.9L599.7 352.9L601.0 352.0L602.3 351.0L603.5 350.0L604.8 348.9L606.1 347.8L607.4 346.7L608.7 345.5L610.0 344.3L611.3 343.1L612.6 341.9L613.8 340.7L615.1 339.5L616.4 338.3L617.7 337.1L619.0 336.0L620.3 334.8L621.6 333.7L622.8 332.5L624.1 331.4L625.4 330.4L626.7 329.4L628.0 328.4L629.3 327.4L630.6 326.5L631.8 325.6L633.1 324.7L634.4 323.8L635.7 323.0L637.0 322.2L638.3 321.3L639.6 320.5L640.8 319.7L642.1 318.9L643.4 318.1L644.7 317.4L646.0 316.6L647.3 315.8L648.6 315.1L649.8 314.3L651.1 313.6L652.4 312.8L653.7 312.1L655.0 311.4L656.3 310.7L657.6 310.0L658.8 309.3L660.1 308.7L661.4 308.0" fill="none" stroke="#66268a" stroke-width="1.1"/>
<path d="M378.5 400.9V403.9M376.5 400.9H380.5M376.5 403.9H380.5M383.6 399.6V402.8M381.6 399.6H385.6M381.6 402.8H385.6M388.8 400.7V404.0M386.8 400.7H390.8M386.8 404.0H390.8M393.9 401.0V404.5M391.9 401.0H395.9M391.9 404.5H395.9M399.1 399.8V403.4M397.1 399.8H401.1M397.1 403.4H401.1M404.2 398.5V402.2M402.2 398.5H406.2M402.2 402.2H406.2M409.4 397.8V401.6M407.4 397.8H411.4M407.4 401.6H411.4M414.5 397.1V401.1M412.5 397.1H416.5M412.5 401.1H416.5M419.7 396.1V400.2M417.7 396.1H421.7M417.7 400.2H421.7M424.8 395.1V399.4M422.8 395.1H426.8M422.8 399.4H426.8M429.9 394.3V398.7M427.9 394.3H431.9M427.9 398.7H431.9M435.1 393.6V398.0M433.1 393.6H437.1M433.1 398.0H437.1M440.2 393.0V397.4M438.2 393.0H442.2M438.2 397.4H442.2M445.4 392.4V396.9M443.4 392.4H447.4M443.4 396.9H447.4M450.5 391.9V396.5M448.5 391.9H452.5M448.5 396.5H452.5M455.7 391.4V396.0M453.7 391.4H457.7M453.7 396.0H457.7M460.8 390.8V395.5M458.8 390.8H462.8M458.8 395.5H462.8M465.9 390.3V394.9M463.9 390.3H467.9M463.9 394.9H467.9M471.1 389.7V394.4M469.1 389.7H473.1M469.1 394.4H473.1M476.2 389.2V393.9M474.2 389.2H478.2M474.2 393.9H478.2M481.4 388.7V393.5M479.4 388.7H483.4M479.4 393.5H483.4M486.5 388.1V393.0M484.5 388.1H488.5M484.5 393.0H488.5M491.7 387.5V392.4M489.7 387.5H493.7M489.7 392.4H493.7M496.8 386.9V391.8M494.8 386.9H498.8M494.8 391.8H498.8M502.0 386.1V391.1M500.0 386.1H504.0M500.0 391.1H504.0M507.1 385.4V390.4M505.1 385.4H509.1M505.1 390.4H509.1M512.2 384.5V389.5M510.2 384.5H514.2M510.2 389.5H514.2M517.4 383.7V388.7M515.4 383.7H519.4M515.4 388.7H519.4M522.5 382.9V387.9M520.5 382.9H524.5M520.5 387.9H524.5M527.7 382.1V387.1M525.7 382.1H529.7M525.7 387.1H529.7M532.8 381.0V386.0M530.8 381.0H534.8M530.8 386.0H534.8M538.0 379.7V384.7M536.0 379.7H540.0M536.0 384.7H540.0M543.1 378.2V383.2M541.1 378.2H545.1M541.1 383.2H545.1M548.3 376.7V381.7M546.3 376.7H550.3M546.3 381.7H550.3M553.4 375.0V380.0M551.4 375.0H555.4M551.4 380.0H555.4M558.5 373.2V378.2M556.5 373.2H560.5M556.5 378.2H560.5M563.7 371.2V376.2M561.7 371.2H565.7M561.7 376.2H565.7M568.8 368.8V373.8M566.8 368.8H570.8M566.8 373.8H570.8M574.0 366.1V371.1M572.0 366.1H576.0M572.0 371.1H576.0M579.1 363.3V368.3M577.1 363.3H581.1M577.1 368.3H581.1M584.3 360.4V365.4M582.3 360.4H586.3M582.3 365.4H586.3M589.4 357.3V362.3M587.4 357.3H591.4M587.4 362.3H591.4M594.5 354.0V359.0M592.5 354.0H596.5M592.5 359.0H596.5M599.7 350.4V355.4M597.7 350.4H601.7M597.7 355.4H601.7M604.8 346.4V351.4M602.8 346.4H606.8M602.8 351.4H606.8M610.0 341.8V346.8M608.0 341.8H612.0M608.0 346.8H612.0M615.1 337.0V342.0M613.1 337.0H617.1M613.1 342.0H617.1M620.3 332.3V337.3M618.3 332.3H622.3M618.3 337.3H622.3M625.4 327.9V332.9M623.4 327.9H627.4M623.4 332.9H627.4M630.6 324.0V329.0M628.6 324.0H632.6M628.6 329.0H632.6M635.7 320.5V325.5M633.7 320.5H637.7M633.7 325.5H637.7M640.8 317.2V322.2M638.8 317.2H642.8M638.8 322.2H642.8M646.0 314.1V319.1M644.0 314.1H648.0M644.0 319.1H648.0M651.1 311.1V316.1M649.1 311.1H653.1M649.1 316.1H653.1M656.3 308.2V313.2M654.3 308.2H658.3M654.3 313.2H658.3M661.4 305.5V310.5M659.4 305.5H663.4M659.4 310.5H663.4" fill="none" stroke="#6e3390" stroke-width="0.9"/>
</g>
<g clip-path="url(#cld)"><path d="M378.5 485.7L379.8 484.3L381.1 483.0L382.4 481.8L383.6 480.8L384.9 479.9L386.2 479.2L387.5 478.6L388.8 478.2L390.1 477.9L391.4 477.9L392.6 478.0L393.9 478.3L395.2 478.7L396.5 479.3L397.8 480.0L399.1 480.7L400.4 481.5L401.6 482.3L402.9 483.0L404.2 483.7L405.5 484.3L406.8 484.9L408.1 485.5L409.4 486.1L410.6 486.7L411.9 487.3L413.2 487.9L414.5 488.6L415.8 489.3L417.1 490.0L418.4 490.8L419.7 491.6L420.9 492.4L422.2 493.3L423.5 494.2L424.8 495.1L426.1 496.0L427.4 496.9L428.7 497.9L429.9 498.9L431.2 499.9L432.5 501.0L433.8 502.3L435.1 503.6L436.4 505.0L437.7 506.5L438.9 508.0L440.2 509.5L441.5 510.8L442.8 511.9L444.1 512.9L445.4 513.5L446.7 514.0L447.9 514.3L449.2 514.5L450.5 514.7L451.8 514.9L453.1 515.0L454.4 515.2L455.7 515.3L456.9 515.3L458.2 515.4L459.5 515.4L460.8 515.4L462.1 515.4L463.4 515.4L464.7 515.3L465.9 515.3L467.2 515.3L468.5 515.2L469.8 515.2L471.1 515.2L472.4 515.1L473.7 515.1L474.9 515.0L476.2 514.9L477.5 514.9L478.8 514.8L480.1 514.7L481.4 514.5L482.7 514.4L484.0 514.2L485.2 514.0L486.5 513.7L487.8 513.5L489.1 513.2L490.4 512.9L491.7 512.6L493.0 512.3L494.2 512.0L495.5 511.7L496.8 511.3L498.1 511.0L499.4 510.6L500.7 510.2L502.0 509.7L503.2 509.2L504.5 508.7L505.8 508.2L507.1 507.7L508.4 507.1L509.7 506.5L511.0 505.9L512.2 505.3L513.5 504.7L514.8 504.0L516.1 503.4L517.4 502.7L518.7 502.0L520.0 501.3L521.2 500.6L522.5 499.9L523.8 499.1L525.1 498.3L526.4 497.5L527.7 496.7L529.0 495.8L530.2 494.9L531.5 494.0L532.8 493.1L534.1 492.2L535.4 491.2L536.7 490.2L538.0 489.2L539.2 488.2L540.5 487.1L541.8 485.9L543.1 484.7L544.4 483.5L545.7 482.2L547.0 480.9L548.3 479.6L549.5 478.2L550.8 476.9L552.1 475.5L553.4 474.0L554.7 472.6L556.0 471.1L557.3 469.7L558.5 468.2L559.8 466.7L561.1 465.3L562.4 463.7L563.7 462.2L565.0 460.6L566.3 459.0L567.5 457.3L568.8 455.7L570.1 454.0L571.4 452.3L572.7 450.5L574.0 448.8L575.3 447.1L576.5 445.4L577.8 443.7L579.1 442.0L580.4 440.3L581.7 438.7L583.0 437.0L584.3 435.4L585.5 433.8L586.8 432.2L588.1 430.5L589.4 428.8L590.7 427.1L592.0 425.4L593.3 423.8L594.5 422.3L595.8 421.0L597.1 419.8L598.4 418.8L599.7 417.9L601.0 417.2L602.3 416.5L603.5 415.9L604.8 415.3L606.1 414.7L607.4 414.2L608.7 413.8L610.0 413.5L611.3 413.2L612.6 413.1L613.8 413.1L615.1 413.2L616.4 413.4L617.7 413.7L619.0 414.2L620.3 414.8L621.6 415.4L622.8 416.1L624.1 416.8L625.4 417.6L626.7 418.4L628.0 419.3L629.3 420.2L630.6 421.4L631.8 422.7L633.1 424.1L634.4 425.7L635.7 427.3L637.0 429.1L638.3 430.9L639.6 432.7L640.8 434.5L642.1 436.4L643.4 438.1L644.7 439.8L646.0 441.5L647.3 443.1L648.6 444.8L649.8 446.4L651.1 448.0L652.4 449.7L653.7 451.3L655.0 452.9L656.3 454.6L657.6 456.2L658.8 457.9L660.1 459.5L661.4 461.2" fill="none" stroke="#dab8f5" stroke-width="0.7" stroke-dasharray="1.3 1.6"/><path d="M378.5 492.4L379.8 492.4L381.1 492.5L382.4 492.6L383.6 492.7L384.9 492.8L386.2 492.9L387.5 493.1L388.8 493.2L390.1 493.3L391.4 493.5L392.6 493.7L393.9 493.8L395.2 494.0L396.5 494.2L397.8 494.3L399.1 494.5L400.4 494.7L401.6 494.9L402.9 495.1L404.2 495.3L405.5 495.5L406.8 495.7L408.1 496.0L409.4 496.2L410.6 496.4L411.9 496.6L413.2 496.8L414.5 497.1L415.8 497.3L417.1 497.6L418.4 497.9L419.7 498.2L420.9 498.5L422.2 498.8L423.5 499.2L424.8 499.6L426.1 500.0L427.4 500.5L428.7 501.1L429.9 501.8L431.2 502.6L432.5 503.5L433.8 504.5L435.1 505.5L436.4 506.5L437.7 507.5L438.9 508.5L440.2 509.5L441.5 510.4L442.8 511.1L444.1 511.8L445.4 512.3L446.7 512.7L447.9 513.0L449.2 513.3L450.5 513.6L451.8 513.8L453.1 514.0L454.4 514.2L455.7 514.4L456.9 514.5L458.2 514.5L459.5 514.6L460.8 514.6L462.1 514.6L463.4 514.6L464.7 514.6L465.9 514.6L467.2 514.5L468.5 514.5L469.8 514.5L471.1 514.5L472.4 514.4L473.7 514.4L474.9 514.4L476.2 514.4L477.5 514.3L478.8 514.3L480.1 514.2L481.4 514.1L482.7 514.0L484.0 513.8L485.2 513.7L486.5 513.5L487.8 513.3L489.1 513.1L490.4 512.9L491.7 512.7L493.0 512.5L494.2 512.3L495.5 512.1L496.8 511.9L498.1 511.7L499.4 511.5L500.7 511.3L502.0 511.1L503.2 510.8L504.5 510.6L505.8 510.4L507.1 510.1L508.4 509.9L509.7 509.6L511.0 509.3L512.2 509.0L513.5 508.7L514.8 508.3L516.1 508.0L517.4 507.6L518.7 507.2L520.0 506.7L521.2 506.3L522.5 505.8L523.8 505.3L525.1 504.8L526.4 504.2L527.7 503.7L529.0 503.1L530.2 502.6L531.5 502.0L532.8 501.4L534.1 500.8L535.4 500.1L536.7 499.5L538.0 498.9L539.2 498.2L540.5 497.6L541.8 496.9L543.1 496.2L544.4 495.4L545.7 494.7L547.0 493.9L548.3 493.1L549.5 492.3L550.8 491.5L552.1 490.6L553.4 489.8L554.7 488.9L556.0 488.0L557.3 487.1L558.5 486.1L559.8 485.2L561.1 484.2L562.4 483.2L563.7 482.2L565.0 481.1L566.3 479.9L567.5 478.8L568.8 477.6L570.1 476.3L571.4 475.1L572.7 473.8L574.0 472.6L575.3 471.3L576.5 470.0L577.8 468.7L579.1 467.5L580.4 466.2L581.7 465.0L583.0 463.8L584.3 462.5L585.5 461.3L586.8 460.1L588.1 458.8L589.4 457.5L590.7 456.2L592.0 454.9L593.3 453.7L594.5 452.6L595.8 451.5L597.1 450.6L598.4 449.8L599.7 449.1L601.0 448.5L602.3 447.9L603.5 447.4L604.8 446.9L606.1 446.4L607.4 446.0L608.7 445.7L610.0 445.4L611.3 445.2L612.6 445.0L613.8 445.0L615.1 445.1L616.4 445.2L617.7 445.5L619.0 445.8L620.3 446.1L621.6 446.5L622.8 447.0L624.1 447.5L625.4 448.0L626.7 448.5L628.0 449.0L629.3 449.7L630.6 450.3L631.8 451.1L633.1 452.0L634.4 452.9L635.7 453.9L637.0 455.0L638.3 456.1L639.6 457.2L640.8 458.4L642.1 459.5L643.4 460.7L644.7 461.9L646.0 463.0L647.3 464.2L648.6 465.4L649.8 466.6L651.1 467.9L652.4 469.2L653.7 470.5L655.0 471.8L656.3 473.2L657.6 474.5L658.8 476.0L660.1 477.4L661.4 478.8" fill="none" stroke="#dab8f5" stroke-width="0.7" stroke-dasharray="1.3 1.6"/><path d="M378.5 502.4L379.8 502.5L381.1 502.6L382.4 502.7L383.6 502.9L384.9 503.0L386.2 503.1L387.5 503.3L388.8 503.5L390.1 503.7L391.4 503.9L392.6 504.0L393.9 504.3L395.2 504.5L396.5 504.7L397.8 504.9L399.1 505.2L400.4 505.4L401.6 505.6L402.9 505.9L404.2 506.2L405.5 506.4L406.8 506.7L408.1 506.9L409.4 507.2L410.6 507.5L411.9 507.8L413.2 508.1L414.5 508.5L415.8 508.8L417.1 509.2L418.4 509.6L419.7 510.1L420.9 510.5L422.2 510.9L423.5 511.4L424.8 511.8L426.1 512.3L427.4 512.7L428.7 513.1L429.9 513.5L431.2 513.8L432.5 514.2L433.8 514.6L435.1 514.9L436.4 515.3L437.7 515.7L438.9 516.1L440.2 516.4L441.5 516.7L442.8 516.9L444.1 517.1L445.4 517.2L446.7 517.3L447.9 517.3L449.2 517.3L450.5 517.3L451.8 517.3L453.1 517.3L454.4 517.3L455.7 517.3L456.9 517.2L458.2 517.2L459.5 517.2L460.8 517.2L462.1 517.2L463.4 517.1L464.7 517.1L465.9 517.1L467.2 517.1L468.5 517.0L469.8 517.0L471.1 517.0L472.4 516.9L473.7 516.9L474.9 516.8L476.2 516.8L477.5 516.8L478.8 516.7L480.1 516.6L481.4 516.5L482.7 516.3L484.0 516.1L485.2 515.9L486.5 515.6L487.8 515.4L489.1 515.1L490.4 514.8L491.7 514.6L493.0 514.3L494.2 514.0L495.5 513.8L496.8 513.5L498.1 513.3L499.4 513.0L500.7 512.8L502.0 512.5L503.2 512.3L504.5 512.1L505.8 511.8L507.1 511.5L508.4 511.3L509.7 511.0L511.0 510.7L512.2 510.4L513.5 510.0L514.8 509.7L516.1 509.3L517.4 509.0L518.7 508.6L520.0 508.1L521.2 507.7L522.5 507.3L523.8 506.8L525.1 506.3L526.4 505.8L527.7 505.3L529.0 504.8L530.2 504.3L531.5 503.7L532.8 503.2L534.1 502.6L535.4 502.0L536.7 501.4L538.0 500.8L539.2 500.1L540.5 499.4L541.8 498.7L543.1 498.0L544.4 497.2L545.7 496.4L547.0 495.6L548.3 494.8L549.5 493.9L550.8 493.1L552.1 492.2L553.4 491.3L554.7 490.3L556.0 489.4L557.3 488.5L558.5 487.5L559.8 486.6L561.1 485.6L562.4 484.6L563.7 483.6L565.0 482.5L566.3 481.5L567.5 480.4L568.8 479.2L570.1 478.1L571.4 477.0L572.7 475.8L574.0 474.6L575.3 473.4L576.5 472.3L577.8 471.1L579.1 469.9L580.4 468.7L581.7 467.6L583.0 466.4L584.3 465.2L585.5 464.1L586.8 462.8L588.1 461.5L589.4 460.2L590.7 458.9L592.0 457.7L593.3 456.4L594.5 455.3L595.8 454.2L597.1 453.3L598.4 452.5L599.7 451.8L601.0 451.2L602.3 450.6L603.5 450.1L604.8 449.6L606.1 449.1L607.4 448.7L608.7 448.4L610.0 448.1L611.3 447.9L612.6 447.8L613.8 447.7L615.1 447.8L616.4 447.9L617.7 448.2L619.0 448.5L620.3 448.8L621.6 449.2L622.8 449.7L624.1 450.2L625.4 450.7L626.7 451.2L628.0 451.8L629.3 452.4L630.6 453.1L631.8 454.0L633.1 454.9L634.4 456.0L635.7 457.1L637.0 458.3L638.3 459.5L639.6 460.7L640.8 462.0L642.1 463.3L643.4 464.6L644.7 465.9L646.0 467.1L647.3 468.4L648.6 469.7L649.8 471.0L651.1 472.4L652.4 473.8L653.7 475.2L655.0 476.7L656.3 478.1L657.6 479.6L658.8 481.1L660.1 482.7L661.4 484.3" fill="none" stroke="#dab8f5" stroke-width="0.7" stroke-dasharray="1.3 1.6"/><path d="M378.5 520.6L379.8 520.2L381.1 519.9L382.4 519.6L383.6 519.3L384.9 519.0L386.2 518.7L387.5 518.4L388.8 518.1L390.1 517.8L391.4 517.6L392.6 517.3L393.9 517.1L395.2 516.8L396.5 516.6L397.8 516.4L399.1 516.2L400.4 516.0L401.6 515.8L402.9 515.6L404.2 515.5L405.5 515.3L406.8 515.2L408.1 515.1L409.4 515.0L410.6 514.9L411.9 514.8L413.2 514.7L414.5 514.7L415.8 514.6L417.1 514.5L418.4 514.4L419.7 514.4L420.9 514.3L422.2 514.3L423.5 514.2L424.8 514.2L426.1 514.1L427.4 514.1L428.7 514.1L429.9 514.1L431.2 514.1L432.5 514.1L433.8 514.1L435.1 514.1L436.4 514.1L437.7 514.1L438.9 514.1L440.2 514.2L441.5 514.2L442.8 514.2L444.1 514.3L445.4 514.3L446.7 514.4L447.9 514.4L449.2 514.4L450.5 514.5L451.8 514.5L453.1 514.5L454.4 514.5L455.7 514.6L456.9 514.6L458.2 514.6L459.5 514.6L460.8 514.6L462.1 514.5L463.4 514.5L464.7 514.4L465.9 514.4L467.2 514.3L468.5 514.2L469.8 514.1L471.1 514.0L472.4 513.9L473.7 513.8L474.9 513.7L476.2 513.6L477.5 513.5L478.8 513.4L480.1 513.3L481.4 513.2L482.7 513.1L484.0 512.9L485.2 512.8L486.5 512.7L487.8 512.5L489.1 512.4L490.4 512.2L491.7 512.0L493.0 511.9L494.2 511.7L495.5 511.5L496.8 511.3L498.1 511.1L499.4 511.0L500.7 510.8L502.0 510.5L503.2 510.3L504.5 510.1L505.8 509.9L507.1 509.6L508.4 509.3L509.7 509.1L511.0 508.8L512.2 508.5L513.5 508.1L514.8 507.8L516.1 507.4L517.4 507.0L518.7 506.6L520.0 506.1L521.2 505.6L522.5 505.1L523.8 504.5L525.1 504.0L526.4 503.4L527.7 502.8L529.0 502.2L530.2 501.5L531.5 500.9L532.8 500.2L534.1 499.6L535.4 498.9L536.7 498.2L538.0 497.5L539.2 496.8L540.5 496.1L541.8 495.3L543.1 494.5L544.4 493.8L545.7 492.9L547.0 492.1L548.3 491.3L549.5 490.4L550.8 489.5L552.1 488.6L553.4 487.6L554.7 486.6L556.0 485.7L557.3 484.7L558.5 483.6L559.8 482.6L561.1 481.5L562.4 480.4L563.7 479.2L565.0 477.9L566.3 476.6L567.5 475.3L568.8 473.9L570.1 472.5L571.4 471.1L572.7 469.6L574.0 468.1L575.3 466.6L576.5 465.1L577.8 463.7L579.1 462.2L580.4 460.8L581.7 459.3L583.0 458.0L584.3 456.6L585.5 455.2L586.8 453.8L588.1 452.4L589.4 451.0L590.7 449.6L592.0 448.2L593.3 446.9L594.5 445.6L595.8 444.4L597.1 443.3L598.4 442.3L599.7 441.5L601.0 440.7L602.3 439.9L603.5 439.1L604.8 438.4L606.1 437.7L607.4 437.1L608.7 436.6L610.0 436.1L611.3 435.8L612.6 435.6L613.8 435.6L615.1 435.7L616.4 435.9L617.7 436.3L619.0 436.7L620.3 437.3L621.6 437.9L622.8 438.6L624.1 439.3L625.4 440.0L626.7 440.7L628.0 441.4L629.3 442.2L630.6 443.0L631.8 443.9L633.1 444.9L634.4 445.9L635.7 447.0L637.0 448.0L638.3 449.2L639.6 450.3L640.8 451.5L642.1 452.7L643.4 453.9L644.7 455.1L646.0 456.3L647.3 457.5L648.6 458.7L649.8 459.9L651.1 461.2L652.4 462.5L653.7 463.8L655.0 465.1L656.3 466.5L657.6 467.8L658.8 469.2L660.1 470.6L661.4 472.1" fill="none" stroke="#dab8f5" stroke-width="0.7" stroke-dasharray="1.3 1.6"/><path d="M378.5 519.5L379.8 519.2L381.1 518.9L382.4 518.6L383.6 518.3L384.9 518.1L386.2 517.8L387.5 517.5L388.8 517.3L390.1 517.0L391.4 516.8L392.6 516.6L393.9 516.3L395.2 516.1L396.5 515.9L397.8 515.7L399.1 515.5L400.4 515.4L401.6 515.2L402.9 515.0L404.2 514.9L405.5 514.8L406.8 514.6L408.1 514.5L409.4 514.4L410.6 514.3L411.9 514.3L413.2 514.2L414.5 514.1L415.8 514.0L417.1 514.0L418.4 513.9L419.7 513.8L420.9 513.8L422.2 513.7L423.5 513.7L424.8 513.6L426.1 513.6L427.4 513.6L428.7 513.5L429.9 513.5L431.2 513.5L432.5 513.5L433.8 513.5L435.1 513.5L436.4 513.5L437.7 513.6L438.9 513.6L440.2 513.6L441.5 513.7L442.8 513.7L444.1 513.7L445.4 513.8L446.7 513.8L447.9 513.8L449.2 513.9L450.5 513.9L451.8 513.9L453.1 514.0L454.4 514.0L455.7 514.0L456.9 514.0L458.2 514.0L459.5 514.0L460.8 514.0L462.1 514.0L463.4 514.0L464.7 513.9L465.9 513.9L467.2 513.8L468.5 513.8L469.8 513.7L471.1 513.6L472.4 513.6L473.7 513.5L474.9 513.4L476.2 513.3L477.5 513.3L478.8 513.2L480.1 513.1L481.4 513.0L482.7 513.0L484.0 512.9L485.2 512.8L486.5 512.7L487.8 512.6L489.1 512.5L490.4 512.4L491.7 512.3L493.0 512.2L494.2 512.1L495.5 512.0L496.8 511.9L498.1 511.7L499.4 511.6L500.7 511.4L502.0 511.3L503.2 511.1L504.5 510.9L505.8 510.7L507.1 510.5L508.4 510.2L509.7 510.0L511.0 509.8L512.2 509.5L513.5 509.2L514.8 508.9L516.1 508.6L517.4 508.3L518.7 507.9L520.0 507.5L521.2 507.1L522.5 506.7L523.8 506.3L525.1 505.8L526.4 505.3L527.7 504.8L529.0 504.3L530.2 503.7L531.5 503.2L532.8 502.6L534.1 502.1L535.4 501.5L536.7 500.9L538.0 500.2L539.2 499.6L540.5 498.9L541.8 498.2L543.1 497.4L544.4 496.6L545.7 495.8L547.0 494.9L548.3 494.1L549.5 493.2L550.8 492.2L552.1 491.3L553.4 490.3L554.7 489.3L556.0 488.3L557.3 487.3L558.5 486.3L559.8 485.3L561.1 484.2L562.4 483.1L563.7 482.0L565.0 480.8L566.3 479.6L567.5 478.3L568.8 477.1L570.1 475.7L571.4 474.4L572.7 473.1L574.0 471.7L575.3 470.3L576.5 469.0L577.8 467.6L579.1 466.3L580.4 465.0L581.7 463.7L583.0 462.4L584.3 461.2L585.5 459.9L586.8 458.7L588.1 457.4L589.4 456.1L590.7 454.8L592.0 453.5L593.3 452.3L594.5 451.2L595.8 450.1L597.1 449.2L598.4 448.4L599.7 447.7L601.0 447.1L602.3 446.6L603.5 446.0L604.8 445.5L606.1 445.1L607.4 444.7L608.7 444.3L610.0 444.0L611.3 443.8L612.6 443.7L613.8 443.7L615.1 443.7L616.4 443.9L617.7 444.1L619.0 444.4L620.3 444.8L621.6 445.2L622.8 445.6L624.1 446.1L625.4 446.6L626.7 447.1L628.0 447.7L629.3 448.3L630.6 448.9L631.8 449.6L633.1 450.4L634.4 451.2L635.7 452.1L637.0 453.1L638.3 454.1L639.6 455.1L640.8 456.1L642.1 457.1L643.4 458.2L644.7 459.2L646.0 460.3L647.3 461.3L648.6 462.4L649.8 463.5L651.1 464.7L652.4 465.9L653.7 467.1L655.0 468.3L656.3 469.5L657.6 470.8L658.8 472.1L660.1 473.4L661.4 474.8" fill="none" stroke="#dab8f5" stroke-width="0.7" stroke-dasharray="1.3 1.6"/></g>
<g clip-path="url(#cld)"><path d="M378.5 530.8L379.8 530.0L381.1 529.3L382.4 528.6L383.6 527.9L384.9 527.2L386.2 526.6L387.5 525.9L388.8 525.4L390.1 524.8L391.4 524.2L392.6 523.7L393.9 523.1L395.2 522.6L396.5 522.0L397.8 521.4L399.1 520.8L400.4 520.2L401.6 519.6L402.9 519.0L404.2 518.4L405.5 517.9L406.8 517.4L408.1 516.9L409.4 516.4L410.6 516.0L411.9 515.6L413.2 515.2L414.5 514.9L415.8 514.6L417.1 514.4L418.4 514.2L419.7 514.0L420.9 513.8L422.2 513.7L423.5 513.6L424.8 513.5L426.1 513.5L427.4 513.5L428.7 513.5L429.9 513.6L431.2 513.7L432.5 513.8L433.8 514.0L435.1 514.1L436.4 514.2L437.7 514.3L438.9 514.4L440.2 514.5L441.5 514.5L442.8 514.6L444.1 514.6L445.4 514.6L446.7 514.6L447.9 514.6L449.2 514.6L450.5 514.6L451.8 514.6L453.1 514.6L454.4 514.6L455.7 514.6L456.9 514.6L458.2 514.6L459.5 514.5L460.8 514.5L462.1 514.4L463.4 514.4L464.7 514.3L465.9 514.2L467.2 514.1L468.5 514.0L469.8 513.8L471.1 513.7L472.4 513.6L473.7 513.4L474.9 513.3L476.2 513.1L477.5 513.0L478.8 512.8L480.1 512.7L481.4 512.5L482.7 512.4L484.0 512.2L485.2 512.1L486.5 511.9L487.8 511.7L489.1 511.6L490.4 511.4L491.7 511.2L493.0 511.0L494.2 510.9L495.5 510.7L496.8 510.5L498.1 510.3L499.4 510.2L500.7 510.0L502.0 509.8L503.2 509.6L504.5 509.4L505.8 509.2L507.1 509.0L508.4 508.8L509.7 508.6L511.0 508.3L512.2 508.0L513.5 507.8L514.8 507.4L516.1 507.1L517.4 506.8L518.7 506.4L520.0 506.0L521.2 505.5L522.5 505.1L523.8 504.6L525.1 504.1L526.4 503.5L527.7 503.0L529.0 502.4L530.2 501.8L531.5 501.2L532.8 500.6L534.1 500.0L535.4 499.3L536.7 498.6L538.0 497.9L539.2 497.2L540.5 496.4L541.8 495.7L543.1 494.8L544.4 494.0L545.7 493.1L547.0 492.2L548.3 491.3L549.5 490.3L550.8 489.3L552.1 488.3L553.4 487.3L554.7 486.2L556.0 485.1L557.3 484.0L558.5 482.9L559.8 481.7L561.1 480.5L562.4 479.3L563.7 478.0L565.0 476.7L566.3 475.3L567.5 473.9L568.8 472.5L570.1 471.1L571.4 469.6L572.7 468.1L574.0 466.6L575.3 465.0L576.5 463.5L577.8 462.0L579.1 460.5L580.4 459.1L581.7 457.6L583.0 456.2L584.3 454.8L585.5 453.3L586.8 452.0L588.1 450.6L589.4 449.2L590.7 447.9L592.0 446.6L593.3 445.4L594.5 444.2L595.8 443.1L597.1 442.1L598.4 441.1L599.7 440.2L601.0 439.3L602.3 438.5L603.5 437.8L604.8 437.1L606.1 436.4L607.4 435.9L608.7 435.4L610.0 435.0L611.3 434.7L612.6 434.6L613.8 434.5L615.1 434.6L616.4 434.8L617.7 435.1L619.0 435.5L620.3 436.1L621.6 436.7L622.8 437.4L624.1 438.1L625.4 438.9L626.7 439.7L628.0 440.6L629.3 441.6L630.6 442.5L631.8 443.5L633.1 444.6L634.4 445.7L635.7 446.9L637.0 448.2L638.3 449.4L639.6 450.8L640.8 452.1L642.1 453.5L643.4 454.9L644.7 456.2L646.0 457.6L647.3 458.9L648.6 460.3L649.8 461.6L651.1 463.0L652.4 464.3L653.7 465.6L655.0 467.0L656.3 468.3L657.6 469.6L658.8 471.0L660.1 472.3L661.4 473.7" fill="none" stroke="#66268a" stroke-width="1.1"/></g>
<path d="M378.50 284.50H661.50V527.50H378.50Z" fill="none" stroke="#4a4a4a" stroke-width="1"/>
<path d="M378.50 406.10H661.50" fill="none" stroke="#8c8c8c" stroke-width="1.4"/>
<path d="M614.50 289.00V527.50" stroke="#4a4a4a" stroke-width="1.0" stroke-dasharray="4 2.8"/>
<path d="M378.50 527.50V523.30M378.50 403.90V408.30M391.36 527.50V525.30M391.36 404.90V407.30M404.22 527.50V523.30M404.22 403.90V408.30M417.08 527.50V525.30M417.08 404.90V407.30M429.94 527.50V523.30M429.94 403.90V408.30M442.80 527.50V525.30M442.80 404.90V407.30M455.66 527.50V523.30M455.66 403.90V408.30M468.52 527.50V525.30M468.52 404.90V407.30M481.38 527.50V523.30M481.38 403.90V408.30M494.24 527.50V525.30M494.24 404.90V407.30M507.10 527.50V523.30M507.10 403.90V408.30M519.96 527.50V525.30M519.96 404.90V407.30M532.82 527.50V523.30M532.82 403.90V408.30M545.68 527.50V525.30M545.68 404.90V407.30M558.54 527.50V523.30M558.54 403.90V408.30M571.40 527.50V525.30M571.40 404.90V407.30M584.26 527.50V523.30M584.26 403.90V408.30M597.12 527.50V525.30M597.12 404.90V407.30M609.98 527.50V523.30M609.98 403.90V408.30M622.84 527.50V525.30M622.84 404.90V407.30M635.70 527.50V523.30M635.70 403.90V408.30M648.56 527.50V525.30M648.56 404.90V407.30M661.42 527.50V523.30M661.42 403.90V408.30M378.50 403.20H376.00M378.50 388.36H377.20M378.50 373.52H376.00M378.50 358.69H377.20M378.50 343.85H376.00M378.50 329.01H377.20M378.50 314.17H376.00M378.50 299.34H377.20M378.50 284.50H376.00M378.50 527.60H376.00M378.50 514.05H377.20M378.50 500.50H376.00M378.50 486.95H377.20M378.50 473.40H376.00M378.50 459.85H377.20M378.50 446.30H376.00M378.50 432.75H377.20M378.50 419.20H376.00" stroke="#4a4a4a" stroke-width="1"/>
<text x="376.30" y="287.60" text-anchor="end" font-size="10.4" fill="#222" letter-spacing="-0.85">1.00</text>
<text x="376.30" y="317.27" text-anchor="end" font-size="10.4" fill="#222" letter-spacing="-0.85">0.75</text>
<text x="376.30" y="346.95" text-anchor="end" font-size="10.4" fill="#222" letter-spacing="-0.85">0.50</text>
<text x="376.30" y="376.62" text-anchor="end" font-size="10.4" fill="#222" letter-spacing="-0.85">0.25</text>
<text x="376.30" y="406.30" text-anchor="end" font-size="10.4" fill="#222" letter-spacing="-0.85">0.00</text>
<text x="376.30" y="422.30" text-anchor="end" font-size="10.4" fill="#222" letter-spacing="-0.85">0.04</text>
<text x="376.30" y="449.40" text-anchor="end" font-size="10.4" fill="#222" letter-spacing="-0.85">0.03</text>
<text x="376.30" y="476.50" text-anchor="end" font-size="10.4" fill="#222" letter-spacing="-0.85">0.02</text>
<text x="376.30" y="503.60" text-anchor="end" font-size="10.4" fill="#222" letter-spacing="-0.85">0.01</text>
<text x="376.30" y="530.70" text-anchor="end" font-size="10.4" fill="#222" letter-spacing="-0.85">0.00</text>
<text x="379.30" y="537.90" text-anchor="middle" font-size="10.4" fill="#222" letter-spacing="-0.45">10</text>
<text x="405.02" y="537.90" text-anchor="middle" font-size="10.4" fill="#222" letter-spacing="-0.45">15</text>
<text x="430.74" y="537.90" text-anchor="middle" font-size="10.4" fill="#222" letter-spacing="-0.45">20</text>
<text x="456.46" y="537.90" text-anchor="middle" font-size="10.4" fill="#222" letter-spacing="-0.45">25</text>
<text x="482.18" y="537.90" text-anchor="middle" font-size="10.4" fill="#222" letter-spacing="-0.45">30</text>
<text x="507.90" y="537.90" text-anchor="middle" font-size="10.4" fill="#222" letter-spacing="-0.45">35</text>
<text x="533.62" y="537.90" text-anchor="middle" font-size="10.4" fill="#222" letter-spacing="-0.45">40</text>
<text x="559.34" y="537.90" text-anchor="middle" font-size="10.4" fill="#222" letter-spacing="-0.45">45</text>
<text x="585.06" y="537.90" text-anchor="middle" font-size="10.4" fill="#222" letter-spacing="-0.45">50</text>
<text x="610.78" y="537.90" text-anchor="middle" font-size="10.4" fill="#222" letter-spacing="-0.45">55</text>
<text x="636.50" y="537.90" text-anchor="middle" font-size="10.4" fill="#222" letter-spacing="-0.45">60</text>
<text x="662.22" y="537.90" text-anchor="middle" font-size="10.4" fill="#222" letter-spacing="-0.45">65</text>
<text x="391.60" y="310.10" font-size="11.4" fill="#111">(d)</text>
<text x="391.60" y="426.30" font-size="11.4" fill="#111">(d’)</text>
<text x="519.00" y="309.50" font-size="11.2" fill="#111">ATP7 + adenosine</text>
<text x="466.60" y="548.80" font-size="10.85" fill="#111">Temperature (°C)</text>
<text transform="translate(343.70 344.10) rotate(-90)" text-anchor="middle" font-size="10.9" fill="#111">Normalized UV 260 nm</text>
<text transform="translate(354.30 344.10) rotate(-90)" text-anchor="middle" font-size="10.9" fill="#111">Absorbance (a.u.)</text>
<text transform="translate(350.20 466.20) rotate(-90)" text-anchor="middle" font-size="10.8" fill="#111">1<tspan font-size="6.8" dy="-3.6">st</tspan><tspan dy="3.6"> Derivative</tspan></text>
</svg></body></html>
